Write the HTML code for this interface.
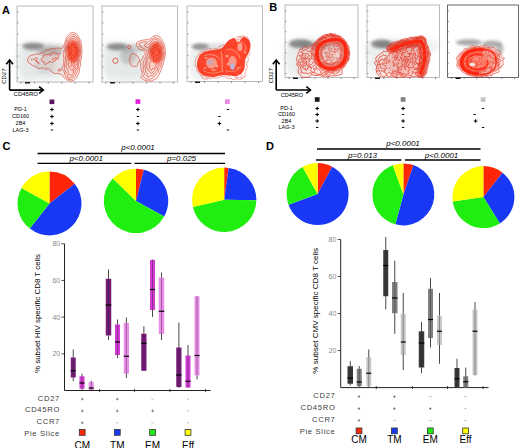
<!DOCTYPE html>
<html><head><meta charset="utf-8"><style>html,body{margin:0;padding:0;background:#fff;width:520px;height:448px;overflow:hidden}</style></head>
<body><svg width="520" height="448" viewBox="0 0 520 448" style="display:block" font-family='"Liberation Sans", sans-serif'>
<rect width="520" height="448" fill="#fff"/>
<defs>
<filter id="bl" x="-50%" y="-50%" width="200%" height="200%"><feGaussianBlur stdDeviation="2"/></filter>
<filter id="bl05" x="-50%" y="-50%" width="200%" height="200%"><feGaussianBlur stdDeviation="0.5"/></filter>
<filter id="bl15" x="-50%" y="-50%" width="200%" height="200%"><feGaussianBlur stdDeviation="1.4"/></filter>
<filter id="bl1" x="-50%" y="-50%" width="200%" height="200%"><feGaussianBlur stdDeviation="1"/></filter>
<filter id="bl3" x="-50%" y="-50%" width="200%" height="200%"><feGaussianBlur stdDeviation="3.5"/></filter>
</defs>
<text x="2" y="14" font-size="11" text-anchor="start" fill="#000" font-weight="bold">A</text>
<text x="269.3" y="11" font-size="11" text-anchor="start" fill="#000" font-weight="bold">B</text>
<text x="2.5" y="150" font-size="11" text-anchor="start" fill="#000" font-weight="bold">C</text>
<text x="266" y="150" font-size="11" text-anchor="start" fill="#000" font-weight="bold">D</text>
<rect x="17" y="6" width="76" height="76" fill="#fff" stroke="#a8a8a8" stroke-width="0.8"/>
<rect x="102" y="6" width="75.5" height="76" fill="#fff" stroke="#a8a8a8" stroke-width="0.8"/>
<rect x="187" y="6" width="75.5" height="75.5" fill="#fff" stroke="#a8a8a8" stroke-width="0.8"/>
<rect x="285" y="5" width="73" height="72.5" fill="#fff" stroke="#a8a8a8" stroke-width="0.8"/>
<rect x="367" y="5" width="72.5" height="72.5" fill="#fff" stroke="#a8a8a8" stroke-width="0.8"/>
<rect x="447.6" y="5" width="70.89999999999998" height="72.5" fill="#fff" stroke="#444" stroke-width="0.8"/>
<path d="M20.0,45.0 C24.2,39.3 37.7,42.8 45.0,44.0 C52.3,45.2 60.8,46.7 64.0,52.0 C67.2,57.3 68.8,71.3 64.0,76.0 C59.2,80.7 42.3,79.7 35.0,80.0 C27.7,80.3 22.5,83.8 20.0,78.0 C17.5,72.2 15.8,50.7 20.0,45.0 Z" fill="#9aa8a8" opacity="0.26" filter="url(#bl3)"/>
<ellipse cx="48" cy="48" rx="24" ry="4" fill="#6e6e6e" opacity="0.25" filter="url(#bl15)"/>
<ellipse cx="33" cy="46" rx="11" ry="3.2" fill="#6e6e6e" opacity="0.7" filter="url(#bl15)"/>
<ellipse cx="50" cy="52" rx="12" ry="4.5" fill="#6e6e6e" opacity="0.3" filter="url(#bl15)"/>
<ellipse cx="45" cy="66" rx="10" ry="8" fill="#6e6e6e" opacity="0.12" filter="url(#bl15)"/>
<ellipse cx="73" cy="52" rx="5.5" ry="11" fill="#ff2a10" opacity="0.75" filter="url(#bl1)"/>
<path d="M71.8,81.0 71.0,81.2 70.5,81.2 69.0,80.8 67.8,80.4 66.5,79.7 65.6,79.0 64.0,77.6 63.8,77.2 63.4,76.2 63.1,75.8 62.5,75.0 62.0,74.6 61.5,74.4 60.8,74.4 60.2,74.3 59.5,73.9 59.0,73.7 57.8,73.6 56.5,73.4 55.2,73.6 54.8,73.6 53.9,73.2 52.5,72.5 52.1,72.2 51.4,71.2 50.5,70.8 50.2,70.5 49.2,69.0 48.9,68.8 48.5,68.7 48.0,68.7 47.2,69.1 46.5,69.1 45.8,69.2 45.2,69.2 44.9,69.0 44.2,68.4 43.2,68.2 42.2,67.8 42.0,67.8 41.0,68.3 40.0,68.3 38.8,68.6 38.2,68.5 37.9,68.2 37.5,67.5 37.2,67.2 37.0,67.1 36.2,67.1 36.0,67.0 35.0,66.4 34.0,65.9 32.8,65.6 32.0,64.7 30.8,64.1 29.5,63.4 28.6,62.8 28.2,62.2 27.5,60.2 27.5,59.8 27.8,58.8 28.6,57.8 28.8,56.8 28.9,56.5 29.2,56.2 31.2,55.2 34.2,54.6 35.8,54.0 36.5,53.9 39.2,54.1 40.0,53.8 41.5,52.7 42.0,52.5 42.2,52.4 43.2,52.8 43.5,52.8 44.0,52.5 44.7,51.2 45.1,50.8 45.5,50.3 46.0,50.0 46.8,49.8 48.0,49.8 49.0,49.9 49.2,49.8 50.5,48.9 51.2,48.6 51.8,48.6 52.8,48.7 54.2,48.2 54.8,48.2 55.8,48.7 56.0,48.6 56.6,48.0 57.0,47.9 58.2,48.2 59.8,48.0 60.2,48.2 60.5,48.9 60.8,48.8 62.8,47.2 64.0,45.5 64.2,45.0 64.3,43.8 64.8,42.8 65.2,41.2 65.8,39.8 66.4,37.8 68.0,35.5 69.9,33.5 70.5,33.1 71.2,32.7 72.5,32.4 73.2,32.4 74.0,32.6 75.0,33.3 76.5,33.9 77.2,34.5 77.8,35.2 78.5,37.0 80.3,39.8 80.7,40.5 82.0,48.0 82.0,49.0 81.9,51.0 81.9,52.5 81.8,54.2 81.5,56.0 81.3,59.0 80.8,60.7 80.6,61.2 80.7,64.2 80.2,66.0 80.1,67.2 79.5,68.2 79.4,68.5 79.7,70.0 79.3,71.2 79.0,73.0 78.0,75.0 77.2,76.2 76.7,77.5 75.4,78.8 74.7,79.8 74.4,80.0 74.0,80.3 71.8,81.0ZM46.4,67.5 46.4,67.2 46.2,67.0 46.0,67.2 46.1,67.5 46.2,67.6 46.4,67.5Z" fill="#ff4a2a" fill-opacity="0.05" stroke="#d8301c" stroke-width="0.65" stroke-opacity="0.9"/>
<path d="M71.5,79.6 70.8,79.7 68.2,79.3 67.5,78.9 66.7,78.2 66.0,77.2 65.5,75.8 64.9,74.8 64.7,74.2 64.7,73.0 64.2,72.0 64.0,71.5 63.2,70.5 62.8,69.6 62.5,69.3 62.0,69.0 61.8,68.8 61.8,68.5 62.0,67.8 62.8,67.0 62.9,66.8 63.1,65.5 63.5,64.8 63.7,64.2 63.8,61.8 63.8,61.3 63.5,60.5 63.4,60.2 63.5,60.0 64.0,59.3 64.0,59.0 63.8,58.2 63.8,57.0 63.4,56.0 63.8,54.2 63.8,53.0 64.0,51.8 64.0,50.8 64.1,50.2 64.8,49.1 64.9,48.5 65.2,46.5 65.8,45.0 66.2,42.2 66.6,40.8 67.2,39.1 68.8,37.3 71.4,35.0 72.2,34.6 72.8,34.5 75.0,35.0 75.7,35.5 76.7,36.5 77.4,37.8 78.7,39.2 79.3,40.2 79.6,41.0 79.6,42.5 80.0,43.5 80.2,44.8 80.6,46.2 80.5,47.8 80.8,49.5 80.7,51.0 80.8,52.2 80.6,54.2 80.1,56.0 79.9,57.8 79.9,59.2 79.4,61.0 79.1,62.8 78.7,64.8 78.5,67.2 78.1,69.2 77.7,70.2 77.4,71.2 75.9,74.8 74.8,76.8 74.0,77.3 72.8,78.8 72.1,79.2 71.5,79.6ZM45.0,64.5 44.5,64.4 44.1,64.0 44.0,63.5 44.4,62.8 44.4,62.5 44.2,62.0 44.0,61.8 43.8,61.7 43.0,61.8 42.8,61.7 42.5,61.5 41.8,60.4 41.1,59.8 41.0,59.5 41.0,59.2 41.2,58.9 42.8,58.0 43.3,57.5 43.4,57.0 43.2,55.8 43.2,55.5 43.5,55.1 44.0,54.9 45.0,55.1 45.5,55.1 46.8,54.5 47.8,54.4 48.8,54.0 49.2,54.0 49.7,54.2 50.2,55.5 50.5,55.6 50.8,55.5 51.0,55.1 51.1,54.8 51.0,54.2 50.5,53.5 50.6,53.2 50.9,53.0 51.2,52.9 52.5,53.0 52.8,52.9 53.0,52.8 53.5,52.2 54.0,51.9 54.4,52.0 54.6,52.2 54.8,53.4 55.1,53.8 55.5,53.8 55.8,53.7 56.8,53.0 57.0,53.0 57.5,53.2 57.7,53.8 57.9,55.0 58.4,55.8 58.5,56.0 58.5,56.2 58.0,57.2 57.8,57.8 57.9,58.2 58.4,59.0 58.3,59.2 58.2,59.3 58.0,59.4 56.8,59.0 56.2,59.0 56.0,59.2 55.7,59.8 55.2,61.0 55.0,61.2 54.2,61.6 53.2,61.6 53.0,61.7 52.4,62.2 52.0,62.4 51.5,62.5 51.0,62.3 50.5,61.5 50.0,61.2 49.8,61.2 49.3,62.0 48.4,63.0 47.8,63.3 46.8,63.6 45.8,64.3 45.0,64.5ZM60.2,54.1 60.0,54.2 59.8,54.2 59.5,54.0 59.4,53.8 59.5,53.5 59.9,53.2 60.2,53.3 60.4,53.5 60.4,53.8 60.2,54.1ZM36.2,60.8 36.0,60.9 35.8,60.8 35.0,60.5 34.7,60.2 34.2,59.2 33.6,58.8 34.8,58.4 35.0,58.2 35.4,57.8 35.8,57.5 36.2,57.5 37.0,57.8 37.4,58.0 37.4,58.2 37.4,58.5 37.2,58.8 36.6,59.2 36.5,59.4 36.2,60.8ZM56.3,58.5 56.5,58.0 56.4,57.8 56.3,57.5 56.0,57.4 55.8,57.4 55.5,57.5 55.3,57.8 55.2,58.0 55.2,58.3 55.5,58.5 55.8,58.7 56.0,58.7 56.3,58.5ZM53.8,59.8 54.1,59.5 54.1,59.2 54.0,58.8 53.7,58.5 53.3,58.2 53.0,58.2 52.8,58.3 52.4,58.5 52.4,58.8 52.4,59.0 53.0,59.8 53.2,59.9 53.5,59.9 53.8,59.8ZM32.0,59.8 31.8,59.8 31.5,59.8 31.3,59.5 31.4,59.2 31.8,59.0 32.0,58.9 32.4,59.0 32.5,59.2 32.3,59.5 32.0,59.8ZM38.8,63.8 38.5,63.9 38.2,63.0 38.0,62.8 36.7,62.0 36.5,61.8 36.4,61.5 36.5,61.2 36.8,61.1 37.2,61.2 37.8,61.5 38.0,61.8 38.4,62.5 38.8,63.0 38.9,63.5 38.8,63.8ZM59.0,71.0 58.5,71.0 58.2,70.8 58.0,70.5 57.9,70.0 58.1,69.8 59.0,69.4 59.8,68.9 60.0,68.8 60.6,69.0 61.2,69.4 61.3,69.5 61.3,69.8 61.2,70.0 60.8,70.4 60.0,70.8 59.0,71.0Z" fill="#ff4a2a" fill-opacity="0.05" stroke="#d8301c" stroke-width="0.65" stroke-opacity="0.9"/>
<path d="M70.0,78.0 69.2,78.2 68.8,78.2 68.2,78.0 68.0,77.8 67.8,77.5 67.7,77.0 67.6,75.8 67.6,75.0 67.5,74.6 67.2,74.2 66.5,73.4 65.8,72.1 65.2,71.2 64.5,69.8 64.3,69.2 64.4,68.8 64.8,68.0 64.6,66.0 64.7,63.8 65.1,62.0 65.5,60.8 65.6,60.2 65.5,57.2 65.3,56.0 65.4,55.5 65.8,54.5 65.9,54.0 65.8,53.5 65.5,52.5 65.3,50.5 65.8,49.2 66.2,46.8 66.6,45.8 66.9,44.5 67.3,43.5 67.7,41.8 67.9,41.0 68.1,40.5 69.6,38.5 70.8,37.7 71.8,36.8 72.5,36.5 73.2,36.4 74.0,36.4 74.5,36.6 74.8,36.7 75.5,37.5 76.7,38.5 77.6,39.8 78.2,41.0 78.4,41.5 78.6,42.8 79.5,45.5 79.6,46.2 79.7,48.0 80.0,49.8 80.0,52.5 79.7,54.0 79.0,56.5 78.7,58.5 78.6,59.5 78.0,61.8 77.9,63.8 77.5,65.5 77.6,66.5 77.5,67.0 77.1,68.0 76.8,69.0 76.5,69.5 75.4,70.5 75.2,70.8 75.2,71.0 75.2,71.8 74.9,72.8 74.5,73.7 73.9,74.5 73.4,75.8 72.5,76.9 72.2,77.1 71.1,77.5 70.0,78.0Z" fill="#ff4a2a" fill-opacity="0.05" stroke="#d8301c" stroke-width="0.65" stroke-opacity="0.9"/>
<path d="M71.5,75.5 71.2,75.6 71.0,75.5 70.2,74.9 69.5,74.8 69.2,74.7 68.8,74.0 68.3,73.2 68.0,72.5 67.9,72.0 67.9,71.0 67.9,70.5 67.8,70.2 67.2,69.5 67.1,69.2 67.1,68.5 67.1,68.2 66.2,67.5 66.0,67.1 65.9,66.8 66.0,65.9 66.2,65.4 66.8,64.8 67.0,64.0 66.9,63.2 66.5,62.2 66.4,61.8 66.9,60.5 66.8,59.5 67.0,57.8 66.8,55.8 67.0,54.5 67.0,53.0 66.6,50.5 66.6,50.0 66.9,48.0 67.5,46.5 67.6,45.0 68.3,43.5 68.6,41.8 68.9,41.0 70.2,39.5 70.8,39.1 71.2,38.9 72.2,38.7 73.2,38.1 73.8,38.0 74.2,38.2 75.0,39.1 76.0,39.7 77.2,41.6 77.8,43.2 78.5,45.0 78.6,45.5 78.7,46.8 79.3,49.5 79.4,50.0 79.0,53.0 78.7,54.8 78.1,57.2 77.6,58.5 76.9,62.0 77.1,63.2 77.1,63.8 76.9,64.2 76.0,65.8 75.4,66.2 75.2,66.5 75.2,67.0 75.6,68.2 75.6,68.8 75.5,69.0 75.2,69.2 74.1,69.8 73.8,70.0 73.7,70.5 73.6,72.0 73.5,72.5 72.6,73.5 72.0,75.0 71.8,75.3 71.5,75.5Z" fill="#ff4a2a" fill-opacity="0.05" stroke="#d8301c" stroke-width="0.65" stroke-opacity="0.9"/>
<path d="M72.2,70.4 71.8,70.2 71.2,69.8 70.8,69.2 69.8,68.5 69.0,67.8 68.8,67.2 68.7,66.2 68.3,64.8 68.2,64.0 68.3,63.5 68.5,63.2 69.0,62.8 69.1,62.5 68.7,61.8 68.2,59.5 68.3,58.2 68.2,56.5 68.5,55.0 68.3,54.0 68.3,53.0 67.7,51.5 67.6,50.8 67.7,50.2 68.0,49.2 68.0,48.8 67.9,48.2 67.9,47.8 68.3,46.5 68.5,45.0 69.0,43.8 69.3,42.5 69.5,41.8 69.8,41.4 70.0,41.1 71.5,40.2 72.0,40.0 73.5,40.0 74.0,40.2 74.8,41.1 76.0,41.6 76.3,42.0 76.8,43.5 77.5,44.5 77.8,45.0 77.8,45.5 77.7,46.5 77.7,47.0 78.1,48.0 78.5,49.2 78.6,50.2 78.4,51.8 77.9,53.5 77.9,54.8 77.5,56.5 77.4,57.0 76.7,58.0 76.6,59.2 76.4,60.8 76.0,61.3 75.0,61.9 74.7,62.2 74.6,63.0 74.8,63.5 75.1,64.0 75.2,64.2 75.1,64.5 75.0,64.8 74.2,65.5 73.8,66.2 73.7,66.8 74.0,67.8 74.0,68.0 73.8,68.2 72.9,69.0 72.5,70.2 72.2,70.4Z" fill="#ff4a2a" fill-opacity="0.05" stroke="#d8301c" stroke-width="0.65" stroke-opacity="0.9"/>
<path d="M71.2,66.6 71.0,66.6 70.8,66.3 70.6,65.8 70.6,65.5 70.8,65.2 71.5,64.7 71.7,64.2 71.7,64.0 71.1,63.2 71.0,63.0 71.0,62.5 71.2,62.0 72.1,61.0 72.3,60.5 72.2,60.2 71.8,60.1 70.0,60.1 69.7,60.0 69.4,59.5 69.3,58.8 69.7,57.5 69.1,56.8 69.0,56.2 69.1,55.0 69.0,52.0 68.5,50.8 68.5,50.2 68.8,49.2 68.5,47.8 68.7,46.8 69.2,45.5 69.5,45.0 70.0,44.5 70.1,43.2 70.2,42.8 70.5,42.6 72.2,41.6 72.8,41.4 73.2,41.4 74.0,41.8 75.2,42.6 75.6,43.0 75.9,44.2 76.6,45.2 76.8,45.8 77.0,47.1 77.4,48.2 77.7,49.5 77.8,50.2 77.8,51.0 77.6,52.0 77.0,53.5 77.0,55.2 76.8,56.5 76.5,56.9 75.8,57.5 75.6,57.8 75.3,59.0 75.1,60.0 75.0,60.2 74.0,60.6 73.7,61.0 73.6,61.5 73.2,63.5 73.3,64.5 73.2,65.0 73.0,65.3 72.8,65.5 72.0,65.8 71.2,66.6Z" fill="#ff4a2a" fill-opacity="0.05" stroke="#d8301c" stroke-width="0.65" stroke-opacity="0.9"/>
<path d="M72.0,58.8 71.5,58.8 71.3,58.8 71.2,58.5 71.3,57.2 71.3,56.8 71.0,56.5 70.1,56.0 69.9,55.8 69.8,54.5 69.9,53.8 70.1,53.2 70.8,52.5 70.8,52.0 70.6,51.5 69.9,50.2 69.9,49.2 69.3,48.2 69.2,47.5 69.4,46.8 69.7,46.2 70.0,46.0 70.8,45.6 71.0,45.4 71.2,45.0 71.7,44.0 72.0,43.6 72.2,43.4 72.8,43.2 73.5,43.1 74.5,43.4 74.9,43.8 75.1,44.2 75.3,45.0 76.1,46.2 76.9,48.8 77.0,50.2 77.0,51.0 76.9,51.8 76.5,53.0 76.2,54.8 76.0,55.2 75.7,55.8 75.0,56.6 73.9,57.5 73.6,58.0 73.4,58.2 73.0,58.5 72.0,58.8Z" fill="#ff4a2a" fill-opacity="0.05" stroke="#d8301c" stroke-width="0.65" stroke-opacity="0.9"/>
<path d="M74.0,56.1 73.5,56.2 73.2,56.1 72.7,55.8 72.2,55.2 72.1,55.0 72.0,54.3 71.5,53.9 71.4,53.8 71.5,53.5 71.8,52.8 71.9,52.2 71.9,52.0 71.4,51.2 71.2,50.8 71.2,50.4 71.6,49.8 71.6,49.5 71.2,48.5 71.0,48.1 70.5,47.5 70.4,47.2 70.5,47.0 70.6,46.8 71.6,46.0 72.1,45.5 72.6,44.5 73.0,44.3 73.2,44.3 73.6,44.5 73.6,44.8 73.3,45.5 73.5,47.0 73.8,47.2 74.7,47.8 75.0,49.6 75.2,50.1 75.8,51.0 76.0,51.5 75.9,52.2 75.8,53.0 75.5,53.5 74.9,54.0 74.6,55.5 74.2,56.0 74.0,56.1ZM75.2,47.8 75.0,47.7 74.8,47.5 74.8,47.0 75.0,46.8 75.2,46.8 75.5,47.2 75.5,47.7 75.2,47.8Z" fill="#ff4a2a" fill-opacity="0.05" stroke="#d8301c" stroke-width="0.65" stroke-opacity="0.9"/>
<path d="M105.0,45.0 C109.2,39.8 123.2,42.3 130.0,44.0 C136.8,45.7 143.5,49.3 146.0,55.0 C148.5,60.7 150.2,73.8 145.0,78.0 C139.8,82.2 121.7,80.5 115.0,80.0 C108.3,79.5 106.7,80.8 105.0,75.0 C103.3,69.2 100.8,50.2 105.0,45.0 Z" fill="#9aa8a8" opacity="0.26" filter="url(#bl3)"/>
<ellipse cx="132" cy="48" rx="24" ry="4" fill="#6e6e6e" opacity="0.25" filter="url(#bl15)"/>
<ellipse cx="117" cy="46.5" rx="10.5" ry="3.2" fill="#6e6e6e" opacity="0.7" filter="url(#bl15)"/>
<ellipse cx="128" cy="56" rx="8" ry="8" fill="#6e6e6e" opacity="0.28" filter="url(#bl15)"/>
<ellipse cx="156" cy="53" rx="5.5" ry="10.5" fill="#ff2a10" opacity="0.72" filter="url(#bl1)"/>
<circle cx="115.4" cy="60.8" r="2.6" fill="none" stroke="#d8301c" stroke-width="0.7"/>
<circle cx="129.2" cy="47" r="1.6" fill="none" stroke="#d8301c" stroke-width="0.7"/>
<path d="M150.2,81.0 147.0,80.9 144.2,80.1 143.5,79.8 141.4,78.2 140.9,77.8 140.6,77.2 140.6,77.0 140.7,76.8 141.5,76.0 141.8,75.6 142.3,74.2 142.3,73.5 142.1,72.5 141.0,69.5 141.0,69.0 141.1,67.8 141.0,67.4 140.6,66.5 140.5,65.5 140.6,65.0 140.8,64.2 140.9,63.8 140.8,63.4 140.0,62.2 139.9,61.8 140.1,61.5 140.8,61.1 141.0,60.8 142.0,59.3 142.6,58.2 143.4,56.0 143.7,55.5 144.5,54.8 144.9,54.2 145.0,53.8 145.2,52.0 145.0,51.5 144.8,51.2 144.2,50.8 141.2,49.8 140.0,49.5 139.4,49.2 138.0,48.0 137.4,46.8 136.4,45.5 136.2,44.8 137.0,42.5 137.5,42.0 139.0,41.2 141.8,40.2 143.0,40.2 145.8,39.7 147.2,39.7 149.5,39.2 150.1,39.0 151.0,38.1 152.0,37.6 152.8,36.7 154.0,35.9 155.0,35.6 156.5,35.6 157.1,35.8 158.2,36.3 159.2,36.5 159.6,36.8 159.8,37.0 160.5,38.2 161.7,39.2 162.0,39.6 162.2,40.0 162.5,41.0 162.6,41.2 163.4,42.0 163.7,42.5 164.1,44.2 164.6,45.5 165.0,47.2 165.0,48.5 165.2,50.0 165.2,51.2 165.4,53.0 165.2,56.0 164.1,60.0 163.8,61.5 162.8,64.7 162.5,66.0 162.4,66.5 161.6,68.0 161.2,69.5 160.5,70.8 160.2,72.0 159.8,73.0 159.0,74.3 158.3,75.8 157.5,76.9 157.0,78.0 155.2,79.2 154.2,79.6 153.5,80.2 153.1,80.5 152.0,80.8 150.2,81.0ZM136.2,66.6 135.8,66.6 132.8,66.0 131.8,66.1 131.2,65.8 130.8,65.2 130.4,64.8 130.2,64.2 130.0,63.0 129.8,61.8 129.5,61.1 129.3,60.5 129.2,59.2 129.4,58.8 129.9,58.0 130.1,57.5 130.0,56.0 130.2,55.5 131.0,54.7 131.7,53.8 132.0,53.5 132.2,53.4 133.0,53.4 134.0,53.8 134.8,54.1 135.6,54.8 136.5,55.0 137.0,55.4 137.5,56.0 138.0,57.3 138.8,58.7 139.7,59.8 139.7,60.2 139.5,61.2 139.3,61.5 138.8,61.9 138.3,62.5 137.7,63.8 137.6,64.8 137.4,65.2 136.8,66.2 136.2,66.6Z" fill="#ff4a2a" fill-opacity="0.05" stroke="#d8301c" stroke-width="0.65" stroke-opacity="0.9"/>
<path d="M148.8,79.3 147.2,79.1 145.2,78.5 144.8,78.1 144.2,77.4 143.6,76.8 143.3,76.2 143.5,75.5 143.8,75.1 144.5,74.5 144.6,74.0 144.5,73.5 144.0,72.7 143.2,71.2 143.1,70.5 143.1,70.0 143.4,67.8 143.0,65.2 143.3,62.8 143.8,60.8 144.2,60.0 144.6,58.8 145.2,57.8 145.6,57.0 145.9,55.2 146.8,53.8 147.0,53.2 147.0,52.5 146.9,51.0 146.8,50.5 146.3,50.0 144.8,49.1 143.2,48.8 142.9,48.5 142.5,47.8 142.0,47.3 141.5,47.1 140.8,47.2 140.5,47.1 140.3,47.0 139.4,44.5 139.3,44.0 139.3,43.5 139.5,43.2 139.8,43.0 141.0,42.7 141.8,42.2 142.2,42.0 142.8,42.0 143.8,42.1 145.0,41.7 147.2,41.9 148.8,41.7 149.0,41.6 149.7,41.0 151.8,39.5 153.2,38.8 154.2,37.6 154.8,37.3 155.2,37.2 155.8,37.5 156.5,38.3 157.2,38.5 158.5,38.6 159.2,39.1 159.9,39.8 161.0,41.5 162.0,42.5 162.2,42.8 162.8,44.9 163.4,46.2 163.6,48.0 164.0,49.5 163.8,51.2 163.9,51.8 164.4,52.8 164.5,53.2 164.4,53.8 164.2,54.5 163.8,55.5 163.6,57.0 163.0,59.2 162.5,61.2 162.3,61.8 161.5,62.8 161.3,64.5 161.1,65.2 160.1,67.5 159.0,69.2 158.4,71.0 158.1,72.0 157.9,72.5 157.0,73.5 155.8,74.4 155.0,75.7 154.0,77.0 153.8,77.2 153.0,77.7 152.0,78.4 151.5,78.6 150.0,79.1 148.8,79.3Z" fill="#ff4a2a" fill-opacity="0.05" stroke="#d8301c" stroke-width="0.65" stroke-opacity="0.9"/>
<path d="M148.5,76.8 148.0,76.8 147.5,76.7 147.2,76.6 147.1,76.2 147.0,75.8 147.2,74.8 147.1,74.2 146.8,73.5 146.1,72.5 145.9,72.0 145.8,71.2 145.3,70.0 145.3,69.5 145.4,68.5 144.8,66.5 144.7,65.8 144.8,65.2 145.4,64.0 145.4,63.5 145.2,62.8 145.2,62.2 145.4,62.0 146.1,61.2 146.4,60.8 146.3,60.2 146.1,59.5 146.1,58.8 146.4,58.0 147.2,57.0 147.4,56.5 147.5,55.5 148.5,52.0 148.4,49.8 148.4,48.2 148.2,47.7 148.0,47.4 146.2,47.1 145.5,46.7 145.0,46.4 144.8,46.0 144.6,45.5 144.5,44.5 144.6,44.2 144.9,44.0 146.0,43.5 146.5,43.4 147.0,43.5 147.2,43.6 148.0,44.4 148.2,44.5 148.5,44.4 150.0,43.1 150.9,42.0 151.7,41.2 152.4,40.5 153.8,39.8 154.5,39.2 155.0,39.1 156.8,39.7 158.5,40.6 159.2,41.2 160.5,42.3 161.1,43.0 161.5,44.2 162.1,45.8 162.7,47.8 162.9,49.8 162.9,51.5 163.4,53.0 163.5,53.8 163.0,55.0 162.8,56.5 162.4,57.5 162.0,59.2 161.1,61.2 160.3,62.2 160.2,62.8 160.2,63.8 160.0,64.2 158.4,66.8 157.6,68.5 157.5,69.0 157.4,70.0 157.2,70.5 156.8,71.0 154.5,73.0 154.2,73.5 153.8,74.5 152.8,75.6 152.2,75.7 151.5,75.6 151.0,75.7 149.2,76.5 148.5,76.8Z" fill="#ff4a2a" fill-opacity="0.05" stroke="#d8301c" stroke-width="0.65" stroke-opacity="0.9"/>
<path d="M152.0,73.3 151.5,73.4 151.1,73.2 150.4,72.5 148.9,71.2 148.5,70.8 147.5,68.9 146.8,68.0 146.7,67.5 146.8,66.8 146.5,65.8 146.5,65.2 146.8,64.5 146.8,64.2 146.5,63.2 146.5,62.8 146.7,62.2 147.3,61.5 147.5,61.0 147.8,59.2 147.7,58.8 147.8,58.4 148.8,56.8 149.2,55.8 149.3,53.8 149.7,52.2 149.7,51.0 149.8,49.2 149.4,48.0 149.4,47.5 149.5,46.5 149.8,45.8 150.7,44.0 151.5,43.0 152.0,42.8 154.2,41.9 155.2,41.4 155.8,41.3 156.0,41.3 156.2,41.4 157.2,42.0 158.2,42.3 159.5,42.9 160.0,43.2 160.1,43.5 160.2,44.8 160.3,45.0 161.0,45.6 161.3,46.0 161.9,48.2 162.1,49.8 161.8,51.5 162.3,53.0 162.4,53.5 162.4,54.0 162.0,56.0 161.4,57.2 161.3,58.8 160.7,60.2 160.2,60.8 159.6,61.2 159.3,61.5 159.0,63.0 158.5,63.8 158.1,64.8 156.9,66.5 156.4,67.5 155.8,68.5 155.2,69.5 154.8,70.0 153.9,70.8 153.3,71.8 152.2,73.2 152.0,73.3Z" fill="#ff4a2a" fill-opacity="0.05" stroke="#d8301c" stroke-width="0.65" stroke-opacity="0.9"/>
<path d="M151.5,70.2 151.2,70.2 151.0,70.1 150.3,69.2 149.9,68.5 149.7,67.8 149.4,66.0 149.3,64.8 148.9,63.8 148.8,63.2 148.8,63.0 149.0,62.8 149.2,62.6 149.5,62.5 150.2,62.5 150.7,62.2 150.9,61.8 150.9,61.0 150.8,60.5 150.2,59.6 150.1,59.0 149.9,57.0 150.0,56.2 150.4,55.2 150.3,54.2 150.5,52.2 150.5,50.5 150.8,49.0 150.9,48.0 151.3,46.8 151.3,45.5 151.5,44.8 152.0,44.3 152.5,44.1 153.8,43.9 154.1,43.8 154.8,43.0 155.2,42.7 155.5,42.7 156.2,42.8 157.5,42.8 158.0,43.0 158.6,43.5 158.8,44.0 159.0,45.0 159.4,45.5 160.5,46.4 160.8,47.0 161.2,49.5 161.0,51.0 161.0,51.5 161.6,53.5 161.6,54.0 161.4,55.2 161.1,56.0 160.7,57.0 160.6,57.5 160.5,58.8 160.1,59.8 159.8,60.1 158.8,60.7 158.5,61.0 157.9,62.2 157.3,63.0 156.9,63.5 155.8,64.5 155.4,65.2 155.2,66.8 154.4,68.2 154.1,68.5 153.8,68.6 152.8,68.6 152.4,68.8 152.1,69.0 151.8,69.8 151.5,70.2Z" fill="#ff4a2a" fill-opacity="0.05" stroke="#d8301c" stroke-width="0.65" stroke-opacity="0.9"/>
<path d="M153.8,62.3 153.5,62.2 153.5,62.0 153.9,61.2 153.9,61.0 153.7,60.8 153.5,60.5 153.2,60.3 152.2,60.1 152.0,59.9 151.3,58.8 151.1,58.2 150.9,56.8 151.0,56.5 151.5,55.5 151.5,54.8 151.5,53.5 151.1,51.2 151.1,50.5 151.2,50.0 152.2,47.5 152.4,46.2 152.7,45.8 153.2,45.4 154.5,45.0 155.5,44.4 156.8,43.8 157.2,43.7 157.5,43.8 157.8,44.0 158.3,45.5 158.5,45.8 159.7,46.8 160.1,47.5 160.3,49.0 160.3,51.5 160.7,53.5 160.7,55.2 159.7,57.5 159.1,59.2 158.8,59.7 158.0,60.3 157.2,61.3 156.8,61.6 156.2,61.6 156.0,61.5 155.2,60.6 155.0,60.6 154.4,61.0 154.0,62.1 153.8,62.3Z" fill="#ff4a2a" fill-opacity="0.05" stroke="#d8301c" stroke-width="0.65" stroke-opacity="0.9"/>
<path d="M156.8,59.3 156.0,58.6 155.5,58.4 155.2,58.5 154.8,58.9 154.2,59.1 153.5,58.9 153.2,58.8 153.1,58.5 152.9,58.0 152.9,57.8 153.0,57.5 153.2,57.3 154.2,57.0 154.2,56.8 152.8,56.3 152.5,56.0 152.4,55.8 152.5,55.4 153.0,54.8 153.2,54.5 153.2,54.2 152.4,52.8 151.9,51.2 151.9,50.8 152.0,50.2 152.5,49.0 152.9,48.2 153.6,47.5 153.7,47.2 153.7,46.5 154.0,46.2 155.0,45.9 156.0,45.3 156.5,45.2 156.8,45.2 157.0,45.4 157.9,46.8 157.9,47.0 157.6,47.8 157.8,48.2 158.0,48.5 158.2,48.6 159.0,48.8 159.2,48.9 159.4,49.2 159.7,51.2 159.6,52.2 159.4,53.2 159.2,54.8 159.0,55.2 159.0,56.2 158.9,56.8 158.2,58.2 158.0,58.6 157.5,59.0 156.8,59.3Z" fill="#ff4a2a" fill-opacity="0.05" stroke="#d8301c" stroke-width="0.65" stroke-opacity="0.9"/>
<path d="M156.5,56.0 155.8,55.8 155.2,55.5 155.1,55.2 154.6,54.2 153.3,53.0 153.1,52.5 153.1,52.2 153.2,51.9 153.5,51.7 154.6,51.2 154.9,51.0 154.9,50.8 154.7,50.5 154.0,50.2 153.6,50.0 153.4,49.8 153.4,49.5 153.5,49.0 153.8,48.5 154.9,47.8 155.5,47.0 155.8,46.8 156.0,46.8 156.2,46.9 156.5,47.3 157.0,48.5 157.1,49.0 157.1,50.0 157.2,50.2 157.5,50.5 158.5,50.4 158.8,50.5 158.9,50.8 159.0,51.2 159.0,51.8 158.9,52.2 158.5,53.5 158.0,54.5 157.7,55.0 157.2,55.6 156.8,55.9 156.5,56.0Z" fill="#ff4a2a" fill-opacity="0.05" stroke="#d8301c" stroke-width="0.65" stroke-opacity="0.9"/>
<path d="M190.0,50.0 C192.2,45.3 201.7,45.8 205.0,50.0 C208.3,54.2 212.2,70.3 210.0,75.0 C207.8,79.7 195.3,82.2 192.0,78.0 C188.7,73.8 187.8,54.7 190.0,50.0 Z" fill="#9aa8a8" opacity="0.18" filter="url(#bl3)"/>
<ellipse cx="215" cy="47" rx="22" ry="4" fill="#6e6e6e" opacity="0.2" filter="url(#bl15)"/>
<ellipse cx="200" cy="46.5" rx="8.5" ry="3.2" fill="#6e6e6e" opacity="0.65" filter="url(#bl15)"/>
<path d="M240.0,79.8 239.5,79.8 239.0,79.7 238.7,79.5 238.2,78.9 238.0,78.7 237.8,78.7 236.5,79.0 235.8,78.9 235.2,78.9 234.5,79.3 234.0,79.4 232.2,79.4 231.9,79.2 231.6,79.0 231.2,78.0 231.0,77.8 230.8,78.0 230.0,78.8 229.5,79.1 229.2,79.1 229.0,79.0 228.2,78.3 228.0,78.2 227.0,78.3 226.7,78.2 226.4,78.0 226.2,77.5 225.8,76.2 225.5,76.0 225.2,76.0 225.0,76.0 224.0,76.5 223.5,76.7 222.2,76.4 221.8,76.4 220.5,76.9 219.2,77.7 218.5,77.9 217.5,77.9 216.5,78.1 215.2,77.9 214.0,78.1 213.7,78.0 213.2,77.3 213.0,77.2 212.8,77.3 211.0,78.7 210.5,78.9 210.2,79.0 210.0,79.0 209.8,78.8 209.6,77.8 209.2,77.5 209.0,77.5 208.5,77.6 208.2,77.8 208.0,78.0 207.9,78.8 207.7,79.0 207.2,79.1 204.8,79.0 202.5,78.4 202.2,78.0 202.2,77.8 202.9,77.0 203.0,76.8 202.9,76.5 202.8,76.2 202.5,76.0 201.8,75.8 201.2,75.7 200.5,75.8 200.2,75.8 200.2,75.5 200.6,75.0 200.6,74.8 200.4,74.5 199.5,73.9 198.6,73.0 198.4,72.5 198.3,71.8 197.5,71.5 197.2,71.4 197.0,71.0 196.9,70.5 197.0,69.0 197.3,68.2 197.3,68.0 197.2,67.8 197.0,67.5 195.7,66.8 195.4,66.5 195.1,66.0 195.0,65.2 195.1,64.5 195.2,64.1 195.8,63.5 195.8,63.2 195.0,62.5 194.8,62.1 194.7,61.8 194.9,61.2 195.5,60.5 195.8,60.0 195.9,59.0 196.2,58.0 196.3,57.2 196.5,56.8 196.7,56.5 197.0,56.3 197.8,56.2 198.0,56.0 198.7,54.5 199.3,53.5 199.7,52.5 200.0,52.3 201.0,52.1 201.5,51.9 202.5,50.9 203.0,50.7 203.2,50.8 203.8,51.2 204.0,51.2 205.4,50.2 206.2,49.4 206.5,49.2 207.0,49.2 207.4,49.2 207.7,49.5 208.0,50.5 208.2,50.9 208.8,51.1 209.5,51.1 209.7,51.0 209.8,50.8 209.9,50.2 209.7,49.5 209.5,49.2 209.0,48.8 209.0,48.5 209.2,48.3 209.5,48.3 210.2,48.5 211.5,48.6 211.8,48.8 212.5,49.5 213.0,49.7 213.2,49.7 213.5,49.5 214.0,48.5 214.2,48.3 215.0,48.4 216.5,49.0 217.0,49.0 217.5,48.8 218.1,48.2 219.5,46.4 219.8,46.2 220.5,46.2 221.0,46.1 221.5,45.8 222.0,45.2 222.5,45.0 223.0,45.0 224.0,45.4 224.5,45.3 224.8,45.1 225.2,44.5 225.5,44.3 226.8,44.0 227.0,43.8 227.2,43.2 227.2,42.4 227.5,42.4 228.0,42.6 228.2,42.5 228.5,42.3 229.0,41.5 229.3,41.2 230.2,40.9 231.2,40.4 232.2,40.4 232.5,40.3 232.8,40.1 233.5,39.4 234.5,38.8 235.5,37.8 236.8,37.0 237.0,36.9 237.8,36.9 238.5,36.5 239.0,36.5 240.5,36.4 241.5,36.6 241.8,36.5 242.2,35.7 242.5,35.6 242.8,35.5 243.2,35.6 243.7,36.0 244.2,36.3 245.2,36.6 246.2,36.7 246.8,36.9 247.4,37.5 248.4,39.0 248.7,40.0 249.3,41.2 249.4,42.8 249.9,43.8 250.4,45.2 250.4,45.8 250.2,47.0 250.3,48.2 249.5,49.9 249.0,51.8 249.1,52.5 249.8,53.5 249.9,54.0 249.7,54.5 249.5,55.0 248.0,56.5 247.8,56.8 247.6,57.2 247.7,57.8 248.4,58.5 248.5,58.8 248.5,59.2 247.8,61.5 247.2,62.5 246.8,64.0 246.0,65.2 246.3,65.5 246.8,65.7 247.3,66.0 247.5,66.2 247.5,66.5 247.4,67.0 246.8,68.3 246.5,68.6 245.7,69.0 245.7,69.2 246.1,70.2 246.0,70.8 245.3,71.5 245.0,72.0 244.9,73.5 245.1,75.8 244.9,76.8 244.7,77.2 244.2,77.6 243.2,77.8 243.0,77.9 242.0,78.9 240.8,79.2 240.0,79.8ZM242.9,69.8 243.2,69.5 243.3,69.2 243.0,69.1 242.8,69.2 242.5,69.5 242.5,69.8 242.8,69.8 242.9,69.8Z" fill="none" stroke="#d8301c" stroke-width="0.55" stroke-opacity="0.8"/>
<path d="M241.5,77.8 241.2,77.8 239.2,77.0 239.0,76.9 238.8,77.0 238.0,77.6 237.2,77.9 236.5,77.9 235.9,77.8 235.6,77.5 235.5,77.2 235.9,76.5 236.0,76.0 235.8,75.6 235.4,75.2 235.0,75.0 234.5,74.9 234.0,74.9 233.2,75.1 233.0,75.1 232.0,74.8 230.8,74.5 230.4,74.2 230.0,73.1 229.8,72.8 229.5,72.8 229.0,73.2 228.7,73.8 228.8,74.5 229.5,75.5 229.4,76.0 229.2,76.3 229.0,76.4 228.5,76.4 227.8,76.1 225.8,74.5 225.5,74.4 224.5,74.4 223.5,74.3 223.2,74.2 222.6,73.5 222.2,73.3 221.5,73.1 221.0,73.2 220.4,73.5 219.2,74.1 217.8,74.3 216.8,74.7 216.2,74.6 215.4,74.0 215.0,73.9 214.8,74.0 214.3,74.2 214.0,74.5 213.6,75.2 213.4,75.5 212.0,76.5 211.5,76.7 211.0,76.6 209.8,76.2 209.4,76.0 209.1,75.0 208.8,74.9 208.5,74.9 208.1,75.2 208.0,75.5 208.2,76.2 208.1,76.5 207.2,77.0 206.5,77.9 206.2,77.9 206.0,77.9 205.8,77.6 205.3,76.0 205.1,75.8 204.8,75.7 204.2,76.2 202.8,75.3 202.3,74.8 202.1,74.2 202.2,73.9 202.5,73.8 203.8,74.1 204.0,74.1 204.2,73.8 204.3,73.5 204.2,73.2 204.0,73.0 203.5,72.8 203.0,72.7 202.2,72.9 202.0,72.8 202.0,72.2 202.5,71.2 202.4,70.8 202.2,70.4 202.0,70.1 201.8,70.1 200.5,70.5 200.2,70.5 199.9,70.2 199.6,70.0 199.4,69.5 199.4,69.2 199.7,68.5 199.5,68.2 198.5,67.5 197.8,66.8 197.0,66.3 196.8,66.0 196.8,65.8 196.9,65.5 197.4,65.0 197.7,64.2 199.2,61.5 199.2,61.0 198.9,60.2 198.9,59.8 199.2,59.2 199.9,58.5 200.2,58.0 200.2,57.2 200.2,56.8 199.8,56.1 199.6,55.8 199.6,55.5 199.8,55.0 200.2,54.5 200.5,54.3 200.8,54.3 201.5,54.6 202.0,54.3 202.8,53.6 203.0,53.5 203.8,53.6 204.2,53.5 204.7,53.0 205.2,52.0 205.5,51.7 206.0,51.7 206.2,51.9 206.8,52.5 207.0,52.4 207.5,51.9 208.0,51.7 208.5,51.6 209.5,51.8 210.0,51.7 210.4,51.5 210.5,51.3 210.8,50.5 211.0,50.2 211.2,50.1 211.5,50.2 211.8,50.5 212.2,51.0 212.5,51.2 212.8,51.2 214.2,51.0 215.2,50.4 215.5,50.4 216.5,50.9 216.8,50.9 217.2,50.9 217.8,50.7 218.5,49.9 218.8,49.8 219.2,49.7 220.2,49.9 220.8,49.8 221.2,49.5 222.0,48.8 223.0,48.5 223.3,48.2 223.8,47.4 224.2,47.0 225.2,46.8 226.2,46.3 226.5,46.3 227.5,46.7 228.0,46.6 228.2,46.4 228.7,46.0 229.0,45.5 229.1,44.5 229.2,44.0 229.5,43.7 229.8,43.6 230.0,43.7 230.4,44.2 230.8,44.5 232.2,44.7 232.8,44.5 233.0,44.2 233.2,43.5 233.5,43.3 234.5,43.3 234.8,43.2 235.0,42.9 235.6,41.5 235.6,40.2 235.8,39.9 236.2,39.6 237.2,39.5 237.7,39.2 238.0,39.0 238.7,38.0 239.3,37.5 239.8,37.3 240.2,37.3 241.2,37.6 241.8,37.7 242.2,37.5 243.0,37.1 243.5,37.0 244.0,37.1 244.5,37.3 245.0,37.8 245.1,38.0 245.4,39.5 245.5,39.6 246.2,39.4 246.5,39.4 246.8,39.8 246.9,40.2 246.6,41.2 246.7,41.8 247.0,42.1 248.0,42.5 248.1,42.8 248.4,44.0 248.4,45.2 248.9,46.8 248.9,48.8 248.8,49.5 248.1,51.2 248.0,52.2 247.9,52.8 246.9,53.8 245.4,55.8 245.3,56.2 245.4,56.5 245.8,57.0 245.8,57.2 244.8,58.6 244.5,58.7 244.0,58.6 243.7,58.8 243.7,59.0 243.8,59.2 244.5,59.8 244.6,60.0 244.4,60.8 244.5,61.5 244.8,61.9 245.2,61.8 245.5,61.9 245.6,62.2 245.5,62.4 245.2,62.5 244.8,62.2 244.5,62.3 244.2,62.5 244.1,63.0 244.1,64.0 244.0,64.8 244.2,66.0 244.1,66.8 243.7,67.5 243.4,68.0 242.2,68.6 241.4,69.5 241.1,70.0 240.9,70.5 241.0,71.8 240.3,73.0 240.3,73.5 240.7,74.0 241.5,74.6 241.9,75.0 242.2,75.5 242.4,76.0 242.0,77.4 241.8,77.7 241.5,77.8ZM234.1,46.8 234.8,46.0 235.5,45.8 236.0,45.5 236.2,45.0 236.2,44.8 236.0,44.6 235.5,44.4 235.1,44.5 234.0,45.5 233.8,45.8 233.7,46.2 233.8,46.5 234.0,46.9 234.1,46.8ZM198.9,66.0 198.8,65.7 198.5,65.6 198.3,65.8 198.5,66.0 198.9,66.0ZM212.2,73.8 212.3,73.5 212.3,73.2 212.1,72.8 211.8,72.6 211.5,72.7 211.3,73.2 211.4,73.5 211.8,73.7 212.2,73.8Z" fill="none" stroke="#d8301c" stroke-width="0.55" stroke-opacity="0.8"/>
<path d="M206.5,74.3 206.0,74.2 205.6,74.0 205.5,73.8 205.6,73.2 205.8,72.9 206.0,72.8 206.8,73.0 207.0,73.0 207.2,72.9 207.5,72.5 207.6,72.2 207.6,71.8 207.5,71.6 206.4,70.8 205.5,69.5 205.2,69.5 204.2,70.0 204.0,70.0 203.6,69.0 203.2,68.5 202.0,67.9 201.3,67.2 201.1,66.8 201.4,65.5 201.2,64.8 201.3,64.5 201.7,63.5 202.0,62.8 201.8,61.8 201.9,61.5 202.2,61.3 203.0,61.1 203.5,60.8 204.2,60.0 205.0,59.6 205.3,59.2 205.2,59.0 205.0,58.5 203.5,57.7 202.9,57.0 202.8,56.5 202.9,56.2 203.2,55.8 203.5,55.5 204.0,55.4 204.5,55.5 205.2,56.0 205.5,56.1 206.2,55.8 207.0,55.7 207.8,55.5 208.1,55.2 208.2,55.0 208.3,54.8 208.3,53.2 208.5,52.8 208.8,52.6 210.0,52.6 211.2,52.5 212.5,52.8 213.8,53.0 214.8,53.7 215.8,53.8 216.2,53.8 216.5,53.6 217.2,52.8 217.5,52.5 218.0,52.3 219.0,52.1 219.5,52.4 220.0,53.0 220.1,53.2 220.1,54.2 220.2,54.7 220.5,55.0 220.8,55.2 221.0,55.2 221.3,55.0 221.5,54.8 221.7,53.5 221.9,53.2 222.0,53.2 223.0,53.0 223.4,52.8 223.6,52.2 223.6,51.5 223.8,51.0 223.9,50.8 224.2,50.5 224.8,50.4 225.2,50.5 225.6,50.8 226.2,51.4 226.8,51.7 227.0,51.7 227.5,51.5 227.7,51.2 227.6,50.8 227.3,50.0 226.7,49.2 226.7,49.0 227.0,48.8 227.7,48.8 228.2,48.7 228.8,48.9 229.0,48.8 229.8,47.5 230.2,47.1 231.5,46.7 232.2,46.7 232.8,47.0 233.5,48.1 233.8,48.4 234.2,48.6 234.8,48.5 234.9,48.2 234.9,47.2 235.1,46.8 236.2,46.0 236.8,45.2 237.1,44.8 237.2,44.5 237.1,44.2 236.0,43.6 235.8,43.2 236.0,42.5 236.8,41.2 237.2,40.7 238.5,40.2 239.5,39.2 240.0,38.9 240.5,38.9 241.0,39.0 241.3,39.2 241.7,40.0 242.0,40.2 242.2,40.1 242.3,39.5 242.5,39.2 242.8,39.0 243.0,38.9 243.3,39.0 243.5,39.5 243.7,40.8 243.9,41.5 243.9,42.8 244.0,43.2 244.2,43.5 244.5,43.6 244.8,43.5 245.2,42.5 245.5,42.4 245.8,42.4 246.0,42.5 246.5,43.0 246.7,43.2 246.8,43.8 247.2,46.2 247.2,46.8 247.0,47.8 247.0,48.8 246.8,49.0 246.2,49.2 246.0,49.5 245.6,50.2 245.0,51.1 244.9,51.5 245.0,52.5 244.8,53.0 244.5,53.2 243.8,53.4 243.5,53.6 243.2,54.0 243.1,54.5 243.0,54.7 242.8,54.8 242.0,54.7 241.0,53.9 240.8,54.2 240.8,54.7 240.9,55.0 241.8,55.5 242.4,56.2 242.5,56.5 242.6,58.2 242.5,58.6 242.0,59.2 241.9,59.5 242.9,60.2 243.0,60.5 243.1,61.0 242.8,61.3 242.0,61.4 241.2,61.3 240.8,61.0 240.5,61.2 240.5,62.0 240.3,62.2 239.8,62.5 239.5,62.7 239.0,63.2 238.1,64.0 237.9,64.2 237.9,64.8 238.0,64.9 238.8,64.8 239.5,64.5 239.8,64.1 240.2,62.9 240.5,62.6 241.0,62.6 242.2,63.1 242.8,63.7 242.9,64.2 242.8,64.8 242.5,65.1 242.0,65.3 241.0,65.3 240.5,65.5 239.8,66.2 239.5,66.3 239.0,66.4 238.4,66.2 237.9,66.0 237.8,65.6 237.6,65.8 237.9,67.2 238.1,67.8 238.8,68.4 239.8,68.9 239.7,69.2 238.8,69.7 237.6,70.5 237.0,70.7 236.2,70.8 235.8,70.7 235.0,70.2 234.8,70.1 234.0,70.5 233.2,70.8 233.0,71.0 232.9,71.2 232.9,71.5 233.1,71.8 233.9,72.5 234.1,73.0 234.1,73.2 233.8,73.5 233.5,73.6 232.0,73.8 231.5,73.7 231.2,73.6 230.9,73.0 230.6,72.2 230.2,70.6 230.1,71.0 229.8,71.1 229.2,71.3 228.5,71.2 228.3,71.0 228.6,70.2 228.5,69.8 228.2,69.4 227.8,69.0 227.5,69.0 227.3,69.2 226.6,70.5 226.5,71.0 226.3,71.2 225.2,71.7 224.5,72.3 224.2,72.4 223.8,72.4 222.0,72.1 221.6,72.0 221.3,71.8 221.2,71.5 221.2,71.0 221.4,70.0 221.2,69.8 221.0,69.9 220.0,70.6 218.8,70.7 217.8,71.3 217.4,71.2 217.2,71.2 217.0,70.8 216.8,70.2 216.8,69.8 217.0,69.2 217.0,68.8 216.8,68.5 216.5,68.3 216.0,68.2 215.8,68.3 215.6,68.5 215.5,68.8 215.5,69.8 215.2,70.8 215.2,71.0 215.6,71.8 215.5,72.1 215.2,72.5 214.2,72.9 213.8,73.0 213.2,72.7 212.5,72.0 212.0,71.8 211.5,71.7 210.2,71.8 210.1,72.0 210.0,72.9 209.8,73.3 209.4,73.5 208.5,73.7 207.0,74.2 206.5,74.3ZM241.0,44.8 241.1,44.2 241.0,44.0 240.8,44.1 240.7,44.2 240.8,44.7 241.0,44.8ZM244.0,46.5 244.3,46.0 244.4,45.5 244.2,45.2 244.0,45.0 243.8,45.0 243.2,45.2 243.0,45.5 242.7,46.0 242.7,46.2 242.8,46.5 243.2,46.7 243.8,46.6 244.0,46.5ZM227.0,55.2 227.2,55.0 227.2,54.5 227.0,54.2 226.8,54.2 226.4,54.5 226.2,54.8 226.2,55.0 226.3,55.2 226.5,55.3 226.8,55.4 227.0,55.2ZM243.8,55.6 243.5,55.4 243.5,55.1 243.8,55.1 243.9,55.2 243.8,55.6ZM204.0,67.0 204.3,66.5 204.4,66.0 204.3,65.8 204.1,65.5 203.8,65.3 203.2,65.2 203.0,65.3 202.8,65.5 202.8,65.8 203.2,66.7 203.5,67.0 203.8,67.1 204.0,67.0ZM235.2,69.0 235.5,68.5 235.5,68.2 235.1,67.8 234.8,67.6 234.5,67.5 234.2,67.7 234.2,68.0 234.4,68.8 234.8,69.2 235.0,69.2 235.2,69.0ZM223.9,70.0 224.5,69.8 224.7,69.5 224.7,69.2 224.5,69.0 224.0,68.7 222.8,68.5 222.2,68.5 222.0,68.8 221.9,69.5 222.0,69.8 222.3,70.0 223.0,70.2 223.9,70.0ZM209.4,71.5 209.7,71.2 209.6,71.0 209.5,70.5 209.2,70.2 209.0,70.1 208.5,70.1 208.2,70.2 208.0,70.5 207.8,71.0 208.0,71.3 208.5,71.5 209.4,71.5ZM236.5,73.3 236.2,73.2 236.1,73.0 236.2,72.8 236.5,72.7 236.7,72.8 236.8,73.0 236.8,73.1 236.5,73.3Z" fill="none" stroke="#d8301c" stroke-width="0.55" stroke-opacity="0.8"/>
<path d="M197.0,63.0 C197.3,59.7 199.2,55.2 202.0,53.0 C204.8,50.8 210.7,50.8 214.0,50.0 C217.3,49.2 219.7,49.5 222.0,48.0 C224.3,46.5 226.0,42.7 228.0,41.0 C230.0,39.3 232.3,37.8 234.0,38.0 C235.7,38.2 236.3,42.2 238.0,42.0 C239.7,41.8 242.0,37.0 244.0,37.0 C246.0,37.0 249.2,39.5 250.0,42.0 C250.8,44.5 249.8,49.0 249.0,52.0 C248.2,55.0 245.8,57.0 245.0,60.0 C244.2,63.0 245.3,67.3 244.0,70.0 C242.7,72.7 240.3,75.2 237.0,76.0 C233.7,76.8 228.2,74.8 224.0,75.0 C219.8,75.2 216.0,77.3 212.0,77.0 C208.0,76.7 202.5,75.3 200.0,73.0 C197.5,70.7 196.7,66.3 197.0,63.0 Z" fill="#ff2a0c" opacity="0.85" filter="url(#bl05)"/>
<path d="M204,56 C210,53 218,55 220,60" fill="none" stroke="#f8c0a0" stroke-width="0.9" opacity="0.7"/>
<path d="M226,50 C232,47 238,52 240,58" fill="none" stroke="#f8c0a0" stroke-width="0.9" opacity="0.7"/>
<path d="M203,70 C208,74 216,74 222,71" fill="none" stroke="#f8c0a0" stroke-width="0.9" opacity="0.6"/>
<path d="M236,42 C242,40 246,44 246,50" fill="none" stroke="#f8c0a0" stroke-width="0.9" opacity="0.6"/>
<path d="M225,70 C230,73 238,72 241,66" fill="none" stroke="#f8c0a0" stroke-width="0.9" opacity="0.6"/>
<ellipse cx="211.5" cy="63" rx="5.5" ry="5.5" fill="#f4a898" opacity="0.85" filter="url(#bl05)"/>
<ellipse cx="232.5" cy="62" rx="4" ry="6" fill="#f4a898" opacity="0.85" filter="url(#bl05)"/>
<ellipse cx="240" cy="47" rx="2.5" ry="4" fill="#f8b8a8" opacity="0.8" filter="url(#bl05)"/>
<path d="M221,52 C223,58 221,66 223,72" fill="none" stroke="#f8b090" stroke-width="1.2" opacity="0.7"/>
<ellipse cx="210" cy="62" rx="3" ry="2.5" fill="#c0a8c0" opacity="0.7" filter="url(#bl05)"/>
<ellipse cx="232.5" cy="66.5" rx="2.2" ry="3.2" fill="#b8b8e0" opacity="0.95" filter="url(#bl05)"/>
<ellipse cx="214" cy="70" rx="3" ry="1" fill="#f8c090" opacity="0.6"/>
<ellipse cx="206" cy="58" rx="1.5" ry="1" fill="#f8c8b0" opacity="0.7"/>
<ellipse cx="217" cy="66" rx="1.2" ry="1.5" fill="#f8c8b0" opacity="0.7"/>
<ellipse cx="227" cy="56" rx="1.5" ry="1.2" fill="#f8c8b0" opacity="0.7"/>
<ellipse cx="238" cy="68" rx="1.2" ry="1" fill="#f8c8b0" opacity="0.7"/>
<ellipse cx="245" cy="52" rx="1" ry="1.5" fill="#f8c8b0" opacity="0.7"/>
<ellipse cx="228" cy="64" rx="1" ry="1.5" fill="#f8c8b0" opacity="0.7"/>
<ellipse cx="205" cy="68" rx="1.2" ry="1" fill="#f8c8b0" opacity="0.7"/>
<path d="M288.0,42.0 C295.0,36.7 323.0,38.7 330.0,40.0 C337.0,41.3 332.5,46.3 330.0,50.0 C327.5,53.7 320.0,57.7 315.0,62.0 C310.0,66.3 304.5,74.3 300.0,76.0 C295.5,77.7 290.0,77.7 288.0,72.0 C286.0,66.3 281.0,47.3 288.0,42.0 Z" fill="#9aa8a8" opacity="0.2" filter="url(#bl3)"/>
<ellipse cx="322" cy="45" rx="22" ry="4" fill="#6e6e6e" opacity="0.3" filter="url(#bl15)"/>
<ellipse cx="300.5" cy="43.8" rx="11.5" ry="4.6" fill="#6e6e6e" opacity="0.78" filter="url(#bl15)"/>
<ellipse cx="320" cy="45" rx="10" ry="3" fill="#6e6e6e" opacity="0.3" filter="url(#bl15)"/>
<path d="M309.0,77.3 304.0,77.3 302.4,77.2 301.2,75.8 299.8,74.6 298.7,73.5 298.4,73.0 298.1,70.5 298.3,70.0 298.9,69.2 299.0,68.9 298.8,68.5 298.3,68.0 298.2,67.8 298.4,67.0 298.4,66.5 298.0,66.1 297.2,65.7 297.0,65.5 296.8,65.2 296.8,64.5 297.0,62.7 297.3,61.5 296.7,60.5 296.6,59.0 296.7,58.5 297.2,57.2 297.4,55.8 298.1,54.5 298.2,54.0 297.9,53.2 298.0,52.8 298.2,52.5 298.5,52.3 299.5,52.0 299.8,51.8 299.8,51.2 299.5,50.2 299.6,50.0 299.8,49.7 300.0,49.4 300.5,49.2 301.0,49.2 301.8,49.7 302.0,49.6 302.2,49.5 302.5,49.1 302.6,48.2 302.7,48.0 303.8,47.5 304.5,46.8 305.2,46.5 306.2,46.5 306.9,46.8 307.0,47.0 307.0,48.0 307.1,48.2 307.3,48.5 308.0,48.5 308.7,48.2 309.0,48.0 309.2,47.1 310.0,46.5 310.6,45.5 311.0,45.0 311.5,44.7 312.5,44.6 313.0,44.5 313.2,44.2 313.8,43.3 314.0,43.0 315.0,42.5 316.0,41.7 317.2,40.0 318.5,38.5 319.2,38.0 320.5,37.3 322.2,35.8 323.2,35.3 326.0,34.6 327.0,34.4 328.2,34.4 328.5,34.2 329.2,33.7 329.8,33.5 330.2,33.4 331.5,33.5 332.0,33.6 333.0,34.1 334.8,34.1 335.2,34.2 335.8,34.4 336.5,35.0 337.0,35.2 338.2,35.4 339.5,36.0 340.5,36.4 341.0,36.7 341.9,37.5 342.8,38.1 343.8,39.2 345.0,40.3 345.8,41.2 346.4,42.2 346.8,43.8 348.3,45.5 348.6,46.0 348.9,47.2 349.1,49.2 349.3,50.2 349.4,51.2 349.7,52.2 349.8,52.8 349.6,54.5 349.2,56.2 349.1,58.0 348.7,59.8 347.5,61.9 345.8,64.4 344.6,66.8 343.7,67.5 343.0,68.5 342.1,69.5 342.0,69.9 342.0,70.2 342.2,71.5 341.8,72.5 342.2,73.2 342.2,73.5 341.9,74.0 341.2,74.4 340.0,74.7 338.8,75.4 338.2,75.4 337.5,75.2 337.0,75.2 336.0,75.9 335.8,75.9 334.5,75.6 334.0,75.5 333.5,75.6 332.5,75.9 332.0,76.0 330.8,75.8 328.2,76.7 327.8,76.8 327.0,76.6 325.8,76.0 325.2,76.1 324.5,76.3 324.0,76.4 322.5,76.1 321.2,76.2 320.9,76.0 320.4,75.2 320.0,75.0 319.8,75.0 319.2,75.0 317.8,75.6 317.2,75.7 316.0,75.4 314.8,75.5 313.8,75.1 312.5,75.1 311.8,74.6 311.2,74.5 310.9,74.8 310.5,75.6 309.8,76.3 309.0,77.3ZM313.9,69.2 314.2,68.8 314.5,68.5 315.8,67.8 316.8,67.5 317.0,67.2 316.9,67.0 316.8,66.8 315.2,65.6 314.8,65.4 313.5,65.2 313.2,65.4 313.1,65.8 313.0,67.2 313.2,67.8 313.6,68.5 313.7,69.2 313.9,69.2Z" fill="#ff4a2a" fill-opacity="0.07" stroke="#e02a18" stroke-width="0.7" stroke-opacity="1.0"/>
<path d="M328.2,75.5 327.8,75.6 327.5,75.5 327.1,74.8 326.8,74.5 325.0,74.3 324.5,74.3 324.3,74.5 324.0,75.0 323.6,75.2 323.2,75.3 322.5,75.3 322.0,75.2 321.7,75.0 320.9,74.2 320.2,74.1 319.2,74.2 317.8,74.7 317.2,74.7 316.8,74.5 316.5,74.2 315.5,72.9 315.2,72.7 315.0,72.7 314.0,72.9 313.5,72.8 313.2,72.6 313.0,72.6 312.2,73.1 311.5,73.3 311.0,73.2 310.2,72.7 310.0,72.6 309.8,72.7 309.5,72.9 309.0,73.7 308.8,73.9 308.2,74.1 307.8,74.2 307.2,74.1 307.0,73.9 306.5,73.0 306.2,72.7 306.0,72.7 305.0,73.3 304.5,73.4 304.0,73.3 303.0,72.9 301.0,72.8 300.7,72.5 300.7,72.2 300.8,72.0 301.5,71.3 301.6,71.0 301.1,70.0 300.8,69.0 300.6,68.2 300.7,67.2 300.7,66.5 300.5,66.1 300.2,65.9 299.0,65.4 298.6,65.0 298.3,64.5 298.2,64.2 298.3,64.0 298.8,63.6 298.9,63.2 299.0,63.0 298.7,62.0 298.7,60.8 298.8,60.2 299.0,59.8 299.4,59.2 299.7,59.0 301.0,58.6 301.3,58.2 301.4,58.0 301.3,57.8 300.5,56.6 300.2,56.4 299.7,56.2 299.4,56.0 299.3,55.8 299.4,55.5 299.5,55.3 299.8,55.2 300.5,55.3 302.0,54.7 302.6,54.2 303.4,53.2 303.4,53.0 303.2,53.0 301.8,52.9 301.3,52.8 301.2,52.5 301.3,52.0 301.5,51.5 301.8,51.3 303.1,50.8 304.8,49.9 305.8,49.7 306.2,49.8 307.0,50.2 307.2,50.5 307.6,51.2 307.8,51.4 308.0,51.5 309.2,51.5 309.8,51.4 310.0,51.1 310.4,50.2 311.0,49.6 311.9,47.8 312.0,47.2 311.8,46.5 311.8,46.2 312.0,46.0 313.6,45.2 313.8,45.0 314.4,44.0 315.5,43.3 316.0,42.9 317.0,41.8 318.1,40.0 318.8,39.2 320.7,38.0 321.8,37.0 322.5,36.6 324.0,36.3 325.0,35.6 326.0,35.2 327.0,35.0 328.2,35.1 328.5,35.0 329.8,34.2 330.2,34.0 330.8,34.0 331.5,34.2 332.8,34.8 333.2,34.8 334.2,34.7 335.0,34.9 336.6,35.8 338.2,36.1 340.0,36.8 340.5,37.1 342.2,38.5 342.9,39.2 344.0,40.2 344.8,41.0 345.4,41.8 345.7,42.2 345.8,42.8 346.0,43.7 346.1,44.0 346.8,44.8 348.0,46.8 348.1,47.2 348.2,49.7 349.0,52.8 349.0,54.2 348.9,55.0 348.2,56.2 348.2,56.8 348.4,57.5 348.4,58.2 348.3,59.2 348.0,60.0 347.5,60.8 346.2,62.0 344.0,66.0 343.0,66.9 341.6,68.5 340.8,69.8 339.8,70.5 339.5,70.9 339.0,72.0 338.8,72.2 338.5,72.3 337.2,72.5 336.2,73.3 335.6,74.0 335.2,74.3 335.0,74.3 334.5,74.2 332.2,73.1 331.2,73.3 330.8,73.4 330.3,73.8 328.7,75.2 328.2,75.5ZM329.6,45.8 329.8,45.5 329.9,45.2 329.8,44.5 329.5,44.0 329.2,43.8 329.0,43.8 328.7,44.0 328.5,44.2 328.4,44.5 328.5,44.8 328.8,45.3 329.1,45.8 329.2,45.8 329.5,45.8 329.6,45.8ZM332.5,44.8 332.6,44.5 332.4,44.0 332.0,43.8 331.8,44.0 331.8,44.2 332.0,44.5 332.2,44.7 332.5,44.8ZM337.8,46.8 337.8,46.5 337.7,46.0 337.3,44.8 337.1,44.5 336.7,44.2 336.2,44.0 335.8,44.0 335.5,44.1 335.3,44.5 335.3,44.8 335.8,45.3 336.0,46.0 336.3,46.2 337.8,46.8 337.8,46.8ZM325.9,46.2 326.5,45.8 326.8,45.2 327.0,44.8 327.0,44.5 326.8,44.2 326.5,44.2 326.3,44.2 326.0,44.5 325.6,45.5 325.2,46.0 325.1,46.2 325.2,46.4 325.5,46.4 325.9,46.2ZM334.4,46.2 334.8,46.0 334.9,45.8 334.9,45.2 334.8,45.1 334.0,44.9 332.9,45.0 332.8,45.2 332.9,45.5 333.3,46.0 333.8,46.3 334.0,46.3 334.4,46.2ZM324.6,49.5 324.8,49.1 324.8,48.8 324.6,48.0 324.5,47.5 324.2,47.3 324.0,47.2 323.8,47.3 323.2,47.5 323.0,47.8 322.8,48.2 322.8,48.8 322.9,49.0 323.2,49.3 324.2,49.7 324.5,49.7 324.6,49.5ZM337.6,51.5 337.8,51.2 338.0,50.5 338.1,50.2 338.5,50.1 339.0,50.1 339.1,50.0 339.2,49.8 338.9,49.0 338.2,48.0 338.0,47.8 337.8,47.9 337.5,48.2 337.1,48.8 337.2,49.8 337.0,50.5 337.0,51.0 337.2,51.4 337.5,51.5 337.6,51.5ZM335.3,49.8 335.5,49.0 335.4,48.8 335.3,48.5 334.9,48.2 334.5,48.1 334.0,48.2 333.9,48.2 334.0,48.5 334.6,49.8 334.8,49.9 335.0,49.9 335.3,49.8ZM329.4,58.2 329.5,57.8 329.4,57.5 329.2,57.2 327.5,56.6 326.5,56.0 326.2,55.9 326.0,55.8 325.8,56.0 325.8,56.2 326.4,58.0 326.5,58.1 327.8,57.9 329.0,58.4 329.2,58.4 329.4,58.2ZM310.3,59.2 310.2,58.8 310.0,58.4 309.8,58.2 309.5,58.2 309.2,58.3 309.2,58.5 309.2,58.8 309.5,59.2 310.0,59.4 310.2,59.5 310.3,59.2ZM330.7,61.0 330.8,60.8 330.8,60.5 330.5,60.3 330.2,60.2 330.0,60.4 329.7,60.8 329.7,61.0 330.0,61.1 330.5,61.1 330.7,61.0ZM313.3,72.2 314.7,71.2 314.8,71.0 314.9,70.2 315.1,69.5 315.5,69.0 315.8,68.8 316.5,68.7 317.8,68.9 318.2,69.2 319.0,69.7 319.5,69.9 319.8,69.9 320.1,69.8 320.3,69.5 320.3,69.2 320.2,68.9 320.1,68.5 318.8,67.0 318.2,65.8 317.0,64.9 315.5,64.1 315.1,63.8 314.2,62.4 313.5,61.6 313.2,61.5 312.9,62.5 312.0,64.2 311.5,64.5 310.5,64.6 310.0,64.7 309.5,65.0 309.4,65.2 309.5,65.5 310.3,66.2 310.6,66.8 310.7,67.2 310.8,68.0 311.0,68.0 311.2,67.5 311.5,67.3 311.6,67.5 311.5,68.3 311.3,69.0 310.9,69.8 310.8,70.2 310.8,70.8 310.9,71.2 311.3,71.5 312.6,72.0 313.0,72.3 313.3,72.2Z" fill="#ff4a2a" fill-opacity="0.07" stroke="#e02a18" stroke-width="0.7" stroke-opacity="1.0"/>
<path d="M322.2,73.5 321.8,73.4 320.8,72.8 320.6,72.5 320.4,72.0 320.5,71.5 320.9,71.0 321.2,70.8 322.2,70.5 322.4,70.2 322.4,70.0 322.3,69.8 321.3,68.5 320.2,67.6 319.4,66.8 319.1,66.2 318.8,65.3 318.5,65.1 317.2,64.1 316.2,63.7 315.8,63.2 314.9,61.8 313.7,59.0 313.5,58.8 313.2,58.7 312.5,58.8 311.8,58.7 311.2,58.4 311.0,58.0 311.0,57.2 311.6,56.0 311.7,55.2 311.4,54.5 310.8,53.5 310.7,53.0 311.3,52.0 311.5,51.0 312.2,50.0 312.4,48.8 313.1,46.8 313.5,46.3 314.2,45.6 315.0,44.5 316.0,43.7 317.3,42.2 318.0,41.3 318.5,40.2 318.9,39.8 321.2,38.2 322.0,37.5 322.2,37.3 322.8,37.1 323.9,37.0 324.5,36.8 325.8,35.9 326.2,35.7 326.8,35.6 328.2,35.7 328.8,35.5 329.5,35.0 330.0,34.7 330.5,34.6 331.0,34.6 331.5,34.8 332.8,35.3 333.2,35.4 334.2,35.3 334.8,35.4 336.5,36.3 338.2,36.7 339.6,37.2 340.0,37.5 341.5,38.8 342.2,39.8 342.5,40.0 343.5,40.4 344.6,41.5 345.0,42.2 345.6,44.0 346.3,45.0 347.1,46.8 347.2,47.8 347.6,49.0 347.7,50.2 348.4,52.2 348.5,53.5 348.5,54.2 348.4,54.8 348.1,55.2 347.4,56.0 347.4,56.5 347.8,57.8 347.9,58.2 347.8,59.0 347.5,59.8 347.0,60.5 345.8,61.6 344.6,63.8 344.0,64.6 343.5,65.5 343.2,65.9 342.0,67.2 340.9,68.0 340.0,69.0 339.2,69.5 338.5,70.3 338.0,70.6 336.8,71.0 335.5,71.0 335.0,71.1 334.6,71.5 334.2,72.2 334.0,72.5 333.8,72.5 333.3,72.0 333.0,71.9 332.5,71.9 331.5,72.4 331.0,72.5 330.5,72.4 330.0,71.9 329.8,71.9 327.8,73.0 327.0,73.3 326.5,73.3 326.0,73.3 325.0,72.8 324.2,72.6 323.8,72.7 322.2,73.5ZM328.1,63.8 328.9,63.5 329.3,63.2 330.0,62.6 330.5,62.4 331.8,62.2 333.2,62.8 333.8,62.7 334.2,62.5 335.7,61.5 336.5,60.7 337.2,60.2 337.3,60.0 337.3,59.5 336.7,58.2 337.0,58.1 337.2,58.2 338.5,58.5 339.0,58.5 339.5,58.2 340.2,57.0 340.4,56.2 340.4,55.0 340.2,54.5 339.8,54.0 339.6,53.8 339.6,53.2 339.8,52.6 340.4,52.0 340.6,51.8 340.7,51.0 340.7,50.2 340.1,49.0 339.8,47.8 339.0,46.9 337.6,44.2 337.1,43.8 336.1,43.2 335.5,43.2 334.8,43.4 334.2,43.4 332.0,42.7 331.6,42.8 330.8,43.0 330.5,43.0 330.2,42.8 329.8,42.2 329.5,42.1 329.2,42.1 328.8,42.2 328.0,42.8 327.8,42.8 326.8,42.4 326.6,42.5 326.4,43.0 326.2,43.2 325.1,44.2 324.2,45.2 323.5,46.2 322.5,47.2 321.5,48.8 321.5,49.2 321.9,50.2 321.8,50.8 321.2,52.0 321.1,52.8 321.3,54.2 321.2,55.0 321.3,55.5 321.5,55.8 321.8,55.9 322.5,56.1 322.8,56.2 323.1,57.0 323.6,57.8 323.6,58.2 323.4,59.2 323.5,59.5 323.8,59.8 324.8,60.5 324.9,60.8 324.5,61.8 324.7,62.0 325.2,62.2 325.5,62.3 325.8,62.2 326.5,61.7 326.8,61.8 327.1,62.2 326.9,63.2 327.1,63.5 327.5,63.7 328.1,63.8ZM330.2,51.5 330.0,51.5 329.8,51.2 328.7,50.0 328.7,49.8 328.8,48.8 328.7,48.0 328.8,47.8 329.0,47.7 329.5,47.6 329.8,47.7 330.1,48.0 330.5,48.6 330.8,48.8 331.8,48.9 332.1,49.2 332.1,49.5 331.4,50.0 330.8,51.2 330.5,51.4 330.2,51.5ZM335.8,52.6 335.2,52.7 334.8,52.6 333.8,52.1 332.8,51.9 332.5,51.8 332.5,51.5 332.8,51.0 333.0,50.9 334.0,51.4 335.2,51.0 335.8,51.1 336.0,51.2 336.2,51.8 336.1,52.2 335.8,52.6ZM332.5,60.6 332.2,60.6 332.0,60.4 331.5,59.4 331.2,59.1 330.7,58.8 330.5,58.3 330.4,57.2 330.0,56.8 329.5,56.5 328.0,56.0 327.4,55.5 326.8,54.5 326.5,54.3 325.8,54.2 324.8,53.5 324.7,53.2 324.6,52.8 324.8,52.2 325.1,52.0 325.5,52.0 325.8,53.0 326.5,53.7 326.8,53.7 326.9,53.5 327.0,53.2 327.0,52.2 327.2,52.0 327.5,51.9 328.0,51.8 328.2,51.8 328.7,52.0 329.2,52.5 330.0,52.5 330.3,52.8 330.3,53.0 330.2,53.2 329.8,53.5 329.2,53.5 329.0,53.7 328.9,54.0 329.0,54.5 329.2,55.0 329.5,55.4 329.8,55.5 330.0,55.5 330.4,55.2 331.0,54.5 331.5,54.0 332.0,53.9 332.2,54.0 332.5,54.2 332.7,54.5 332.7,54.8 332.6,55.2 332.4,55.8 331.8,56.8 332.0,57.1 332.8,57.2 333.0,57.3 334.1,58.2 334.1,58.5 333.5,59.8 333.0,60.3 332.5,60.6ZM306.8,70.1 306.5,70.2 306.0,70.2 305.5,69.9 305.4,69.8 305.4,69.5 305.6,68.8 305.5,68.2 305.2,68.2 304.8,68.8 304.5,69.0 304.2,69.0 304.0,69.0 303.5,68.6 302.0,67.0 301.9,66.5 301.8,65.8 301.6,65.2 301.5,65.1 300.4,64.8 300.2,64.5 300.0,64.0 300.4,62.0 300.6,61.8 301.5,61.1 301.8,60.8 301.9,60.2 302.0,59.3 302.4,58.2 302.3,57.8 301.7,56.8 301.7,56.2 301.7,56.0 302.0,55.7 303.1,55.2 303.3,55.0 303.8,54.2 304.2,53.8 304.8,53.7 305.8,53.6 306.8,53.5 307.2,53.6 308.0,54.2 308.8,54.6 309.2,55.0 309.4,55.2 309.5,55.8 309.3,56.0 309.2,56.1 308.2,56.2 307.8,56.5 307.4,56.8 307.2,57.2 307.3,57.8 308.0,58.5 308.3,59.2 308.5,59.5 309.4,60.2 309.6,60.5 309.7,61.0 309.5,61.3 308.8,61.7 308.5,62.0 308.5,62.5 309.0,63.5 309.1,63.8 309.1,64.0 309.0,64.2 308.4,65.0 308.1,65.5 308.1,65.8 308.2,65.9 309.0,66.1 309.5,66.4 309.6,66.8 309.6,67.0 309.5,67.3 309.2,67.5 308.8,67.7 308.0,67.8 307.3,69.5 307.2,69.8 306.8,70.1ZM335.0,54.5 334.8,54.6 334.7,54.5 334.8,54.2 335.0,54.1 335.1,54.2 335.0,54.5ZM306.4,58.8 306.5,58.2 306.4,58.0 306.0,57.8 305.2,57.5 304.5,57.0 304.0,56.9 303.8,57.0 303.4,57.2 303.3,57.5 303.2,58.0 303.3,58.2 303.7,58.5 305.0,58.6 306.0,59.0 306.2,59.0 306.4,58.8ZM335.8,57.9 335.5,57.9 335.5,57.8 335.8,57.5 335.9,57.8 335.8,57.9ZM328.2,60.1 327.8,60.2 326.9,60.0 327.3,59.5 327.8,59.3 328.0,59.3 328.4,59.5 328.6,59.8 328.5,60.0 328.2,60.1ZM326.2,60.9 326.0,60.9 325.8,60.8 325.5,60.5 325.8,60.2 326.5,60.1 326.7,60.2 326.2,60.9ZM307.5,67.0 307.6,66.8 307.5,66.5 307.2,66.8 307.4,67.0 307.5,67.0Z" fill="#ff4a2a" fill-opacity="0.07" stroke="#e02a18" stroke-width="0.7" stroke-opacity="1.0"/>
<path d="M327.2,72.0 326.5,72.1 326.0,72.0 324.0,70.9 323.6,70.5 323.3,69.2 322.8,68.6 322.0,67.5 321.5,67.3 320.8,67.1 320.2,66.9 319.8,66.3 319.5,66.0 319.2,64.9 319.0,64.5 318.2,64.0 317.5,63.3 316.5,63.0 316.0,62.6 315.6,61.8 314.8,59.0 314.0,57.7 313.1,56.5 312.9,55.2 312.0,53.5 312.0,53.0 312.2,52.4 313.1,51.5 313.4,51.0 313.6,50.0 313.6,49.8 313.2,48.8 313.3,48.2 313.5,47.8 314.0,47.0 314.9,46.0 315.6,45.0 316.2,44.4 318.0,42.2 318.3,41.8 318.7,40.8 319.0,40.2 321.5,38.5 322.2,37.8 322.5,37.7 324.0,37.4 325.2,37.1 325.5,37.0 326.2,36.5 326.5,36.4 327.8,36.3 328.5,36.2 329.0,36.0 330.0,35.3 330.5,35.2 331.0,35.2 333.0,35.8 334.2,35.8 334.8,35.9 336.8,37.0 337.2,37.2 338.0,37.2 338.8,37.5 339.5,37.9 340.9,39.0 341.2,39.4 341.7,40.2 342.0,40.5 343.2,41.0 344.0,41.6 344.4,42.2 344.9,43.8 346.0,45.2 346.4,46.2 346.5,46.8 346.6,47.8 347.1,49.0 347.2,50.5 347.6,51.5 347.9,52.5 348.0,53.5 348.0,54.2 347.8,54.9 347.0,55.5 346.8,55.8 346.8,56.2 347.1,57.2 347.2,58.2 347.1,59.0 347.0,59.5 346.4,60.2 345.5,61.0 345.3,61.2 344.4,63.0 343.7,64.0 343.2,65.2 341.8,66.8 340.5,67.5 339.0,68.5 338.0,69.4 337.5,69.7 336.2,70.1 335.0,70.3 333.5,71.0 331.8,71.3 331.2,71.2 330.2,70.7 329.8,70.7 328.2,71.7 327.2,72.0ZM328.1,64.2 329.8,64.0 331.5,64.2 334.2,63.7 334.8,63.5 335.3,62.8 335.8,62.4 337.5,61.8 338.2,61.3 338.5,61.3 338.8,61.4 339.0,61.8 339.2,61.8 339.5,61.6 339.7,61.2 339.8,60.2 340.2,59.2 340.4,58.2 341.2,56.8 341.1,55.5 341.2,55.0 342.4,52.8 342.4,52.2 342.2,51.7 341.0,49.5 340.8,49.0 340.8,48.5 341.2,47.8 341.3,47.5 341.2,47.4 340.9,47.0 339.5,46.2 338.1,44.0 337.6,43.5 336.0,42.6 335.5,42.4 334.5,42.5 334.0,42.4 332.2,41.9 331.0,41.8 330.2,41.5 329.8,41.4 329.0,41.4 327.5,41.7 327.0,41.5 326.2,41.2 326.0,41.1 325.8,41.2 325.5,41.4 325.3,41.8 325.4,42.8 325.3,43.0 323.8,44.5 322.9,46.0 321.4,47.8 320.9,48.5 320.8,49.0 320.9,50.5 320.5,52.8 320.6,54.2 320.5,55.5 320.6,56.0 320.8,56.2 321.9,57.2 322.2,58.0 322.2,58.5 322.0,59.2 321.9,59.5 321.3,60.0 321.1,60.2 321.1,60.5 321.2,60.8 323.2,62.4 323.6,62.5 324.5,62.6 325.0,62.8 325.4,63.0 326.2,63.8 326.8,64.0 327.5,64.2 328.1,64.2ZM305.5,56.1 305.2,56.1 305.1,56.0 305.0,55.8 305.2,55.5 305.5,55.5 305.6,55.8 305.5,56.1ZM303.8,66.5 303.5,66.5 303.2,66.3 303.0,66.0 302.9,65.5 303.0,65.0 303.5,63.8 303.8,63.4 305.1,63.0 305.4,62.8 305.4,62.5 305.1,62.0 304.8,61.8 304.5,61.6 304.2,61.6 303.8,61.8 303.5,62.0 303.0,62.7 302.7,62.8 302.5,62.7 302.4,62.5 302.4,62.2 303.0,61.2 303.4,59.8 303.8,59.4 304.1,59.2 304.5,59.2 304.8,59.3 305.2,59.6 306.3,60.5 306.6,61.0 306.7,61.5 306.7,62.0 306.2,63.0 306.7,64.2 306.8,64.8 306.7,65.0 306.2,65.3 305.8,65.3 305.0,65.2 304.8,65.3 304.5,65.5 304.0,66.2 303.8,66.5Z" fill="#ff4a2a" fill-opacity="0.07" stroke="#e02a18" stroke-width="0.7" stroke-opacity="1.0"/>
<path d="M328.0,71.1 327.0,71.1 326.5,71.0 326.2,70.9 325.3,69.8 324.8,68.8 324.5,68.5 323.2,67.9 322.3,67.0 321.8,66.7 320.8,66.4 320.5,66.3 320.2,66.0 320.0,65.8 319.9,65.2 320.1,64.5 320.2,64.0 320.0,63.5 319.8,63.2 317.8,61.6 317.2,61.5 316.8,61.6 316.5,61.5 316.2,61.2 315.9,60.2 315.6,59.2 314.4,57.0 314.1,55.8 313.5,54.5 313.4,53.8 313.5,53.4 313.8,53.2 314.5,52.9 314.8,52.8 315.1,52.2 315.4,51.8 315.3,51.2 314.8,50.8 314.7,50.5 314.9,49.5 314.8,49.0 314.4,48.5 314.5,48.4 315.2,48.2 315.5,48.0 315.8,47.6 315.8,46.8 316.1,46.0 316.4,45.5 317.0,44.8 317.9,43.2 318.9,42.0 319.1,41.0 319.4,40.5 322.3,38.2 322.8,38.0 327.2,37.4 328.1,37.0 329.2,36.7 329.5,36.6 330.2,35.9 330.5,35.8 331.0,35.7 333.2,36.3 334.5,36.4 335.2,36.8 336.3,37.8 336.8,38.0 337.5,38.2 338.2,38.8 339.2,38.8 340.0,39.0 340.7,39.5 341.5,40.8 343.0,41.6 343.5,42.0 343.8,42.3 344.4,43.8 345.6,45.5 346.0,46.2 346.1,47.0 346.0,48.0 346.0,48.2 346.5,48.8 346.7,49.2 346.8,50.8 347.4,53.2 347.5,54.0 347.4,54.5 346.5,55.2 346.3,55.8 346.6,57.5 346.5,58.5 346.3,59.2 345.9,60.0 345.0,60.9 344.2,62.2 343.3,63.2 343.2,63.5 342.9,64.8 342.5,65.4 341.1,66.5 339.5,67.3 338.2,67.8 338.0,68.0 337.5,68.7 337.0,69.0 336.2,69.2 333.5,70.3 332.5,70.6 331.5,70.6 330.2,70.1 329.8,70.0 329.3,70.2 328.5,70.8 328.0,71.1ZM332.4,64.8 333.5,64.4 334.8,64.6 335.2,64.2 336.1,63.2 337.2,62.6 337.8,62.6 338.8,62.8 339.2,62.6 339.5,62.5 340.6,61.2 340.9,60.8 341.1,60.2 340.9,59.0 340.9,58.5 341.2,58.0 342.0,57.2 342.2,56.8 342.2,56.2 341.8,55.5 341.8,55.2 342.0,54.9 342.6,54.2 343.4,53.0 343.4,52.8 343.4,52.5 342.8,51.5 342.2,50.3 341.6,49.5 341.4,49.0 341.5,48.8 341.6,48.5 342.1,48.0 342.2,47.8 342.1,47.2 341.8,46.6 341.0,45.8 340.5,45.4 339.8,44.8 339.1,44.2 338.3,43.2 337.0,42.7 336.0,41.9 335.8,41.8 334.2,41.6 333.2,41.3 331.0,40.9 329.0,40.8 328.0,41.1 327.5,41.1 326.2,40.7 325.8,40.7 325.2,41.0 324.7,41.5 324.6,41.8 324.6,42.5 324.5,43.0 324.0,43.5 323.2,44.0 323.0,44.2 322.7,45.2 322.5,45.8 321.8,46.5 320.8,47.1 320.3,47.8 320.1,48.2 320.2,51.0 320.1,51.8 319.9,52.8 320.0,54.0 319.9,54.5 319.3,55.2 319.3,55.5 319.6,56.0 320.9,57.5 321.1,58.0 321.2,58.2 321.1,58.8 321.0,59.0 319.8,60.1 319.6,60.5 319.6,60.8 319.9,61.0 321.1,61.8 322.2,62.2 323.2,62.8 324.8,63.1 325.8,64.0 327.2,64.6 327.8,64.7 329.2,64.6 330.5,64.8 331.8,64.8 332.4,64.8Z" fill="#ff4a2a" fill-opacity="0.07" stroke="#e02a18" stroke-width="0.7" stroke-opacity="1.0"/>
<path d="M318.5,60.6 318.0,60.7 317.2,60.6 316.8,60.4 316.5,60.2 316.3,59.8 315.6,57.5 314.7,55.0 314.6,54.5 315.8,52.2 316.0,51.9 316.4,51.5 316.6,51.2 316.4,50.8 315.7,49.8 315.6,49.2 315.8,48.8 316.3,47.8 316.6,46.2 316.9,45.8 318.1,44.5 318.3,43.8 318.6,43.2 319.0,42.9 319.7,42.5 320.6,41.8 320.8,41.3 320.6,40.8 320.7,40.5 320.9,40.0 321.1,39.8 322.5,38.7 323.0,38.5 324.5,38.5 325.5,38.2 326.2,38.1 326.8,38.3 327.2,39.3 327.5,39.4 327.8,39.4 328.0,39.2 328.5,38.3 328.8,38.1 329.8,38.3 330.0,38.2 330.2,38.0 330.8,36.8 331.0,36.5 331.2,36.4 332.0,36.3 333.2,36.7 334.2,36.9 334.8,37.1 335.5,38.0 336.5,38.5 336.8,38.8 336.9,39.0 337.2,39.8 337.3,40.0 337.5,40.1 337.8,40.1 338.9,39.5 339.2,39.4 339.8,39.5 340.1,39.8 340.8,40.8 341.9,41.5 342.4,42.0 342.9,42.8 343.8,43.7 344.5,44.6 345.1,45.5 345.5,46.2 345.6,46.8 345.5,47.2 345.4,47.5 345.0,47.8 344.0,48.4 343.2,48.5 343.0,48.5 342.8,48.0 342.4,46.8 342.2,46.3 341.8,45.5 341.2,44.9 340.8,44.5 339.8,44.0 339.5,43.8 338.8,42.7 338.5,42.6 337.2,42.2 337.0,42.0 336.6,41.5 336.2,41.3 335.0,41.1 334.0,40.7 332.5,40.4 332.0,40.2 331.5,39.8 331.0,39.6 329.8,40.0 328.8,40.0 327.8,40.5 327.4,40.5 326.8,40.1 326.5,40.1 324.8,40.4 324.5,40.2 324.2,39.8 324.0,39.7 323.6,40.0 323.5,40.2 323.4,40.5 323.8,41.2 324.0,42.0 324.0,42.5 323.8,43.0 323.4,43.2 322.5,43.5 322.3,44.0 322.1,45.0 322.0,45.2 321.8,45.4 321.5,45.5 321.0,45.2 320.5,45.1 320.0,45.4 319.8,45.7 319.7,47.0 319.5,47.3 319.0,47.8 318.8,48.0 318.8,48.2 319.2,49.0 319.3,49.5 319.5,50.5 319.4,50.8 319.3,51.0 319.0,51.1 317.8,51.2 317.4,51.2 317.0,51.5 317.1,51.8 318.2,52.4 319.0,53.0 319.1,53.2 319.2,53.8 318.6,55.0 318.6,55.8 318.9,56.2 319.8,57.2 320.0,57.8 320.2,58.2 320.2,58.5 320.0,58.8 319.5,59.2 318.9,60.2 318.5,60.6ZM328.2,70.1 327.8,70.1 327.2,70.0 326.0,69.1 325.0,68.1 323.7,67.5 322.1,66.2 321.0,65.7 320.8,65.5 320.7,65.2 320.8,64.2 320.6,63.0 320.6,62.8 321.5,62.5 322.2,62.6 323.2,63.3 324.5,63.5 325.5,64.5 326.7,65.0 326.9,65.2 326.9,65.5 326.6,66.0 326.5,66.2 326.6,66.5 327.5,67.5 327.8,67.4 327.9,66.8 327.9,66.2 327.6,65.5 328.2,65.2 328.8,65.1 329.2,65.2 329.9,65.5 330.0,65.7 330.3,65.5 331.0,65.3 332.2,65.3 333.5,65.0 334.0,65.2 334.5,65.9 334.8,66.0 335.0,65.8 335.6,64.8 336.2,64.2 337.8,63.5 339.0,63.3 339.5,63.1 340.2,62.2 341.1,61.2 341.6,60.5 341.7,60.0 341.5,59.0 341.5,58.5 341.8,58.2 342.6,57.5 342.7,57.2 342.8,56.8 342.8,55.5 344.1,53.5 344.2,53.0 344.1,52.2 343.3,51.5 343.1,51.2 342.8,49.9 342.4,49.2 342.4,49.0 342.8,48.7 343.0,48.7 343.5,49.0 345.5,49.1 346.0,49.3 346.3,49.8 346.7,53.8 346.6,54.2 346.0,54.8 345.8,55.2 345.8,55.8 346.0,57.0 345.8,58.8 345.6,59.5 344.6,60.8 344.0,61.8 342.8,63.0 342.5,64.2 342.3,64.8 342.0,65.0 341.0,65.3 340.4,66.0 340.0,66.2 339.0,66.4 338.0,66.8 337.1,67.0 336.8,67.2 335.6,68.2 334.9,69.0 334.5,69.3 333.8,69.6 332.5,69.9 331.8,70.0 331.2,69.9 330.2,69.5 329.8,69.5 329.2,69.6 328.2,70.1ZM330.6,67.2 330.8,67.0 330.9,66.8 330.7,66.5 330.0,65.8 329.8,65.9 329.4,66.5 329.4,66.8 329.6,67.0 330.0,67.3 330.2,67.4 330.6,67.2Z" fill="#ff4a2a" fill-opacity="0.07" stroke="#e02a18" stroke-width="0.7" stroke-opacity="1.0"/>
<path d="M336.2,40.5 336.0,40.6 335.5,40.6 333.2,40.0 332.8,39.8 332.0,39.1 331.3,38.8 331.0,38.5 331.0,38.0 331.2,37.3 331.5,37.0 331.8,36.9 332.2,36.9 332.8,37.2 333.2,37.8 333.5,38.0 334.0,38.1 334.9,38.5 336.0,38.8 336.2,39.0 336.5,39.5 336.5,40.2 336.2,40.5ZM322.2,40.3 322.0,40.5 321.8,40.2 321.8,40.0 322.0,39.8 322.5,39.6 322.6,39.8 322.5,40.0 322.2,40.3ZM344.0,47.8 343.5,47.8 343.1,47.5 343.0,47.0 343.0,46.2 343.0,46.0 342.1,45.0 341.5,44.0 341.2,43.9 340.5,43.8 340.0,43.6 339.6,43.0 339.2,41.9 338.5,41.7 338.0,41.6 337.9,41.2 338.0,41.0 338.3,40.8 338.8,40.7 339.0,40.8 339.3,41.5 339.5,41.7 340.8,41.5 341.2,41.7 341.6,42.0 341.8,42.5 341.9,43.5 342.0,43.6 343.0,43.8 343.5,44.2 344.9,46.5 345.0,47.0 344.8,47.2 344.5,47.6 344.0,47.8ZM323.0,42.3 322.8,42.4 322.0,42.2 321.8,42.0 321.7,41.8 322.0,41.2 322.2,41.1 322.9,41.5 323.0,41.8 323.1,42.0 323.0,42.3ZM320.0,44.5 319.5,44.6 319.2,44.5 319.0,44.0 319.0,43.8 319.2,43.5 320.5,42.7 321.0,42.6 321.2,42.6 321.4,42.8 321.5,43.0 321.4,43.8 321.2,44.0 320.0,44.5ZM317.5,50.3 317.2,50.4 317.0,50.3 316.7,50.0 316.3,49.5 316.2,49.0 316.8,47.8 317.0,46.5 317.2,46.1 318.0,45.4 318.5,45.3 318.8,45.3 319.0,45.6 319.2,46.0 319.2,46.5 319.2,46.8 319.0,47.0 318.4,47.5 318.1,48.0 318.0,48.5 318.2,49.2 318.2,49.8 318.0,50.0 317.8,50.2 317.5,50.3ZM345.2,53.5 345.0,53.4 344.8,53.0 344.5,51.7 344.2,51.4 343.8,51.2 343.5,50.8 343.4,50.2 343.5,50.0 343.8,49.8 344.5,49.6 345.2,49.7 345.5,49.8 345.8,50.0 345.9,50.5 346.0,52.7 345.8,53.3 345.5,53.5 345.2,53.5ZM318.2,60.1 318.0,60.2 317.5,60.2 317.1,60.0 316.8,59.8 316.7,59.2 316.8,58.8 317.2,57.8 317.1,57.5 316.5,57.1 316.1,56.8 315.7,56.0 315.5,54.2 315.6,53.5 316.0,52.7 316.2,52.4 316.5,52.3 317.0,52.4 317.8,52.6 318.2,53.0 318.5,53.5 318.4,54.0 318.2,55.0 318.2,55.8 318.4,56.2 319.0,57.2 319.1,57.8 318.9,58.5 318.7,59.5 318.5,59.9 318.2,60.1ZM333.5,69.1 333.0,69.2 331.8,69.2 330.5,69.0 329.0,68.9 328.8,68.8 328.6,68.5 328.6,67.8 328.8,67.4 329.0,67.4 330.2,67.9 330.8,67.8 331.1,67.5 331.4,67.0 331.5,66.8 331.4,66.0 333.0,65.7 333.2,65.7 333.5,65.8 334.0,66.3 334.5,66.7 335.2,66.8 335.5,66.6 335.8,65.5 336.2,64.9 336.8,64.7 338.0,64.2 339.5,63.9 339.8,63.8 340.5,62.5 341.2,61.7 342.2,60.2 342.2,59.8 342.2,59.0 342.2,58.8 342.5,58.6 343.5,58.4 343.9,58.2 344.0,58.0 343.9,57.8 343.6,57.2 343.5,56.8 343.4,56.2 343.5,55.8 343.8,55.5 344.0,55.3 344.2,55.3 344.8,55.5 345.2,56.0 345.4,56.5 345.4,57.0 345.2,57.8 345.1,59.2 344.9,59.8 344.1,60.8 343.5,61.8 342.6,62.5 342.3,62.8 342.0,64.1 341.8,64.3 341.5,64.4 340.2,64.5 340.0,64.6 339.3,65.2 338.5,65.7 337.8,66.3 335.5,67.0 334.5,68.4 334.0,68.8 333.5,69.1ZM322.8,65.6 322.5,65.6 322.0,65.4 321.8,65.2 321.5,64.8 321.2,63.8 321.2,63.5 321.5,63.1 321.8,63.0 322.2,63.1 323.5,64.2 323.5,64.4 323.8,64.5 324.0,64.5 324.1,64.8 324.0,64.8 323.8,64.5 323.5,64.6 323.2,64.9 322.9,65.5 322.8,65.6ZM326.5,68.6 326.2,68.5 326.0,68.4 325.0,67.5 324.1,67.0 323.6,66.5 323.5,66.0 323.6,65.8 324.0,65.0 324.2,64.8 324.4,65.0 325.5,65.7 325.9,66.5 326.8,67.5 326.8,67.8 326.8,68.2 326.8,68.4 326.5,68.6Z" fill="#ff4a2a" fill-opacity="0.07" stroke="#e02a18" stroke-width="0.7" stroke-opacity="1.0"/>
<path d="M335.2,39.6 334.9,39.5 335.3,39.5 335.2,39.6ZM340.8,43.0 340.5,42.9 340.5,42.8 340.8,42.5 340.9,42.8 340.8,43.0ZM318.0,47.1 317.8,47.1 317.6,47.0 317.6,46.8 317.8,46.2 318.2,46.0 318.5,46.2 318.5,46.5 318.4,46.8 318.0,47.1ZM317.8,56.5 317.5,56.7 316.8,56.6 316.5,56.4 316.2,56.0 316.2,54.8 316.0,53.8 316.1,53.2 316.5,52.9 316.8,52.8 317.2,52.9 317.5,53.0 317.7,53.2 317.8,53.5 317.7,54.8 317.8,55.8 317.8,56.5ZM318.0,59.5 317.8,59.6 317.4,59.5 317.3,59.2 317.5,58.9 317.8,58.8 318.0,59.0 318.1,59.2 318.0,59.5ZM343.8,60.0 343.5,60.0 343.3,59.8 343.3,59.5 343.8,59.2 344.2,59.2 344.3,59.5 344.2,59.8 343.8,60.0ZM342.2,62.0 342.0,62.0 341.9,61.8 342.0,61.2 342.5,60.7 343.0,60.5 343.2,60.7 343.2,61.3 343.1,61.5 342.9,61.8 342.2,62.0ZM341.5,63.6 341.2,63.7 341.0,63.7 340.8,63.5 340.8,63.2 340.9,63.0 341.2,62.7 341.5,62.7 341.6,63.0 341.6,63.2 341.5,63.6ZM333.0,68.6 332.5,68.6 331.9,68.5 331.5,68.2 331.5,68.0 332.2,67.0 332.5,66.7 333.0,66.5 333.2,66.6 333.8,66.9 334.0,67.2 334.0,67.5 333.9,67.8 333.6,68.2 333.0,68.6Z" fill="#ff4a2a" fill-opacity="0.07" stroke="#e02a18" stroke-width="0.7" stroke-opacity="1.0"/>
<path d="M317,53 C317,44 326,39.5 336,39.5 C344,39.5 346.5,46 345.5,56 C344.5,64 338,68.5 330,68.5 C322,68.5 317,62 317,53 Z" fill="#d8a8a0" fill-opacity="0.4" stroke="#ff2408" stroke-width="3.4" opacity="0.92" filter="url(#bl05)"/>
<path d="M322,52 C322,46 328,43 335,43 C341,43 342,48 341,55 C340,61 336,64 330,64 C325,64 321,59 322,52 Z" fill="none" stroke="#f04030" stroke-width="1.2" opacity="0.6"/>
<path d="M370.0,42.0 C380.5,36.7 424.2,40.7 435.0,42.0 C445.8,43.3 442.2,45.3 435.0,50.0 C427.8,54.7 402.5,66.0 392.0,70.0 C381.5,74.0 375.7,78.7 372.0,74.0 C368.3,69.3 359.5,47.3 370.0,42.0 Z" fill="#9aa8a8" opacity="0.18" filter="url(#bl3)"/>
<ellipse cx="402" cy="45" rx="24" ry="4" fill="#6e6e6e" opacity="0.3" filter="url(#bl15)"/>
<ellipse cx="381.5" cy="43.8" rx="10.5" ry="4.4" fill="#6e6e6e" opacity="0.78" filter="url(#bl15)"/>
<ellipse cx="410" cy="45" rx="14" ry="3" fill="#6e6e6e" opacity="0.25" filter="url(#bl15)"/>
<path d="M392,50 C400,45 412,41 422,41 C426,50 426,62 420,74 C410,75 398,74 388,72 C384,62 386,55 392,50 Z" fill="#e8a098" fill-opacity="0.45" filter="url(#bl1)"/>
<path d="M423.0,77.3 418.9,77.2 417.5,76.9 416.8,76.5 416.2,76.3 415.2,76.4 414.2,76.3 412.8,76.4 411.6,76.8 410.6,77.2 410.2,77.3 407.2,77.2 406.8,76.8 406.2,76.7 405.7,76.8 404.5,77.2 399.2,77.3 394.6,77.2 393.8,77.0 392.7,76.5 391.2,76.2 390.8,76.2 389.2,76.7 388.4,77.2 387.6,77.2 387.4,77.0 387.1,76.5 387.1,76.2 387.2,75.2 387.1,75.0 386.8,74.8 386.2,74.7 385.9,74.8 385.8,75.0 385.7,75.8 385.5,75.9 384.8,76.1 384.5,76.2 384.0,77.2 383.2,77.2 382.6,76.0 382.2,75.7 382.0,75.6 381.8,75.6 381.5,75.7 381.0,76.2 380.5,76.5 380.0,76.5 379.8,76.5 379.2,76.2 378.6,75.5 378.1,74.8 377.7,73.8 376.8,72.8 376.5,72.0 376.5,71.2 376.2,70.9 376.2,70.5 376.1,70.0 376.5,67.2 376.3,65.5 376.2,65.1 376.0,64.8 375.2,64.2 374.9,63.8 374.6,63.0 374.6,62.5 374.8,61.9 375.2,61.5 375.5,61.5 376.5,61.7 376.8,61.7 376.9,61.5 376.9,61.2 376.8,61.0 376.0,60.4 375.8,60.0 375.7,58.2 375.8,57.9 376.0,57.5 377.0,56.8 377.5,55.9 379.1,54.8 380.0,53.8 381.5,52.8 382.7,52.5 383.0,52.4 383.1,52.0 383.2,51.2 383.3,51.0 383.8,50.9 384.8,51.5 385.5,51.7 386.0,51.7 386.5,51.6 386.8,51.2 386.9,50.2 386.5,48.5 386.5,47.5 386.7,47.0 387.0,46.7 388.0,46.2 388.2,46.0 389.0,44.8 389.5,44.3 391.0,43.8 392.0,43.1 393.5,42.4 394.2,42.1 395.8,42.0 397.0,41.3 398.8,41.3 399.3,41.0 400.2,40.1 400.8,39.9 402.0,39.8 403.2,39.2 405.5,38.6 407.5,38.5 409.1,38.0 410.2,37.5 411.0,37.4 413.5,37.3 415.2,36.8 415.8,36.8 417.8,37.0 418.2,36.8 418.8,36.4 419.2,36.1 421.0,35.8 421.8,35.9 422.2,36.0 424.2,37.1 424.8,37.4 425.4,38.0 425.8,38.8 426.2,40.0 426.2,41.5 426.5,42.5 426.7,43.5 427.4,45.2 428.2,46.5 428.4,47.0 428.5,48.2 428.9,49.8 429.7,51.5 430.5,54.2 430.6,55.0 430.4,55.8 429.8,56.5 429.7,56.8 429.7,57.2 429.9,58.2 429.9,58.8 429.7,59.2 429.2,60.2 429.1,62.2 428.3,64.0 428.2,65.0 428.0,65.8 427.9,66.8 427.2,68.5 426.9,71.5 426.6,72.8 426.3,73.5 425.3,75.2 424.2,76.1 423.5,77.0 423.2,77.2 423.0,77.3ZM377.8,71.5 377.9,71.0 377.9,70.8 377.8,70.6 377.5,70.5 377.0,70.8 376.6,71.2 377.2,71.6 377.5,71.6 377.8,71.5Z" fill="#ff4a2a" fill-opacity="0.06" stroke="#e02a18" stroke-width="0.7" stroke-opacity="1.0"/>
<path d="M423.0,76.6 422.5,76.7 421.2,76.6 420.0,76.7 419.5,76.6 417.8,76.0 416.8,75.3 415.6,74.8 415.2,74.2 415.2,73.8 415.3,73.5 415.5,73.2 416.5,72.6 416.7,72.2 416.5,72.1 415.8,72.4 414.5,72.7 414.2,72.6 413.8,72.3 412.8,71.4 412.5,71.4 412.4,71.8 412.7,72.8 412.7,73.2 412.6,73.5 411.8,74.5 411.5,75.5 411.2,75.7 410.8,75.8 409.5,75.4 408.8,75.3 408.5,75.2 408.4,75.0 408.1,74.8 407.8,74.7 407.2,75.0 406.7,75.5 406.2,75.7 403.5,76.2 403.0,76.1 402.0,75.8 401.0,75.9 400.5,75.8 400.2,75.5 399.8,74.6 399.5,74.5 399.2,74.4 399.0,74.5 398.5,74.8 398.1,75.2 397.8,75.9 397.5,76.1 395.2,76.1 394.5,76.1 392.8,75.2 390.5,74.7 390.4,74.5 390.4,73.8 390.2,73.2 389.8,72.7 389.5,72.5 389.0,72.3 388.8,72.3 388.5,72.5 387.8,73.5 387.5,73.7 387.2,73.8 386.8,73.8 385.0,72.8 384.4,72.0 384.5,71.8 385.4,71.0 385.4,70.8 384.2,69.9 384.1,70.0 384.0,70.2 384.0,70.5 384.2,71.7 384.4,71.8 384.2,71.8 384.1,72.0 383.8,72.1 383.5,72.1 383.3,71.8 383.2,71.2 382.8,70.8 382.2,70.3 381.8,70.2 381.5,70.3 381.3,71.2 381.0,71.7 380.8,71.9 380.2,72.1 379.8,71.9 379.5,71.7 379.4,71.5 378.9,69.8 378.4,69.0 378.1,68.5 378.0,66.8 377.7,65.5 377.6,64.0 377.7,63.2 378.2,62.2 378.1,60.5 378.8,59.2 378.9,58.2 379.0,57.8 379.5,57.1 380.2,56.6 380.8,56.4 381.8,56.1 383.0,54.7 383.2,54.7 384.2,55.3 385.8,55.4 386.0,55.5 386.5,56.2 386.9,56.5 387.2,56.5 387.5,56.4 388.5,55.2 389.4,54.5 389.5,54.0 389.3,53.2 389.0,52.7 388.0,51.5 387.8,51.0 387.8,50.0 387.4,49.0 387.4,48.5 387.7,47.8 388.7,46.5 389.3,45.2 389.8,44.8 390.2,44.7 391.2,44.6 392.5,44.0 393.0,43.9 393.8,44.1 394.0,44.1 394.2,43.8 394.3,43.5 394.5,43.2 396.2,42.8 399.1,41.8 399.6,41.5 400.5,40.8 400.8,40.7 402.2,40.6 403.5,40.1 405.0,40.0 406.2,39.5 407.0,39.3 409.0,39.1 409.5,38.9 410.2,38.4 410.8,38.2 413.0,38.0 414.2,38.0 415.5,37.5 416.0,37.4 416.8,37.4 418.0,37.5 418.5,37.3 419.0,37.0 419.5,36.8 421.0,36.5 421.5,36.6 422.6,37.2 423.8,37.5 424.2,37.8 424.7,38.2 425.1,38.8 425.3,39.2 425.5,40.2 425.5,41.5 425.9,42.8 425.9,43.8 426.6,45.5 427.6,46.8 427.7,47.2 427.8,48.5 427.9,49.2 428.6,51.0 428.9,52.8 429.5,54.0 429.6,54.8 429.5,55.2 429.0,55.8 428.8,56.2 429.1,57.5 429.1,58.0 429.1,58.5 429.0,58.8 428.4,59.8 428.3,61.8 427.2,65.0 427.2,66.5 427.0,67.0 426.4,68.0 426.3,69.2 426.2,69.8 425.8,70.5 425.8,70.8 426.0,71.2 426.1,71.8 425.9,72.5 425.6,73.2 424.8,74.5 423.4,76.2 423.0,76.6ZM417.5,58.0 417.8,57.8 417.8,57.5 417.4,56.5 416.9,55.8 416.9,55.5 417.2,55.4 417.5,55.5 418.8,56.3 419.2,56.5 419.5,56.3 420.0,55.5 420.2,55.0 420.3,54.5 420.2,54.2 420.0,54.0 419.8,53.8 419.2,53.9 418.2,54.1 418.0,54.0 417.8,53.9 417.6,53.5 417.9,52.5 418.0,52.0 417.7,51.5 417.0,51.0 416.6,50.5 416.6,50.2 416.9,50.0 417.8,49.5 418.7,48.5 418.8,48.2 418.9,48.0 418.8,47.7 418.2,47.0 417.8,46.2 416.8,46.5 415.0,47.6 414.5,47.8 413.8,48.2 412.2,48.2 411.7,48.5 411.5,48.8 411.8,49.0 412.8,49.2 413.4,49.5 413.7,50.5 414.2,51.3 414.8,52.2 415.4,53.0 415.6,53.5 415.5,55.0 415.0,56.2 415.2,57.0 415.5,57.7 415.8,58.0 416.2,58.2 416.8,58.2 417.5,58.0ZM392.9,54.5 393.3,54.2 393.4,54.0 393.2,53.9 392.8,54.0 392.5,54.2 392.6,54.5 392.9,54.5ZM392.8,58.0 393.0,57.8 393.0,57.5 392.8,57.4 392.6,57.5 392.5,57.8 392.5,57.9 392.8,58.0ZM389.1,62.5 389.3,62.0 389.9,61.2 390.0,61.0 390.0,60.8 389.9,60.5 389.5,60.2 389.2,60.1 389.0,60.2 388.8,60.4 388.4,61.0 388.2,61.5 388.2,62.0 388.4,62.5 388.8,62.7 389.0,62.6 389.1,62.5ZM387.1,63.5 387.0,63.2 386.8,63.1 386.5,63.2 386.4,63.5 386.5,63.7 386.8,63.7 387.1,63.5ZM417.6,64.2 418.0,63.8 418.1,63.5 418.1,63.2 418.0,63.0 417.8,63.1 417.5,63.2 417.2,63.8 417.2,64.0 417.2,64.3 417.5,64.3 417.6,64.2ZM379.4,65.0 379.6,64.8 379.5,64.5 379.2,64.1 379.0,64.0 378.8,64.1 378.4,64.2 378.3,64.5 378.3,64.8 378.4,65.0 378.8,65.2 379.2,65.1 379.4,65.0ZM415.3,69.5 415.5,69.2 415.7,68.8 415.8,68.2 415.5,67.9 415.2,67.9 414.8,67.9 414.2,68.3 414.0,68.8 413.8,69.2 414.0,69.5 414.5,69.7 415.0,69.6 415.3,69.5ZM389.8,68.5 390.0,68.2 389.8,68.2 389.6,68.2 389.7,68.5 389.8,68.5ZM392.6,71.2 392.8,71.0 392.8,70.8 392.5,70.5 392.2,70.5 392.0,70.8 392.1,71.0 392.2,71.2 392.6,71.2ZM398.6,73.0 398.7,72.8 398.7,72.5 398.5,72.3 398.0,72.2 397.8,72.5 397.8,72.8 398.0,73.0 398.2,73.1 398.6,73.0ZM380.5,74.4 380.2,74.4 380.0,74.3 379.9,74.0 379.8,73.8 380.1,73.2 380.2,73.1 380.5,73.1 380.8,73.3 380.9,73.8 380.9,74.0 380.8,74.2 380.5,74.4Z" fill="#ff4a2a" fill-opacity="0.06" stroke="#e02a18" stroke-width="0.7" stroke-opacity="1.0"/>
<path d="M422.8,76.1 422.2,76.2 421.8,76.2 419.5,75.9 418.5,75.6 418.0,75.4 417.2,74.8 416.8,74.2 416.8,74.0 416.9,73.5 417.6,72.5 417.8,72.0 417.6,71.5 417.3,70.8 417.0,69.8 416.9,69.2 417.0,68.8 417.1,68.5 417.4,68.0 418.5,67.3 418.8,67.0 418.8,66.8 418.8,66.2 418.4,65.2 418.4,64.8 418.6,64.0 419.5,62.8 419.7,62.2 419.6,62.0 419.0,61.5 418.9,61.2 419.1,60.2 419.1,59.2 420.0,57.9 420.2,57.2 420.4,56.0 420.8,55.0 421.0,54.2 420.8,53.8 419.9,52.8 419.4,52.0 419.3,51.2 419.3,50.0 419.6,48.8 419.6,48.0 419.1,46.5 418.4,45.5 418.2,45.3 417.5,45.3 417.0,45.4 416.5,45.6 415.5,46.4 415.0,46.6 413.8,46.6 412.8,46.9 412.0,47.1 411.0,47.5 410.8,47.5 409.5,47.1 407.8,47.5 407.5,47.6 406.8,48.2 406.4,48.8 406.4,49.2 406.7,50.8 407.0,51.2 408.1,52.2 408.1,52.5 407.9,53.5 408.0,53.8 408.2,53.8 408.8,53.8 410.0,53.1 410.5,53.0 411.0,53.1 411.2,53.2 412.2,54.0 412.5,54.0 412.8,54.0 413.5,53.2 413.8,53.2 414.0,53.3 414.3,53.5 414.5,54.0 414.4,54.5 414.2,54.8 414.0,54.9 413.2,55.2 413.0,55.5 412.9,56.0 413.0,57.1 412.9,57.2 412.2,57.8 412.2,58.2 412.5,58.7 413.0,58.8 413.3,58.8 414.0,58.3 414.2,58.3 415.2,58.9 416.1,59.2 416.4,59.5 416.4,59.8 415.7,60.8 415.5,61.5 415.5,61.8 415.8,62.0 416.3,62.2 416.6,62.5 416.7,63.0 416.4,63.8 416.0,64.3 415.5,64.4 414.8,64.2 414.5,64.0 414.4,63.8 415.0,62.5 415.0,62.0 414.7,61.8 413.2,60.7 412.8,60.6 412.1,60.8 411.9,61.0 412.0,61.2 412.2,61.7 412.8,62.2 412.9,62.5 412.6,63.5 412.6,64.0 412.7,64.5 413.5,64.9 413.7,65.2 413.7,66.0 413.2,67.2 413.0,67.4 412.8,67.5 409.8,68.0 409.5,67.9 409.3,67.8 409.0,67.1 408.8,67.0 408.5,67.2 408.4,67.8 408.5,68.0 409.1,68.5 409.2,69.2 409.2,70.0 409.1,70.2 408.5,71.0 408.3,71.5 408.4,71.8 409.0,72.5 409.1,73.0 409.0,73.4 408.8,73.5 407.8,73.6 407.2,73.9 406.5,74.4 406.0,74.6 405.8,74.6 405.2,74.3 404.5,73.5 404.0,73.2 403.5,73.2 403.3,73.2 403.2,73.5 403.2,73.8 403.6,74.5 403.6,74.8 403.2,75.0 403.0,75.0 401.5,74.9 401.0,74.7 400.3,74.0 399.6,73.5 399.5,73.3 399.3,72.0 399.2,71.8 399.0,71.5 398.5,71.3 397.5,71.3 397.3,71.2 397.1,71.0 397.2,70.4 397.5,70.2 398.0,70.4 398.2,70.5 398.5,70.4 399.2,69.7 399.8,69.7 400.8,70.0 401.2,70.0 401.7,69.8 401.7,69.5 401.0,68.6 400.9,68.0 400.9,67.8 401.1,67.5 401.5,67.3 402.2,67.2 402.6,67.0 402.3,65.8 402.0,65.3 401.8,65.2 401.5,65.2 400.9,65.8 400.2,66.8 399.8,67.2 399.2,67.4 398.8,67.5 398.0,67.2 396.6,67.0 396.7,66.8 397.8,64.8 398.5,64.0 398.7,63.8 398.7,63.5 398.5,63.0 398.2,62.7 398.0,62.6 397.8,62.6 397.5,62.7 397.0,63.2 396.2,64.4 395.8,64.6 395.2,64.5 395.0,64.3 394.2,63.5 393.2,63.1 392.9,62.8 392.8,62.2 393.0,61.5 394.2,60.0 394.9,59.5 395.1,59.0 395.2,58.5 395.1,58.0 395.0,57.8 394.5,57.5 394.3,57.2 394.3,56.8 394.5,56.6 394.8,56.6 395.0,56.8 395.3,57.2 395.5,57.4 397.5,57.8 397.7,57.8 397.7,56.5 397.8,56.0 398.8,55.2 398.6,55.0 397.6,54.0 397.2,53.0 396.9,52.8 395.5,52.1 395.0,52.1 393.8,52.7 392.6,52.8 392.0,53.1 391.5,53.3 390.8,53.3 390.2,53.0 388.5,50.8 388.1,48.8 388.2,48.2 388.4,48.0 389.5,46.8 389.7,45.8 389.9,45.5 390.2,45.3 390.5,45.3 391.5,45.4 392.8,44.9 393.8,44.9 394.2,44.8 395.5,43.8 397.0,43.5 398.2,42.7 399.8,42.0 401.0,41.3 402.2,41.2 403.8,40.6 405.5,40.7 406.5,40.2 407.2,40.0 409.2,40.0 409.8,39.8 410.8,39.2 411.8,39.1 412.5,38.7 413.0,38.6 414.5,38.5 416.2,37.9 416.8,37.8 418.0,37.9 418.5,37.8 419.5,37.4 420.5,37.3 421.5,37.5 423.2,37.9 423.8,38.1 424.2,38.5 424.6,39.0 424.9,39.8 425.0,41.8 425.2,42.8 425.2,44.1 425.8,45.5 426.8,46.6 427.0,47.0 427.1,47.8 426.8,48.8 426.8,49.2 427.4,50.5 428.2,52.5 428.7,54.0 428.7,54.5 428.2,55.8 428.0,56.8 428.1,58.0 428.0,58.3 427.8,58.5 426.9,58.8 427.0,59.0 427.2,59.2 427.6,59.8 427.7,60.2 427.7,60.8 427.3,61.8 427.3,62.8 427.1,63.5 426.5,64.5 426.4,64.8 426.4,66.2 426.2,66.5 425.5,67.0 425.4,67.2 425.4,67.5 425.7,68.2 425.8,68.8 425.7,69.5 424.9,70.5 424.9,70.8 425.0,71.2 425.3,71.8 425.3,72.2 425.2,72.5 424.9,73.0 424.0,73.9 423.2,75.5 422.8,76.1ZM404.8,53.0 405.4,52.0 405.5,51.2 405.2,50.8 404.5,50.0 404.2,49.9 404.0,49.9 403.8,50.0 403.0,50.7 402.0,51.1 401.8,51.2 401.8,51.8 402.0,52.1 403.2,52.4 404.5,53.1 404.8,53.0ZM412.0,51.3 411.5,51.3 411.2,51.2 410.9,51.0 410.9,50.8 411.1,50.5 411.5,50.4 412.0,50.5 412.1,50.8 412.2,51.0 412.0,51.3ZM399.4,53.0 399.9,52.8 400.1,52.5 400.3,51.8 400.4,51.5 401.1,51.0 401.1,50.8 401.0,50.7 400.8,50.5 400.5,50.6 398.8,51.0 398.2,51.2 397.8,51.6 397.6,52.0 397.5,52.5 397.6,52.8 397.8,52.9 398.0,53.1 398.5,53.1 399.4,53.0ZM395.8,56.3 395.4,56.2 395.1,56.0 395.0,55.5 395.0,55.0 395.2,54.8 395.5,54.7 395.8,54.6 396.2,54.7 396.5,54.8 396.6,55.0 396.7,55.5 396.6,55.8 396.3,56.0 395.8,56.3ZM406.8,56.8 406.9,56.5 406.8,56.2 406.8,56.2 406.5,56.3 406.4,56.5 406.5,56.8 406.8,56.8ZM400.7,58.0 401.1,57.8 401.4,57.5 401.5,57.2 401.4,57.0 401.2,56.9 400.8,56.8 400.5,56.9 400.2,57.2 400.1,57.8 400.2,58.0 400.5,58.1 400.7,58.0ZM386.2,69.0 385.8,69.2 385.2,69.1 384.0,68.4 383.5,68.2 383.2,68.3 382.8,68.7 382.0,68.2 381.5,68.2 380.5,68.1 380.2,68.0 380.1,67.8 380.1,67.2 380.3,66.8 380.8,66.0 380.8,65.5 380.3,64.2 379.6,63.2 379.4,62.8 379.4,61.5 379.5,61.0 380.0,60.7 380.8,60.5 381.0,60.3 381.1,59.5 381.2,59.2 381.8,58.9 382.2,58.8 382.8,59.1 383.0,59.3 383.2,59.8 383.5,60.8 383.8,61.0 384.2,61.0 384.8,60.7 385.1,60.2 385.1,59.8 384.7,58.8 384.7,58.2 384.7,58.0 385.0,57.8 385.5,57.6 386.0,57.6 386.5,57.8 387.0,58.0 387.2,58.2 387.1,58.8 386.7,59.8 386.0,60.8 386.0,61.2 386.2,61.8 386.2,62.0 386.1,62.2 385.2,63.2 385.0,63.4 384.8,63.4 382.2,63.0 382.0,63.2 382.2,64.4 382.5,64.9 383.5,64.9 384.2,65.1 385.2,65.1 385.4,65.2 385.3,66.2 385.4,66.8 385.8,67.0 386.5,67.3 386.8,67.8 386.8,68.0 386.7,68.5 386.2,69.0ZM408.5,60.2 408.5,60.0 408.2,59.9 408.1,60.0 408.1,60.2 408.2,60.4 408.5,60.2ZM394.0,66.3 393.8,66.3 393.5,66.1 393.4,65.8 393.3,65.5 393.4,65.2 393.6,65.0 394.0,64.8 394.2,64.9 394.4,65.0 394.5,65.2 394.4,66.0 394.2,66.2 394.0,66.3ZM404.9,67.5 405.3,67.2 405.5,66.8 405.5,65.8 405.2,65.5 405.0,65.5 404.8,65.7 404.3,66.5 403.8,67.0 403.7,67.2 404.2,67.5 404.9,67.5ZM398.2,69.3 397.8,69.5 397.5,69.2 397.6,68.8 397.8,68.4 398.0,68.1 398.2,67.9 398.5,68.0 398.7,68.8 398.6,69.0 398.2,69.3ZM397.0,74.8 396.5,74.8 396.2,74.6 395.8,73.6 395.5,73.4 395.2,73.4 395.0,73.4 394.2,74.2 394.0,74.2 393.5,73.7 393.2,73.6 392.8,73.9 392.2,73.9 392.0,73.8 391.7,73.5 391.6,73.0 391.6,72.8 391.9,72.5 392.2,72.4 392.8,72.5 393.2,72.7 393.5,72.6 393.7,72.2 394.0,71.0 394.2,70.8 395.8,71.0 396.2,71.2 396.4,71.5 396.7,72.8 397.5,73.8 397.6,74.0 397.6,74.2 397.4,74.5 397.0,74.8Z" fill="#ff4a2a" fill-opacity="0.06" stroke="#e02a18" stroke-width="0.7" stroke-opacity="1.0"/>
<path d="M422.5,75.5 422.2,75.7 421.8,75.7 421.2,75.6 420.2,75.1 419.5,75.1 419.0,75.0 418.6,74.8 418.0,74.3 417.8,74.0 417.8,73.8 418.0,73.2 418.5,72.5 418.7,72.0 418.6,71.5 418.1,70.8 418.1,70.2 418.2,69.8 418.1,68.8 418.3,68.2 419.4,67.2 419.5,67.0 419.6,66.5 419.1,64.5 419.3,64.0 419.9,63.0 420.3,62.2 420.4,61.8 420.3,61.5 419.9,61.0 419.8,60.5 419.8,60.2 420.0,59.6 420.5,58.5 420.9,56.0 421.1,55.5 421.6,54.8 421.7,54.2 421.6,54.0 420.9,53.0 420.7,52.5 420.6,51.2 420.1,50.2 420.0,46.8 419.8,46.2 418.8,45.0 418.5,44.8 417.8,44.7 417.2,44.7 417.0,44.8 415.2,45.7 414.8,45.9 413.5,45.7 413.2,45.8 411.5,46.2 410.5,46.6 409.2,46.5 407.5,46.9 406.9,47.2 405.2,48.7 404.8,48.7 404.0,48.6 403.5,48.7 403.2,48.8 402.2,49.6 401.8,49.7 400.8,49.8 399.0,50.1 398.5,50.3 397.8,50.7 396.8,51.5 396.2,51.6 395.5,51.4 395.0,51.4 394.0,51.9 393.5,52.1 392.2,51.8 392.0,51.9 391.2,52.2 391.0,52.2 390.8,52.2 390.2,51.8 389.3,50.8 389.0,50.0 388.8,49.2 388.8,48.8 388.9,48.5 389.2,48.0 389.8,47.5 391.0,46.6 392.0,46.2 393.0,45.5 394.2,45.2 395.8,44.3 396.2,44.3 397.0,44.5 397.2,44.4 397.9,43.5 398.8,42.9 401.0,42.1 402.2,42.0 403.2,41.3 403.8,41.1 404.2,41.0 405.5,41.3 406.0,41.2 406.8,40.8 407.2,40.6 408.0,40.5 409.2,40.7 409.8,40.6 410.2,40.2 410.8,40.0 411.2,40.0 412.0,40.2 412.2,40.1 412.8,39.3 413.2,39.0 414.5,39.1 416.2,38.4 416.8,38.3 418.0,38.4 419.8,37.8 422.2,38.0 423.0,38.2 423.5,38.5 424.0,39.0 424.2,39.5 424.3,40.0 424.2,40.5 424.5,42.2 424.5,43.2 425.0,45.5 425.3,46.0 426.2,46.8 426.5,47.2 426.5,47.8 426.0,49.0 426.1,49.8 426.7,51.0 427.4,52.0 427.6,52.5 428.1,54.0 428.1,54.5 427.7,56.2 427.4,57.0 427.1,57.5 426.5,58.1 426.3,58.5 426.3,59.0 426.7,60.0 426.7,60.2 426.5,60.8 426.4,61.2 426.6,62.8 426.4,63.2 425.8,63.8 425.5,64.2 425.5,64.6 425.7,65.5 425.6,66.0 425.0,66.8 424.7,67.2 424.8,67.8 425.2,68.4 425.3,69.0 425.1,69.5 424.7,70.0 424.4,70.5 424.4,71.0 424.6,71.8 424.6,72.2 423.8,73.3 423.0,74.9 422.5,75.5ZM402.5,55.3 401.8,55.4 401.2,55.2 401.1,55.0 401.0,54.5 401.1,54.0 401.2,53.7 401.8,53.5 402.2,53.4 402.8,53.4 403.0,53.5 403.2,53.8 403.2,54.0 403.1,54.5 402.9,55.0 402.8,55.2 402.5,55.3ZM409.8,55.3 409.5,55.3 409.3,55.0 409.3,54.8 409.7,54.2 410.0,54.0 410.5,53.8 410.8,53.8 411.1,54.0 411.2,54.2 411.2,54.5 411.0,54.9 410.5,55.1 409.8,55.3ZM407.2,66.9 407.0,66.8 406.8,66.4 406.5,65.0 406.5,64.5 406.9,62.8 406.8,62.5 406.6,62.2 406.2,62.1 405.8,62.1 405.0,62.5 404.8,62.8 404.8,63.0 404.9,64.0 404.9,64.2 404.5,64.6 403.8,64.9 403.2,64.9 402.8,64.7 402.0,64.0 401.7,63.5 401.8,63.2 402.3,62.5 402.5,62.0 402.3,61.2 402.2,60.2 402.0,59.8 401.2,59.2 401.1,59.0 401.2,58.8 401.5,58.4 402.0,58.2 402.5,58.2 403.2,58.5 403.5,58.5 403.8,58.5 404.2,58.2 404.6,57.5 404.7,57.0 404.7,56.8 404.2,56.2 404.1,56.0 404.5,55.8 404.8,55.8 405.1,56.0 405.1,56.2 405.1,56.8 405.1,57.0 405.9,57.8 406.5,58.0 407.0,57.9 408.0,57.2 408.3,57.0 409.0,56.0 409.2,55.9 409.5,56.3 410.0,57.2 410.2,57.6 411.0,58.2 411.4,58.8 411.4,59.2 411.3,59.5 411.0,59.8 410.2,60.1 410.0,60.1 409.8,60.0 409.3,59.5 409.0,59.2 408.5,59.1 407.8,59.1 407.5,59.2 407.4,59.5 407.2,60.2 407.2,60.8 407.3,62.0 407.4,62.2 407.8,62.4 408.2,62.4 408.5,62.2 409.2,61.7 409.5,61.6 410.8,61.8 411.0,62.0 411.0,62.2 410.9,62.5 410.5,63.0 409.2,64.0 408.6,65.2 407.5,66.7 407.2,66.9ZM397.0,60.0 396.8,60.0 396.5,59.9 396.2,59.5 396.2,59.0 396.5,58.8 396.8,58.9 397.0,59.2 397.2,59.8 397.0,60.0ZM399.8,60.5 399.5,60.6 399.0,60.6 398.8,60.5 398.6,60.2 398.7,60.0 399.0,59.7 399.2,59.7 399.5,59.7 399.8,60.0 399.9,60.2 399.8,60.5ZM422.0,67.5 422.0,67.4 421.8,67.3 421.3,67.5 421.5,67.7 421.8,67.7 422.0,67.5ZM406.0,69.6 405.5,69.5 405.0,69.3 404.7,69.0 404.8,68.8 405.2,68.6 405.7,68.8 406.0,69.0 406.1,69.2 406.2,69.5 406.0,69.6ZM401.8,73.9 401.5,73.9 401.2,73.8 400.3,73.0 400.2,72.8 400.2,72.5 400.5,72.1 400.8,72.1 401.0,72.3 401.7,73.0 402.0,73.5 401.9,73.8 401.8,73.9Z" fill="#ff4a2a" fill-opacity="0.06" stroke="#e02a18" stroke-width="0.7" stroke-opacity="1.0"/>
<path d="M422.0,75.1 421.8,75.1 421.3,75.0 420.5,74.5 419.8,74.2 419.5,74.0 419.5,73.5 419.7,73.0 420.4,72.2 420.5,72.0 420.4,71.8 420.0,71.5 419.1,70.5 418.9,69.8 418.8,68.8 419.0,68.2 419.2,68.0 419.8,67.7 420.0,67.6 420.2,67.6 421.0,68.1 421.5,68.2 422.5,68.0 422.8,67.8 422.8,67.2 422.5,66.8 422.0,66.7 421.2,66.9 420.8,66.9 420.5,66.8 420.2,66.6 420.1,66.2 419.7,64.5 419.9,64.0 421.2,61.2 421.9,60.8 422.0,60.5 421.9,60.0 421.7,59.0 421.3,58.2 421.1,57.8 421.1,57.0 421.3,56.2 421.5,55.8 422.0,55.4 422.5,55.4 423.0,55.8 423.2,55.8 423.3,55.8 422.7,54.8 422.4,54.0 421.5,53.0 421.4,52.8 421.3,51.2 421.0,50.6 420.7,50.0 420.5,49.5 420.5,48.0 420.7,46.8 420.3,46.0 419.1,44.8 419.0,44.4 418.2,44.2 417.2,44.2 416.8,44.3 415.2,45.1 414.8,45.2 413.2,45.1 412.8,45.2 410.5,45.9 409.2,45.8 408.2,46.3 407.0,46.5 406.5,46.7 405.5,47.6 405.0,47.8 404.8,47.8 404.5,47.7 404.3,47.5 403.9,46.8 403.5,46.7 403.2,46.8 403.1,47.0 402.2,48.6 401.7,49.0 400.8,49.2 399.2,49.3 397.5,50.2 396.5,50.9 395.5,50.8 395.0,50.8 393.5,51.5 393.0,51.4 392.2,51.2 391.0,51.2 390.5,51.0 390.0,50.6 389.6,50.0 389.4,49.2 389.4,48.8 389.7,48.2 390.0,47.9 391.0,47.4 392.2,46.7 393.2,45.9 394.5,45.5 395.8,44.8 396.5,44.8 397.5,45.1 398.0,45.1 398.1,45.0 398.1,44.2 398.2,44.0 398.5,43.5 398.8,43.4 399.2,43.2 400.8,42.8 401.8,42.8 402.5,42.6 403.0,42.3 403.5,41.7 404.0,41.4 404.5,41.5 405.2,41.8 405.8,41.9 407.2,41.1 408.0,41.1 409.2,41.5 410.5,40.8 411.0,40.7 411.5,40.8 412.0,41.1 412.5,41.2 412.8,41.0 413.0,40.8 413.2,40.0 413.5,39.7 414.8,39.6 416.2,38.9 417.0,38.8 418.0,38.8 419.8,38.4 420.8,38.5 422.2,38.4 423.1,38.8 423.3,39.0 423.5,39.2 423.5,39.5 423.4,39.8 422.8,40.4 422.6,40.8 422.6,41.5 422.8,42.1 423.0,42.6 423.8,43.3 424.1,43.8 424.3,44.5 424.5,45.8 424.8,46.2 425.8,47.1 425.9,47.5 425.8,48.0 425.5,48.5 425.0,49.5 424.5,50.0 424.4,50.2 425.2,50.3 426.8,52.0 427.2,52.8 427.6,54.5 427.6,55.2 427.2,56.2 426.8,57.0 426.2,57.8 425.9,58.5 425.9,59.0 426.1,60.0 426.0,61.2 426.0,62.5 425.8,63.0 425.3,63.5 425.0,64.0 425.0,64.8 425.0,65.8 424.9,66.0 424.5,66.8 424.1,67.5 424.2,68.2 424.6,68.8 424.6,69.0 424.4,69.2 423.9,69.8 423.8,70.2 424.1,71.5 424.1,72.0 422.8,74.4 422.2,75.0 422.0,75.1ZM420.0,43.0 420.1,42.8 420.0,42.6 419.7,42.8 419.7,43.0 419.8,43.1 420.0,43.0ZM405.0,61.6 404.5,61.6 403.5,61.0 403.2,60.6 403.2,60.0 403.4,59.8 403.8,59.7 404.8,59.9 405.0,59.6 405.2,59.2 405.5,59.0 405.8,59.0 406.0,59.1 406.2,59.2 406.3,59.5 406.2,59.9 405.8,60.5 405.5,61.2 405.0,61.6ZM421.6,71.2 421.6,71.0 421.5,71.0 421.3,71.2 421.5,71.4 421.6,71.2Z" fill="#ff4a2a" fill-opacity="0.06" stroke="#e02a18" stroke-width="0.7" stroke-opacity="1.0"/>
<path d="M423.8,66.6 423.5,66.7 423.0,66.4 422.5,66.3 421.5,66.5 421.0,66.5 420.6,66.2 420.4,65.5 420.3,64.8 420.4,64.2 420.9,62.8 421.5,61.8 422.5,61.0 422.7,60.8 422.7,60.5 422.4,59.5 422.2,58.8 421.6,57.8 421.6,57.2 421.8,56.5 422.0,56.3 422.2,56.3 423.2,57.0 423.5,57.0 423.8,56.9 424.0,56.8 424.1,56.5 424.1,56.2 424.0,55.8 423.7,55.0 423.3,54.5 422.9,53.8 422.1,52.8 421.8,51.0 421.1,49.2 421.0,48.5 421.1,47.8 421.5,47.4 421.9,47.2 422.1,47.0 421.8,46.5 421.2,46.2 420.8,45.8 419.8,44.5 419.8,44.2 420.0,44.0 420.5,43.8 420.8,43.2 420.8,43.0 420.7,42.5 420.5,42.2 420.2,42.0 420.0,41.9 419.5,42.1 418.5,43.3 418.0,43.5 416.8,43.6 415.8,44.2 415.2,44.4 414.5,44.5 413.2,44.4 412.8,44.5 411.8,45.0 410.8,45.2 410.2,45.2 409.8,44.7 409.5,44.6 409.2,44.7 408.2,45.7 407.8,45.9 407.2,45.9 406.8,45.8 406.2,45.4 405.8,45.4 405.4,45.5 405.0,46.1 403.8,46.0 403.0,46.2 402.5,46.5 401.9,48.0 401.7,48.2 401.3,48.5 401.0,48.6 400.7,48.5 400.5,48.4 400.0,47.7 399.8,47.6 399.5,47.6 399.2,47.7 399.0,48.0 398.8,48.5 398.5,49.0 397.9,49.5 397.0,49.8 395.0,50.3 393.5,50.7 392.8,50.6 391.5,50.7 391.0,50.5 390.5,50.2 390.1,49.8 389.9,49.2 390.0,48.7 390.2,48.3 390.5,48.2 391.8,47.7 392.5,47.2 393.5,46.3 394.5,45.9 395.5,45.4 396.0,45.2 396.8,45.3 398.2,45.8 399.9,46.0 400.8,46.4 401.0,46.4 401.5,46.2 401.5,46.0 400.7,45.0 400.4,44.2 400.4,44.0 400.8,43.7 402.0,43.3 403.2,42.8 404.0,42.0 404.2,41.9 404.5,41.9 404.8,42.1 405.2,42.7 405.5,42.8 405.8,42.7 407.0,41.8 407.5,41.6 407.8,41.7 408.2,41.8 409.2,42.6 409.5,42.6 409.7,42.0 410.2,41.5 410.8,41.3 411.0,41.3 412.2,41.7 412.8,41.7 413.0,41.5 413.8,40.6 414.2,40.4 414.8,40.3 415.8,39.6 416.2,39.4 417.0,39.3 418.2,39.3 419.8,39.0 421.0,39.2 422.0,39.1 422.2,39.2 422.4,39.2 422.4,39.5 422.2,40.0 422.1,40.5 422.1,41.0 422.3,42.0 422.4,42.5 422.6,42.8 423.7,44.0 423.8,44.5 423.8,45.2 423.9,45.8 424.5,46.8 424.8,47.5 424.0,48.2 423.9,49.2 423.5,50.2 423.5,50.5 423.5,50.7 423.8,51.0 424.8,51.3 425.8,51.8 426.4,52.2 426.5,52.5 426.6,53.0 426.4,53.5 426.4,53.8 426.5,54.0 427.0,54.5 427.1,55.0 427.0,55.5 426.8,56.1 425.8,57.0 425.5,58.5 425.7,60.0 425.5,62.2 425.3,62.8 424.7,63.8 424.2,64.6 423.8,65.0 423.6,65.2 423.9,66.2 423.8,66.6ZM422.5,70.3 422.2,70.2 421.2,69.7 420.9,69.8 420.5,70.0 420.2,70.1 420.0,69.9 419.8,69.7 419.5,69.2 419.4,69.0 419.5,68.5 419.8,68.3 420.0,68.2 420.2,68.2 421.2,68.7 422.2,68.6 422.8,68.7 423.0,69.0 423.0,69.2 422.8,70.0 422.8,70.1 422.5,70.3ZM421.8,74.5 421.2,74.3 421.0,74.0 420.8,73.5 420.9,73.2 421.4,72.5 422.5,71.5 422.8,71.1 423.0,71.0 423.2,71.1 423.5,71.5 423.5,72.0 422.6,74.0 422.2,74.3 421.8,74.5Z" fill="#ff4a2a" fill-opacity="0.06" stroke="#e02a18" stroke-width="0.7" stroke-opacity="1.0"/>
<path d="M422.8,44.8 422.2,44.9 422.0,45.0 421.6,44.8 421.3,44.0 421.3,43.2 421.4,42.8 421.3,42.5 420.8,41.7 420.2,41.4 420.0,41.3 419.8,41.4 418.8,42.1 418.2,42.3 417.8,42.3 417.2,42.1 416.8,42.1 416.5,42.2 415.8,43.2 415.5,43.3 415.2,43.3 415.0,43.1 414.7,42.5 414.5,42.2 413.9,42.0 413.7,41.8 413.8,41.5 414.0,41.3 415.0,41.0 415.5,40.6 415.8,40.2 416.5,39.8 417.2,39.8 418.2,39.9 419.0,40.0 419.5,39.8 420.0,39.8 421.1,40.2 421.5,40.6 421.8,42.5 422.7,43.5 423.1,44.2 423.0,44.5 422.8,44.8ZM411.5,44.5 411.0,44.6 410.8,44.6 410.5,44.2 410.4,44.0 410.5,43.2 410.4,42.2 410.5,42.1 410.7,42.0 411.0,41.9 411.8,42.2 412.0,42.3 412.4,42.8 412.5,43.2 412.4,43.8 412.3,44.0 412.0,44.2 411.5,44.5ZM408.0,45.1 407.5,45.2 407.2,45.1 406.3,44.2 406.2,44.0 406.3,43.5 406.8,42.8 407.0,42.5 407.5,42.3 408.0,42.4 408.5,42.8 408.9,43.2 409.0,43.5 409.0,43.8 408.8,44.2 408.0,45.1ZM403.5,45.5 403.0,45.6 402.4,45.2 402.1,44.8 402.0,44.2 402.3,43.8 402.5,43.6 404.0,43.2 404.3,43.5 404.4,44.0 404.3,44.5 404.0,45.2 403.5,45.5ZM392.0,50.1 391.5,50.2 391.2,50.1 390.8,49.8 390.5,49.2 390.5,49.0 390.7,48.8 391.0,48.6 392.0,48.3 392.8,47.9 393.2,47.5 393.9,46.8 394.8,46.4 395.8,45.8 396.2,45.6 396.7,45.8 398.2,46.4 398.8,46.8 398.8,47.0 398.3,48.5 398.0,48.9 397.5,49.2 397.0,49.3 395.8,49.4 395.1,49.8 394.5,49.8 394.0,49.5 393.8,48.5 393.5,48.4 393.0,48.6 392.5,49.8 392.0,50.1ZM423.0,49.5 422.7,49.5 422.5,49.0 422.5,48.8 422.8,48.6 423.0,48.7 423.1,48.8 423.1,49.2 423.0,49.5ZM424.5,54.8 424.2,54.8 423.9,54.5 423.5,54.0 423.2,53.2 422.8,52.5 422.9,52.0 423.0,51.8 423.3,51.8 423.8,52.0 424.0,52.2 424.5,53.2 424.7,53.5 424.9,54.2 424.9,54.5 424.8,54.7 424.5,54.8ZM421.8,66.1 421.2,66.1 421.1,66.0 420.9,65.8 420.8,65.5 420.9,65.0 421.4,64.0 421.4,63.0 421.8,62.2 422.3,61.8 423.2,61.1 423.4,60.8 422.8,59.5 422.8,58.5 422.5,57.8 422.8,57.6 423.0,57.7 423.2,57.7 424.5,57.4 424.8,57.4 425.0,57.8 425.1,59.0 425.3,60.0 425.2,60.8 425.0,61.8 424.6,62.8 424.2,63.1 424.0,63.2 423.2,63.2 422.9,63.5 422.7,64.2 422.8,64.8 422.7,65.5 422.5,65.8 422.2,65.9 421.8,66.1ZM422.0,73.8 421.7,73.8 421.6,73.5 421.6,73.2 421.9,72.8 422.2,72.6 422.5,72.6 422.6,72.8 422.5,73.2 422.2,73.7 422.0,73.8Z" fill="#ff4a2a" fill-opacity="0.06" stroke="#e02a18" stroke-width="0.7" stroke-opacity="1.0"/>
<path d="M418.2,41.6 417.7,41.5 417.1,41.2 416.7,41.0 416.7,40.8 416.9,40.5 417.2,40.4 418.0,40.5 418.7,40.8 418.9,41.0 418.8,41.2 418.2,41.6ZM397.2,48.8 396.5,48.8 396.0,48.7 395.6,48.5 395.5,48.0 395.7,46.8 395.9,46.5 396.2,46.2 396.5,46.2 397.2,46.6 397.7,47.0 397.9,47.2 398.0,47.8 397.8,48.2 397.5,48.7 397.2,48.8ZM424.5,60.3 424.2,60.3 423.8,60.0 423.5,59.8 423.4,59.5 423.4,59.0 423.5,58.9 423.8,58.6 424.0,58.4 424.3,58.5 424.7,59.2 424.7,60.0 424.5,60.3Z" fill="#ff4a2a" fill-opacity="0.06" stroke="#e02a18" stroke-width="0.7" stroke-opacity="1.0"/>
<path d="M391,50 C400,45 412,41 421.5,41.5 C426,50 426,62 420,74" fill="none" stroke="#ff2408" stroke-width="3.4" opacity="0.92" filter="url(#bl05)"/>
<path d="M395,52 C404,48 412,46 418,46 C421,55 420,64 416,70" fill="none" stroke="#f04030" stroke-width="1.2" opacity="0.6"/>
<ellipse cx="469" cy="42.5" rx="13" ry="3.2" fill="#6e6e6e" opacity="0.6" filter="url(#bl15)"/>
<ellipse cx="492" cy="44" rx="10" ry="3.5" fill="#6e6e6e" opacity="0.55" filter="url(#bl15)"/>
<ellipse cx="500" cy="49" rx="3.5" ry="5.5" fill="#6e6e6e" opacity="0.45" filter="url(#bl15)"/>
<path d="M483.2,76.8 475.4,76.8 474.8,76.5 473.8,76.5 472.8,76.2 472.0,76.0 471.5,75.9 470.5,76.0 469.8,75.5 469.2,75.3 468.0,75.1 467.5,75.0 466.5,74.2 464.2,73.2 462.8,72.3 462.2,71.9 461.7,71.2 460.2,69.1 460.0,68.9 459.0,68.8 458.8,68.7 458.1,67.8 457.2,67.0 457.0,66.5 456.7,65.0 456.7,64.8 457.2,64.0 457.3,63.8 457.0,62.8 457.0,61.8 457.1,61.2 457.3,61.0 458.0,60.3 458.1,60.0 457.9,59.8 457.5,59.5 456.5,59.4 456.4,59.2 456.4,58.5 456.7,57.0 457.0,56.7 457.8,56.5 458.1,56.2 459.2,53.8 459.8,53.2 460.2,52.8 461.2,52.4 461.8,52.0 462.8,51.0 463.9,50.5 464.1,50.2 464.1,49.2 464.2,48.9 464.4,48.8 464.8,48.7 465.8,48.7 467.0,48.2 468.0,48.2 468.5,48.1 469.2,47.6 470.1,47.2 471.2,46.2 472.5,45.6 473.0,45.6 474.0,46.1 474.5,46.2 475.8,46.1 476.8,45.8 477.2,45.7 478.2,46.2 479.8,46.4 480.2,46.2 480.8,45.8 481.0,45.7 481.5,45.8 482.2,46.1 483.5,46.2 483.8,46.0 484.3,45.2 484.8,45.0 485.0,45.1 485.4,45.2 486.1,46.0 486.7,46.5 487.2,46.9 487.8,47.1 488.2,47.1 489.5,46.9 490.5,47.2 492.0,47.2 493.0,47.6 494.0,47.6 494.4,47.8 494.7,48.0 495.0,48.8 495.3,49.2 495.8,49.5 497.5,50.0 498.2,50.4 499.2,50.8 499.7,51.2 500.1,52.2 500.8,53.1 501.1,53.8 501.1,54.0 501.0,54.8 501.3,55.8 501.1,57.0 501.1,57.2 501.5,58.0 502.0,58.5 502.2,58.6 502.5,58.6 503.1,57.5 503.2,57.4 503.5,57.3 503.8,57.4 504.0,57.7 504.3,58.2 504.3,58.8 504.2,59.1 504.0,59.3 503.2,59.6 503.0,60.1 502.9,60.5 503.0,61.8 502.9,62.8 503.0,63.1 503.4,63.8 503.6,64.2 503.6,64.5 503.5,64.9 503.0,65.3 501.7,65.5 501.5,65.8 501.5,67.0 501.4,67.5 501.2,67.8 500.2,68.0 500.0,68.1 499.0,69.1 498.8,69.5 498.8,70.0 499.0,70.4 499.4,70.8 499.6,71.0 498.7,72.2 498.2,72.8 498.0,72.9 497.5,72.9 496.5,72.6 496.0,72.7 495.2,73.3 493.2,74.1 492.9,74.5 492.2,75.6 491.8,76.0 491.2,76.0 490.0,75.6 489.5,75.6 489.0,75.8 488.2,76.4 487.8,76.6 486.8,76.3 485.8,76.3 484.8,76.0 484.5,76.0 484.2,76.0 484.0,76.2 483.5,76.8 483.2,76.8ZM499.8,55.0 500.1,54.8 500.2,54.5 500.0,54.2 499.2,53.8 499.0,53.7 498.8,53.8 498.5,54.1 498.5,54.5 498.5,54.8 498.7,55.0 499.2,55.2 499.8,55.0Z" fill="#ff4a2a" fill-opacity="0.04" stroke="#e02a18" stroke-width="0.6" stroke-opacity="0.95"/>
<path d="M483.0,76.1 482.5,76.2 481.5,76.0 479.8,75.8 478.5,76.0 477.5,76.0 476.2,76.1 475.5,76.0 473.8,75.4 472.2,75.3 470.8,74.9 468.8,74.5 468.0,74.2 466.0,73.0 465.7,72.8 465.2,72.0 465.0,71.8 464.2,71.4 463.5,70.9 462.5,70.6 462.0,70.2 461.4,69.0 460.9,68.2 460.5,67.8 459.3,67.2 458.6,66.2 458.1,65.0 458.2,63.5 458.0,62.2 458.2,61.5 458.9,60.5 459.1,60.0 459.0,59.5 458.4,58.5 458.4,58.2 458.5,58.0 458.8,57.5 459.2,56.2 459.9,55.0 461.4,53.2 462.0,52.9 463.0,52.7 463.3,52.5 463.8,51.7 464.8,51.0 466.0,49.8 466.5,49.5 467.0,49.4 468.2,49.4 468.5,49.3 469.8,48.4 471.8,47.4 474.0,47.4 475.8,46.9 477.8,47.1 479.0,47.0 480.0,47.1 481.0,47.1 482.5,47.4 483.8,47.3 484.8,47.3 485.4,47.5 486.5,48.0 487.0,48.1 487.5,48.1 488.5,47.9 489.0,47.9 489.5,48.1 490.5,48.7 491.8,48.9 492.5,49.2 493.6,50.0 494.8,50.5 495.8,51.3 496.5,51.5 496.8,51.7 496.9,52.0 497.0,52.8 497.6,53.8 498.0,55.0 498.2,55.3 499.3,56.0 499.5,56.2 499.5,56.5 499.3,57.5 499.7,58.5 499.8,58.8 499.5,59.8 499.6,60.0 500.0,60.1 501.0,59.9 501.3,60.0 501.3,60.2 501.0,60.8 500.0,62.0 499.9,62.2 499.9,62.8 500.1,63.8 500.1,64.0 499.5,65.0 499.4,65.5 499.5,65.8 499.9,66.2 500.0,66.5 499.9,67.0 499.2,67.8 498.4,68.5 497.7,69.8 497.2,70.2 496.5,70.5 495.5,71.2 494.5,71.1 494.0,71.2 493.5,71.4 493.0,71.8 492.9,72.0 492.8,72.2 492.9,73.0 492.8,73.2 491.5,74.7 491.2,74.8 490.8,74.7 490.2,74.4 489.7,73.8 489.5,73.6 489.2,73.6 489.0,73.9 488.9,74.5 488.7,74.8 488.5,75.1 488.0,75.4 487.5,75.5 486.0,75.5 484.5,75.4 484.0,75.5 483.0,76.1ZM471.3,61.0 471.3,60.8 471.0,60.6 470.7,60.8 470.8,61.1 471.0,61.2 471.3,61.0Z" fill="#ff4a2a" fill-opacity="0.04" stroke="#e02a18" stroke-width="0.6" stroke-opacity="0.95"/>
<path d="M483.2,75.3 482.8,75.4 481.8,75.2 480.8,75.2 479.2,75.0 478.2,75.3 476.2,75.5 475.8,75.5 475.0,75.3 473.8,74.7 472.5,74.7 472.0,74.6 471.0,74.1 470.8,74.0 469.5,74.1 469.0,74.0 468.2,73.7 467.6,73.2 467.1,72.8 466.8,72.0 466.5,71.6 464.2,70.6 462.9,69.8 462.7,69.5 462.5,68.8 462.3,68.5 460.5,66.8 459.5,66.1 459.2,65.8 459.0,65.2 458.9,64.8 459.1,62.8 459.1,61.8 459.7,60.2 459.7,59.8 459.6,59.0 459.7,58.5 461.0,56.4 461.2,55.0 461.7,54.2 462.0,54.0 463.2,53.5 463.6,53.2 463.9,53.0 464.5,52.0 466.8,50.4 467.2,50.3 468.2,50.3 468.8,50.2 469.2,49.8 470.0,49.0 470.8,48.6 472.8,48.1 474.2,48.0 475.2,47.6 475.8,47.5 476.5,47.6 478.0,47.9 479.0,47.6 479.5,47.6 481.0,47.8 482.2,48.1 483.5,47.9 484.2,48.0 484.9,48.2 486.0,49.1 486.5,49.2 487.5,49.2 488.5,48.9 489.0,48.9 489.8,49.3 490.6,50.2 490.9,50.5 492.2,50.9 493.2,51.4 494.0,51.4 494.2,51.5 494.5,51.7 497.0,54.2 497.5,55.2 498.2,56.0 498.4,56.5 498.3,57.0 497.9,57.5 497.9,57.8 498.6,58.2 498.8,58.5 498.9,58.8 498.8,59.0 498.5,59.8 498.4,60.2 498.5,60.5 498.9,61.0 499.1,61.5 498.9,63.2 498.5,65.2 498.5,66.0 498.7,66.8 498.5,67.2 496.9,69.0 496.5,69.3 494.8,70.3 493.0,70.8 491.8,71.4 491.5,71.8 491.4,72.5 491.2,72.8 491.0,72.9 490.5,73.0 489.2,72.9 488.9,73.0 488.5,73.3 488.0,74.2 487.8,74.5 487.3,74.8 485.8,74.9 484.5,74.9 484.0,75.0 483.2,75.3ZM483.5,57.8 483.6,57.5 483.4,57.2 483.2,57.2 482.9,57.5 483.0,57.8 483.2,57.9 483.5,57.8ZM471.5,61.5 471.8,61.2 471.8,61.0 471.7,60.5 471.5,60.2 471.2,60.1 471.0,60.1 470.6,60.2 470.3,60.5 470.2,60.8 470.2,61.0 470.5,61.4 471.0,61.6 471.5,61.5ZM476.5,64.0 476.5,63.7 476.2,63.5 476.1,63.8 476.2,64.0 476.2,64.1 476.5,64.0ZM483.4,64.5 483.4,64.2 483.2,63.9 482.8,63.8 482.5,64.0 482.5,64.2 482.8,64.6 483.0,64.7 483.4,64.5ZM480.5,69.5 481.0,69.0 481.2,68.5 481.4,68.0 481.4,67.8 481.2,67.5 481.0,67.5 480.5,67.8 480.2,68.0 479.9,68.5 479.9,69.0 480.0,69.4 480.2,69.6 480.5,69.5Z" fill="#ff4a2a" fill-opacity="0.04" stroke="#e02a18" stroke-width="0.6" stroke-opacity="0.95"/>
<path d="M476.2,75.0 475.8,75.0 475.2,75.0 473.8,74.1 472.5,74.1 472.0,73.8 471.2,73.3 470.8,73.1 470.2,73.0 469.2,73.5 469.0,73.4 468.5,73.3 468.1,73.0 467.7,72.5 467.2,71.4 467.0,70.9 466.8,70.7 466.5,70.7 465.8,70.6 465.0,70.4 464.1,70.0 463.6,69.5 463.4,68.5 463.2,68.2 461.0,66.6 460.3,65.8 459.9,65.0 459.9,64.2 459.9,63.8 460.3,63.0 460.3,62.8 460.0,62.0 460.0,61.5 460.2,60.2 460.4,59.0 460.5,58.8 461.8,56.8 462.0,56.2 462.1,55.2 462.4,54.8 463.5,54.0 464.8,53.5 465.1,53.2 465.2,52.5 465.5,52.0 466.0,51.6 467.0,51.0 467.5,50.8 468.5,50.9 469.0,50.8 470.3,49.8 470.8,49.5 471.5,49.3 472.8,48.8 474.2,48.5 475.2,48.1 475.8,48.1 476.7,48.2 477.8,48.9 478.0,48.9 478.5,48.8 479.0,48.3 479.2,48.2 480.0,48.2 482.2,48.7 483.2,48.8 484.8,49.1 486.0,49.9 486.5,50.1 488.5,50.1 489.0,50.1 490.2,51.1 492.2,51.8 492.5,52.0 493.0,52.7 493.2,52.9 493.5,53.0 494.5,52.9 495.1,53.2 495.4,53.5 495.6,54.0 495.7,54.2 495.6,55.0 495.7,55.2 496.8,55.6 497.2,56.0 497.3,56.2 497.4,56.5 497.1,57.2 497.1,57.8 497.2,58.3 497.9,59.0 497.8,60.2 498.4,61.8 498.4,62.2 498.3,62.8 497.8,64.0 497.9,65.8 497.8,66.5 497.5,67.0 496.8,67.5 496.0,68.5 494.5,69.6 493.8,69.8 492.8,69.6 492.5,69.6 492.0,69.9 491.2,70.8 490.8,72.0 490.5,72.4 490.0,72.5 489.2,72.5 488.8,72.6 488.0,73.0 487.2,73.8 486.8,74.1 485.5,74.3 484.2,74.4 483.0,74.8 481.8,74.7 480.5,74.7 479.0,74.4 478.5,74.4 477.8,74.7 476.2,75.0ZM483.1,60.0 483.5,59.4 485.8,58.5 486.2,58.2 486.3,58.0 486.2,57.5 486.0,57.1 485.0,56.5 484.5,55.8 484.2,55.6 483.8,55.6 482.8,56.2 482.0,56.4 481.8,56.2 481.3,55.0 481.0,54.8 480.8,54.8 479.8,55.3 478.8,55.5 478.2,55.4 477.2,55.0 476.8,55.0 476.2,55.2 475.5,55.8 475.1,56.2 475.1,56.5 475.2,56.7 476.8,57.3 477.3,57.2 478.0,56.8 478.2,56.7 478.5,56.9 478.8,57.2 479.1,57.5 479.8,57.7 480.2,57.6 481.0,56.8 481.5,56.6 481.8,56.6 481.9,57.2 481.6,58.5 481.6,58.8 481.7,59.0 482.3,59.5 482.8,60.0 483.0,60.1 483.1,60.0ZM487.6,59.8 487.7,59.5 487.5,59.3 487.2,59.2 487.0,59.2 487.0,59.5 487.1,59.8 487.2,59.8 487.6,59.8ZM472.9,62.5 473.2,62.2 473.3,62.0 473.3,61.8 472.5,60.7 472.1,59.8 471.8,59.5 471.5,59.5 471.0,59.6 470.2,60.1 469.8,60.5 469.7,60.8 469.7,61.0 470.1,61.5 470.5,61.8 471.0,62.0 471.8,62.1 472.2,62.5 472.5,62.6 472.9,62.5ZM480.6,70.2 481.1,70.0 481.6,69.5 482.8,67.0 483.0,66.9 483.1,67.0 483.0,67.8 483.1,68.0 483.4,68.2 483.7,68.5 484.2,68.7 484.5,68.7 484.8,68.5 485.1,68.2 485.2,67.8 485.2,67.2 485.1,67.0 485.0,66.8 484.8,66.7 484.0,66.7 483.5,66.6 483.4,66.5 483.7,65.8 484.5,65.0 484.8,64.2 485.0,63.9 485.2,63.9 486.0,64.2 486.2,64.3 487.0,64.1 487.8,63.6 488.0,63.5 488.8,63.8 489.2,63.7 489.6,63.2 489.8,62.8 489.5,62.0 489.2,61.7 489.0,61.6 488.8,61.6 488.0,62.2 487.8,62.3 487.0,62.1 485.8,62.9 485.0,63.2 484.5,63.3 484.2,63.2 484.0,63.0 483.9,62.8 484.0,62.2 483.8,61.6 483.5,61.5 483.2,61.4 483.0,61.6 482.9,62.5 482.8,62.6 481.8,63.2 481.5,63.5 481.3,64.5 481.4,65.5 481.4,66.0 481.2,66.2 480.2,67.0 479.5,68.0 479.3,68.5 479.3,69.0 479.5,70.0 479.7,70.2 480.0,70.3 480.6,70.2ZM476.8,64.8 477.0,64.5 477.1,64.0 476.8,63.1 476.5,62.8 476.2,62.6 475.8,62.7 475.5,62.8 475.3,63.0 475.3,63.2 475.5,64.0 475.8,64.4 476.2,64.8 476.5,64.8 476.8,64.8ZM470.9,65.2 471.0,65.0 471.0,64.4 470.8,64.2 470.5,64.2 470.2,64.5 470.1,64.8 470.1,65.0 470.5,65.3 470.8,65.3 470.9,65.2Z" fill="#ff4a2a" fill-opacity="0.04" stroke="#e02a18" stroke-width="0.6" stroke-opacity="0.95"/>
<path d="M476.2,74.5 475.8,74.6 475.2,74.5 474.8,74.2 474.2,73.7 474.0,73.5 473.8,73.5 473.0,73.6 472.5,73.5 470.5,72.3 470.0,72.2 469.8,72.2 469.0,72.6 468.7,72.5 468.2,72.1 467.6,70.8 467.0,70.0 466.5,69.8 465.5,70.0 465.0,69.9 464.6,69.8 464.4,69.5 464.2,69.2 464.1,68.5 463.8,68.0 462.8,66.8 462.5,66.6 461.5,66.3 460.9,65.8 460.8,65.5 460.7,65.0 461.1,63.8 461.2,63.2 461.1,62.2 460.8,61.0 460.9,60.2 461.0,59.8 461.5,58.8 461.8,57.8 462.3,56.8 462.7,55.5 463.0,55.0 463.8,54.5 464.2,54.3 465.2,54.2 465.8,54.0 465.9,53.8 466.0,53.5 465.9,52.8 466.0,52.5 466.4,52.0 467.0,51.6 467.5,51.4 467.8,51.4 469.0,51.7 469.8,51.7 470.0,51.5 470.8,50.8 471.9,50.0 472.8,49.5 473.5,49.2 475.5,48.8 476.0,48.8 477.2,49.4 477.8,49.6 478.5,49.4 479.5,48.9 480.0,48.8 481.2,49.0 484.5,49.7 485.0,49.9 486.5,50.8 487.8,50.9 488.3,51.0 490.8,51.9 491.8,52.4 492.8,53.2 493.2,53.4 494.2,53.6 494.6,53.8 494.8,54.0 494.8,54.2 494.7,55.0 494.8,55.5 495.2,55.8 496.2,56.3 496.5,56.6 496.7,58.0 497.1,59.2 497.2,60.0 497.8,61.8 497.8,62.5 497.2,63.5 497.1,64.0 497.1,64.5 497.3,65.5 497.1,66.0 496.2,66.5 495.2,67.9 494.5,68.5 494.0,68.7 493.0,68.8 492.5,69.0 492.0,69.2 490.6,70.2 490.5,70.5 490.4,71.5 490.2,71.8 490.0,71.9 489.0,72.0 488.0,72.4 487.0,72.7 486.8,72.8 486.4,73.2 486.0,73.5 485.5,73.7 484.2,73.8 483.0,74.4 482.5,74.4 480.5,74.1 479.2,73.8 478.2,73.7 477.7,73.8 476.2,74.5ZM481.0,71.0 482.1,70.0 482.7,69.2 483.0,69.0 483.5,69.0 484.5,69.2 484.8,69.2 485.1,69.0 485.6,68.2 486.3,66.0 486.8,65.3 487.1,65.0 487.6,64.8 488.5,64.8 489.0,64.7 489.8,64.0 490.2,63.2 490.3,62.8 490.1,61.8 489.4,60.5 489.0,59.3 488.8,59.0 487.8,58.4 487.4,58.0 486.7,56.5 486.4,55.5 485.9,54.5 485.8,54.3 485.4,54.2 484.6,54.8 483.0,55.4 482.5,55.4 482.2,55.3 482.0,55.0 481.7,54.2 481.5,54.0 481.0,53.8 480.2,53.6 479.6,52.5 479.2,52.2 479.0,52.2 478.8,52.5 478.7,53.0 478.8,54.0 478.6,54.2 478.2,54.4 477.5,54.4 476.2,54.3 475.2,54.4 475.0,54.4 474.2,53.4 474.0,53.2 473.7,53.2 473.5,53.5 473.6,54.0 474.0,54.5 474.3,54.8 474.4,55.0 474.2,55.3 473.8,55.6 472.5,55.7 471.5,55.5 470.8,55.5 470.5,55.3 470.0,54.3 469.8,54.2 469.5,54.2 469.2,54.2 469.1,54.5 469.0,55.0 469.0,55.2 469.2,55.5 470.0,55.8 470.6,56.2 472.8,57.1 473.8,57.3 474.0,57.5 474.2,57.8 474.2,58.0 473.8,58.2 473.0,58.5 471.8,58.7 471.2,58.9 469.8,59.8 469.3,60.2 469.0,60.8 469.0,61.0 469.1,61.2 470.6,62.5 470.7,62.8 470.7,63.0 469.2,64.5 469.0,64.7 468.1,64.8 467.9,65.0 468.2,65.2 469.0,65.2 470.8,66.1 471.2,66.3 471.6,66.2 471.8,66.0 471.8,64.5 472.1,63.8 472.5,63.4 473.2,63.0 473.8,63.0 474.0,63.0 474.5,63.5 475.1,64.8 475.5,65.2 476.0,65.4 477.2,65.7 477.5,65.8 477.6,66.0 477.6,66.5 477.5,66.8 476.8,67.5 476.6,68.0 476.5,68.5 476.7,68.8 477.2,69.0 478.2,69.0 478.5,69.1 478.8,69.5 478.8,70.5 479.1,70.8 480.8,71.1 481.0,71.0ZM490.9,57.8 491.0,57.5 491.0,57.2 490.8,57.0 490.2,57.2 490.0,57.5 489.9,57.8 490.2,58.0 490.5,58.0 490.9,57.8ZM469.0,58.0 469.2,57.8 469.1,57.5 469.0,57.4 468.8,57.4 468.7,57.8 468.8,57.9 469.0,58.0ZM478.2,65.3 478.0,65.3 477.8,65.2 477.6,64.0 477.3,63.0 477.2,62.2 477.3,62.0 477.4,61.8 478.2,61.0 479.2,60.2 479.4,60.0 479.5,59.8 479.2,59.0 479.2,58.8 479.5,58.5 479.8,58.6 480.2,58.8 480.5,59.6 481.5,60.5 481.8,61.0 481.8,61.5 481.8,61.8 481.6,62.0 481.0,62.3 480.8,62.5 480.5,63.0 480.1,64.8 480.0,65.0 479.8,65.1 478.8,65.1 478.2,65.3ZM475.8,61.9 475.5,61.9 475.2,61.9 474.8,61.6 474.2,61.0 474.2,60.8 474.3,60.5 474.6,60.2 475.2,60.1 475.8,60.1 475.9,60.2 476.0,60.5 476.1,61.2 476.0,61.6 475.8,61.9ZM485.2,61.5 485.0,61.5 484.8,61.3 484.5,60.8 484.8,60.3 485.0,60.2 485.2,60.1 485.5,60.3 485.6,60.8 485.5,61.2 485.2,61.5ZM475.1,69.2 475.2,69.0 475.2,68.8 474.9,68.2 474.9,68.0 474.9,67.8 475.6,66.8 475.6,66.2 475.5,66.0 475.2,65.7 475.0,65.6 474.0,65.6 472.3,66.5 472.2,66.8 472.0,68.2 472.1,68.8 472.2,69.0 472.5,69.3 473.0,69.5 474.5,69.4 475.1,69.2ZM488.6,67.8 488.8,67.6 488.8,67.4 488.5,66.9 488.2,66.7 488.0,66.7 487.8,66.9 487.7,67.2 487.8,67.5 488.0,67.8 488.2,67.8 488.6,67.8ZM485.9,71.8 485.8,71.5 485.5,71.4 485.4,71.5 485.3,71.8 485.5,71.9 485.8,71.9 485.9,71.8ZM480.8,72.5 481.1,72.2 481.2,72.0 481.0,71.6 480.8,71.8 480.3,72.5 480.5,72.6 480.8,72.5Z" fill="#ff4a2a" fill-opacity="0.04" stroke="#e02a18" stroke-width="0.6" stroke-opacity="0.95"/>
<path d="M483.2,73.8 482.8,73.9 482.2,73.9 481.5,73.5 481.4,73.2 482.1,72.2 482.1,72.0 482.0,71.2 482.1,71.0 483.1,69.8 483.5,69.5 483.8,69.5 485.0,69.8 485.2,69.7 486.2,68.2 486.5,67.9 486.8,67.8 488.2,68.4 488.8,68.4 489.1,68.2 489.3,68.0 489.3,67.8 489.1,66.2 489.2,65.9 489.5,65.6 489.8,65.4 490.0,65.3 490.2,65.3 491.0,65.7 491.2,65.7 491.4,65.5 491.4,65.2 490.9,64.5 490.8,64.0 490.9,63.5 491.2,62.9 491.5,62.8 492.5,62.6 492.7,62.8 493.0,63.5 493.2,63.8 493.8,64.0 494.0,64.0 494.2,63.9 494.3,63.5 494.1,63.2 493.8,63.0 493.2,62.8 492.8,62.7 492.3,62.0 492.0,61.8 491.8,61.8 491.2,62.1 491.0,62.0 490.8,61.7 490.5,60.8 490.0,59.8 489.9,59.2 490.0,59.0 491.0,58.6 491.3,58.2 491.5,57.8 491.6,57.0 491.5,56.8 491.4,56.5 491.0,56.3 490.8,56.4 488.5,57.4 488.2,57.4 488.0,57.3 487.8,57.0 487.4,56.5 486.7,53.8 486.5,53.5 485.2,53.4 484.7,53.2 484.2,53.0 484.0,53.1 484.0,53.8 483.7,54.2 483.2,54.5 482.8,54.6 482.1,53.8 480.7,53.0 480.3,52.5 480.0,51.5 479.8,51.1 479.5,51.0 478.5,50.9 478.2,50.8 478.1,50.5 478.1,50.2 478.4,50.0 478.8,49.9 479.2,49.8 480.0,49.9 480.5,49.6 481.0,49.5 481.8,49.6 483.0,50.0 484.2,50.2 484.8,50.3 485.5,50.7 486.8,51.6 487.0,51.7 488.2,51.8 490.0,52.3 493.8,54.1 494.0,54.5 494.0,55.5 494.0,55.8 494.3,56.0 495.8,56.7 496.0,56.9 496.2,57.2 496.5,59.0 496.5,60.2 497.0,61.0 497.2,61.8 497.1,62.5 496.3,64.2 495.6,65.2 495.3,66.2 494.8,66.9 494.2,67.1 493.5,67.1 493.2,67.2 493.0,67.4 492.3,68.5 491.7,69.0 491.0,69.4 489.9,69.8 489.4,70.0 489.2,70.2 489.2,71.0 489.1,71.2 488.2,71.8 487.8,71.9 487.5,71.9 487.2,71.7 486.5,71.0 485.8,70.5 485.5,70.4 485.2,70.4 485.0,70.7 484.8,71.2 484.1,73.0 483.7,73.5 483.2,73.8ZM472.8,54.9 472.5,55.0 472.0,54.9 471.5,54.5 471.3,54.2 471.3,53.8 471.6,53.0 471.5,52.8 471.1,52.2 471.0,52.0 471.1,51.8 471.2,51.5 471.8,51.2 472.5,51.0 472.8,51.1 473.5,51.6 473.8,51.7 473.9,51.5 473.5,50.8 473.5,50.2 473.8,49.9 474.2,49.6 475.5,49.6 476.2,49.8 476.7,50.0 476.9,50.2 477.0,50.5 476.8,50.8 476.5,50.9 475.8,50.9 475.2,51.0 474.3,51.5 474.1,51.8 474.1,52.0 473.0,52.3 472.5,52.8 472.5,53.0 472.8,53.4 473.0,54.2 473.0,54.7 472.8,54.9ZM477.5,53.8 476.9,53.8 476.0,53.3 475.2,53.3 474.9,53.0 474.8,52.8 474.7,52.5 475.5,52.5 475.8,52.4 476.5,51.6 476.8,51.5 477.2,51.7 477.8,52.0 477.9,52.2 478.0,52.8 478.0,53.2 477.9,53.5 477.8,53.7 477.5,53.8ZM475.8,74.0 475.5,74.0 475.1,73.8 475.0,73.5 474.9,73.0 474.8,72.8 474.5,72.7 474.0,72.7 473.0,73.0 472.5,72.9 471.7,72.5 470.0,71.2 469.5,71.0 468.8,70.9 468.2,70.6 467.5,69.5 467.0,69.2 466.5,69.1 465.5,69.2 465.2,69.2 465.0,69.0 464.5,68.0 463.8,67.0 463.4,66.0 463.2,65.8 463.0,65.7 462.0,65.9 461.7,65.8 461.4,65.5 461.4,65.0 461.9,64.0 461.9,63.8 461.7,63.0 461.7,62.5 461.8,61.5 461.8,60.5 462.0,59.5 462.1,58.5 462.3,57.8 462.8,56.8 463.2,55.8 463.5,55.3 463.9,55.0 465.2,54.8 466.0,54.5 466.2,54.2 466.5,53.8 466.8,52.6 467.0,52.3 467.2,52.2 467.8,52.2 468.1,52.5 468.4,53.0 468.6,53.8 468.5,55.0 468.2,55.4 468.0,55.6 467.1,56.0 466.8,56.2 466.8,56.5 467.4,57.0 467.6,57.2 467.7,57.5 467.6,58.0 467.5,58.3 467.2,58.8 467.2,59.0 468.0,58.9 468.3,59.0 468.7,59.2 468.8,59.5 468.7,59.8 468.2,60.3 468.0,60.8 467.9,61.2 467.9,61.8 468.0,62.0 468.2,62.1 469.2,62.2 469.5,62.4 469.7,62.8 469.7,63.0 469.4,63.5 469.0,63.9 467.8,64.1 467.0,64.4 465.8,64.5 465.4,64.8 465.3,65.0 465.3,65.2 465.5,65.6 466.0,65.9 466.2,65.9 467.2,65.7 469.0,65.8 469.5,66.0 470.8,66.8 471.2,67.1 471.4,67.5 471.5,68.5 471.7,69.0 472.5,69.9 473.0,70.2 473.5,70.3 474.5,70.2 475.1,70.0 476.0,69.6 476.2,69.5 476.8,69.5 477.2,69.8 477.4,70.0 477.3,71.0 477.5,71.4 479.0,71.6 479.5,71.8 479.5,72.0 479.2,72.5 479.0,72.8 478.8,72.9 478.2,72.8 477.5,72.3 477.2,72.2 476.5,72.5 476.1,72.8 476.0,73.0 476.0,73.8 475.8,74.0ZM489.5,54.8 489.6,54.5 489.5,54.2 489.2,54.1 488.9,54.2 488.8,54.5 488.9,54.8 489.2,54.9 489.5,54.8ZM471.0,58.1 470.8,58.1 470.6,58.0 470.7,57.8 471.0,57.6 471.2,57.7 471.1,58.0 471.0,58.1ZM493.9,59.0 494.1,58.5 494.0,58.1 493.8,57.9 493.5,57.9 493.1,58.2 492.9,58.5 492.9,58.8 493.2,59.0 493.5,59.1 493.8,59.1 493.9,59.0ZM479.2,62.4 479.0,62.3 479.0,61.9 479.2,61.4 479.5,61.4 479.6,61.5 479.7,61.8 479.5,62.2 479.2,62.4ZM473.0,64.8 472.7,64.8 472.6,64.5 472.7,64.2 473.0,64.0 473.2,63.9 473.3,64.0 473.4,64.2 473.3,64.5 473.0,64.8Z" fill="#ff4a2a" fill-opacity="0.04" stroke="#e02a18" stroke-width="0.6" stroke-opacity="0.95"/>
<path d="M482.2,52.9 482.0,52.9 481.5,52.8 481.2,52.7 481.0,52.3 481.0,50.8 481.2,50.5 481.5,50.5 481.7,50.8 481.8,51.5 482.4,52.2 482.5,52.5 482.4,52.8 482.2,52.9ZM485.5,52.8 485.0,52.5 484.7,52.0 484.5,51.5 484.6,51.2 484.8,51.1 485.0,51.1 485.4,51.2 485.8,51.6 486.0,52.0 486.0,52.2 486.0,52.5 485.8,52.7 485.5,52.8ZM487.8,54.3 487.5,53.8 487.5,53.5 487.6,53.0 487.7,52.8 488.0,52.6 488.2,52.6 488.8,52.8 489.1,53.0 489.1,53.2 488.0,54.2 487.8,54.3ZM467.5,55.3 466.8,55.4 466.4,55.2 466.4,55.0 466.7,54.5 467.0,54.1 467.2,54.0 467.5,53.9 467.8,54.0 468.0,54.5 467.9,55.0 467.5,55.3ZM489.8,56.1 489.2,56.2 488.4,56.0 488.0,55.6 487.9,55.2 488.0,55.1 488.8,55.6 489.2,55.6 489.8,55.5 490.0,55.4 490.7,54.2 490.9,54.0 491.5,53.8 492.0,53.9 492.4,54.0 492.9,54.2 493.2,54.5 493.3,54.8 493.3,55.0 493.0,55.4 492.8,55.6 492.2,55.7 491.5,55.6 491.0,55.6 490.2,55.8 489.8,56.1ZM464.0,59.6 463.5,59.7 463.0,59.5 462.7,59.0 462.6,58.5 462.8,58.0 463.4,57.0 463.8,56.1 464.0,55.9 464.2,55.9 464.6,56.5 465.0,56.9 465.4,57.0 466.5,57.1 466.7,57.2 466.9,57.5 466.8,57.8 466.5,58.1 466.0,58.4 464.8,58.9 464.0,59.6ZM492.2,58.0 492.1,57.8 492.1,57.2 492.2,56.9 492.5,56.7 492.8,56.7 493.1,57.0 493.1,57.2 492.8,57.8 492.2,58.0ZM495.8,63.7 495.5,63.7 495.2,63.5 495.0,63.0 494.7,62.8 493.8,62.4 493.2,62.1 492.9,61.8 492.5,61.0 491.7,60.2 491.6,60.0 491.6,59.8 491.8,59.5 492.0,59.4 492.2,59.3 493.2,59.7 494.2,60.3 494.5,60.4 494.7,60.2 494.5,59.2 494.5,57.5 494.6,57.2 494.8,57.1 495.0,57.0 495.5,57.2 495.8,57.5 495.9,58.0 496.1,58.8 496.0,59.5 495.8,60.0 495.2,60.4 494.9,60.5 495.2,61.0 496.2,61.4 496.4,61.8 496.3,62.5 496.0,63.2 495.8,63.7ZM464.5,65.0 464.2,65.2 464.0,65.1 463.5,64.7 463.3,64.5 463.3,64.2 463.2,63.5 463.0,63.3 462.6,63.0 462.5,62.8 462.5,62.5 462.8,62.4 462.8,62.5 463.1,62.8 463.2,63.2 463.8,63.2 464.0,63.0 464.2,62.8 464.2,62.5 464.1,61.5 464.2,61.0 464.4,60.8 464.8,60.4 465.5,60.1 466.0,59.9 466.5,60.0 466.8,60.1 467.0,60.4 467.2,61.0 466.8,62.5 466.7,63.2 466.7,63.5 466.3,63.8 465.2,64.1 464.5,65.0ZM493.2,65.1 493.0,65.2 492.8,65.2 492.2,64.8 491.9,64.2 491.8,64.0 492.0,63.8 492.2,63.8 493.0,64.5 493.2,64.8 493.2,65.1ZM471.2,70.8 470.8,70.8 469.0,70.2 468.7,70.0 468.5,69.8 468.2,68.8 468.0,68.6 466.8,68.3 465.8,68.2 465.5,68.1 465.1,67.8 464.8,67.2 464.6,66.8 464.8,66.3 465.0,66.3 466.0,66.6 466.2,66.5 467.0,66.2 467.8,66.0 468.8,66.2 469.2,66.4 469.8,66.9 470.6,67.5 470.8,67.8 471.1,68.8 471.7,69.8 471.8,70.2 471.6,70.5 471.2,70.8ZM491.0,69.0 490.2,69.1 489.9,69.0 489.8,68.8 489.8,67.8 489.8,66.8 490.0,66.5 490.2,66.4 491.0,66.5 492.0,66.4 492.2,66.4 492.5,66.8 492.4,67.0 492.1,68.0 491.7,68.5 491.0,69.0ZM486.8,70.0 486.5,70.0 486.2,69.9 486.1,69.5 486.2,69.2 486.5,68.8 486.8,68.7 487.2,68.7 487.6,69.0 487.6,69.2 487.3,69.8 486.8,70.0ZM476.0,72.1 475.5,72.1 474.6,71.8 474.4,71.5 474.2,71.2 474.3,71.0 474.6,70.8 475.8,70.3 476.0,70.2 476.4,70.2 476.6,70.5 476.6,71.5 476.5,71.8 476.0,72.1ZM483.8,71.6 483.5,71.6 483.4,71.5 483.2,71.2 483.1,71.0 483.2,70.4 483.5,70.2 483.8,70.1 484.0,70.1 484.2,70.2 484.4,70.5 484.2,71.1 484.0,71.4 483.8,71.6Z" fill="#ff4a2a" fill-opacity="0.04" stroke="#e02a18" stroke-width="0.6" stroke-opacity="0.95"/>
<path d="M495.2,59.3 495.1,59.0 495.0,58.8 495.2,58.3 495.5,58.5 495.5,58.8 495.5,59.1 495.2,59.3ZM465.5,62.8 465.2,62.8 465.0,62.5 464.8,62.0 464.8,61.5 464.9,61.2 465.2,61.0 465.8,60.9 466.0,61.0 466.3,61.2 466.3,61.8 466.0,62.4 465.8,62.6 465.5,62.8ZM494.0,61.8 493.8,61.8 493.5,61.5 493.4,61.2 493.5,61.0 493.8,61.0 494.1,61.2 494.1,61.5 494.0,61.8ZM468.2,67.9 467.8,67.9 467.2,67.7 466.9,67.2 466.9,67.0 467.0,66.8 467.3,66.5 467.8,66.4 468.4,66.5 468.8,66.7 468.9,67.0 468.8,67.2 468.7,67.5 468.5,67.7 468.2,67.9ZM491.2,68.3 491.0,68.5 490.8,68.5 490.5,68.2 490.4,68.0 490.5,67.5 490.8,67.2 491.2,67.2 491.5,67.4 491.6,67.8 491.5,68.0 491.2,68.3ZM470.5,69.9 470.2,69.9 469.8,69.9 469.5,69.8 469.2,69.5 469.2,69.0 469.5,68.8 469.8,68.7 470.0,68.7 470.5,69.0 470.7,69.5 470.7,69.8 470.5,69.9Z" fill="#ff4a2a" fill-opacity="0.04" stroke="#e02a18" stroke-width="0.6" stroke-opacity="0.95"/>
<ellipse cx="474" cy="62" rx="14" ry="12" fill="#ff3418" opacity="0.45" filter="url(#bl1)"/>
<ellipse cx="491" cy="62" rx="9" ry="11" fill="#ff8a70" opacity="0.2" filter="url(#bl1)"/>
<path d="M486,49.5 C474,48 462,51 461,61 C460,71 469,74.5 480,74.5 C490,74.5 496,70 496,62 C496,54 492,50 486,49.5 Z" fill="none" stroke="#ff2408" stroke-width="1.4" opacity="0.85" filter="url(#bl05)"/>
<path d="M484,50 C474,48.5 463,52 462,61 C461,70 469,73.5 479,73.5" fill="none" stroke="#ff2408" stroke-width="3.4" opacity="0.9" filter="url(#bl05)"/>
<path d="M482,55 C474,53 467,56 467,62 C467,68 474,70 481,69 C487,68 489,64 487,60" fill="none" stroke="#ff2408" stroke-width="2" opacity="0.75" filter="url(#bl05)"/>
<ellipse cx="472.4" cy="64.5" rx="3" ry="1.8" fill="#f8f0f0" opacity="0.9"/>
<path d="M21.0,82 v1.5" stroke="#444" stroke-width="0.6"/>
<path d="M34.6,82 v1.5" stroke="#444" stroke-width="0.6"/>
<path d="M48.2,82 v1.5" stroke="#444" stroke-width="0.6"/>
<path d="M61.8,82 v1.5" stroke="#444" stroke-width="0.6"/>
<path d="M75.4,82 v1.5" stroke="#444" stroke-width="0.6"/>
<path d="M89.0,82 v1.5" stroke="#444" stroke-width="0.6"/>
<path d="M25,82.8 h5" stroke="#111" stroke-width="1.4"/>
<path d="M17,12.0 h1.5" stroke="#666" stroke-width="0.6"/>
<path d="M17,23.0 h1.5" stroke="#666" stroke-width="0.6"/>
<path d="M17,34.0 h1.5" stroke="#666" stroke-width="0.6"/>
<path d="M17,45.0 h1.5" stroke="#666" stroke-width="0.6"/>
<path d="M17,56.0 h1.5" stroke="#666" stroke-width="0.6"/>
<path d="M17,67.0 h1.5" stroke="#666" stroke-width="0.6"/>
<path d="M17,78.0 h1.5" stroke="#666" stroke-width="0.6"/>
<path d="M106.0,82 v1.5" stroke="#444" stroke-width="0.6"/>
<path d="M119.5,82 v1.5" stroke="#444" stroke-width="0.6"/>
<path d="M133.0,82 v1.5" stroke="#444" stroke-width="0.6"/>
<path d="M146.5,82 v1.5" stroke="#444" stroke-width="0.6"/>
<path d="M160.0,82 v1.5" stroke="#444" stroke-width="0.6"/>
<path d="M173.5,82 v1.5" stroke="#444" stroke-width="0.6"/>
<path d="M110,82.8 h5" stroke="#111" stroke-width="1.4"/>
<path d="M102,12.0 h1.5" stroke="#666" stroke-width="0.6"/>
<path d="M102,23.0 h1.5" stroke="#666" stroke-width="0.6"/>
<path d="M102,34.0 h1.5" stroke="#666" stroke-width="0.6"/>
<path d="M102,45.0 h1.5" stroke="#666" stroke-width="0.6"/>
<path d="M102,56.0 h1.5" stroke="#666" stroke-width="0.6"/>
<path d="M102,67.0 h1.5" stroke="#666" stroke-width="0.6"/>
<path d="M102,78.0 h1.5" stroke="#666" stroke-width="0.6"/>
<path d="M191.0,81.5 v1.5" stroke="#444" stroke-width="0.6"/>
<path d="M204.5,81.5 v1.5" stroke="#444" stroke-width="0.6"/>
<path d="M218.0,81.5 v1.5" stroke="#444" stroke-width="0.6"/>
<path d="M231.5,81.5 v1.5" stroke="#444" stroke-width="0.6"/>
<path d="M245.0,81.5 v1.5" stroke="#444" stroke-width="0.6"/>
<path d="M258.5,81.5 v1.5" stroke="#444" stroke-width="0.6"/>
<path d="M195,82.3 h5" stroke="#111" stroke-width="1.4"/>
<path d="M187,12.0 h1.5" stroke="#666" stroke-width="0.6"/>
<path d="M187,22.9 h1.5" stroke="#666" stroke-width="0.6"/>
<path d="M187,33.8 h1.5" stroke="#666" stroke-width="0.6"/>
<path d="M187,44.8 h1.5" stroke="#666" stroke-width="0.6"/>
<path d="M187,55.7 h1.5" stroke="#666" stroke-width="0.6"/>
<path d="M187,66.6 h1.5" stroke="#666" stroke-width="0.6"/>
<path d="M187,77.5 h1.5" stroke="#666" stroke-width="0.6"/>
<path d="M289.0,77.5 v1.5" stroke="#444" stroke-width="0.6"/>
<path d="M302.0,77.5 v1.5" stroke="#444" stroke-width="0.6"/>
<path d="M315.0,77.5 v1.5" stroke="#444" stroke-width="0.6"/>
<path d="M328.0,77.5 v1.5" stroke="#444" stroke-width="0.6"/>
<path d="M341.0,77.5 v1.5" stroke="#444" stroke-width="0.6"/>
<path d="M354.0,77.5 v1.5" stroke="#444" stroke-width="0.6"/>
<path d="M293,78.3 h5" stroke="#111" stroke-width="1.4"/>
<path d="M285,11.0 h1.5" stroke="#666" stroke-width="0.6"/>
<path d="M285,21.4 h1.5" stroke="#666" stroke-width="0.6"/>
<path d="M285,31.8 h1.5" stroke="#666" stroke-width="0.6"/>
<path d="M285,42.2 h1.5" stroke="#666" stroke-width="0.6"/>
<path d="M285,52.7 h1.5" stroke="#666" stroke-width="0.6"/>
<path d="M285,63.1 h1.5" stroke="#666" stroke-width="0.6"/>
<path d="M285,73.5 h1.5" stroke="#666" stroke-width="0.6"/>
<path d="M371.0,77.5 v1.5" stroke="#444" stroke-width="0.6"/>
<path d="M383.9,77.5 v1.5" stroke="#444" stroke-width="0.6"/>
<path d="M396.8,77.5 v1.5" stroke="#444" stroke-width="0.6"/>
<path d="M409.7,77.5 v1.5" stroke="#444" stroke-width="0.6"/>
<path d="M422.6,77.5 v1.5" stroke="#444" stroke-width="0.6"/>
<path d="M435.5,77.5 v1.5" stroke="#444" stroke-width="0.6"/>
<path d="M375,78.3 h5" stroke="#111" stroke-width="1.4"/>
<path d="M367,11.0 h1.5" stroke="#666" stroke-width="0.6"/>
<path d="M367,21.4 h1.5" stroke="#666" stroke-width="0.6"/>
<path d="M367,31.8 h1.5" stroke="#666" stroke-width="0.6"/>
<path d="M367,42.2 h1.5" stroke="#666" stroke-width="0.6"/>
<path d="M367,52.7 h1.5" stroke="#666" stroke-width="0.6"/>
<path d="M367,63.1 h1.5" stroke="#666" stroke-width="0.6"/>
<path d="M367,73.5 h1.5" stroke="#666" stroke-width="0.6"/>
<path d="M451.6,77.5 v1.5" stroke="#444" stroke-width="0.6"/>
<path d="M464.2,77.5 v1.5" stroke="#444" stroke-width="0.6"/>
<path d="M476.8,77.5 v1.5" stroke="#444" stroke-width="0.6"/>
<path d="M489.3,77.5 v1.5" stroke="#444" stroke-width="0.6"/>
<path d="M501.9,77.5 v1.5" stroke="#444" stroke-width="0.6"/>
<path d="M514.5,77.5 v1.5" stroke="#444" stroke-width="0.6"/>
<path d="M455.6,78.3 h5" stroke="#111" stroke-width="1.4"/>
<path d="M447.6,11.0 h1.5" stroke="#666" stroke-width="0.6"/>
<path d="M447.6,21.4 h1.5" stroke="#666" stroke-width="0.6"/>
<path d="M447.6,31.8 h1.5" stroke="#666" stroke-width="0.6"/>
<path d="M447.6,42.2 h1.5" stroke="#666" stroke-width="0.6"/>
<path d="M447.6,52.7 h1.5" stroke="#666" stroke-width="0.6"/>
<path d="M447.6,63.1 h1.5" stroke="#666" stroke-width="0.6"/>
<path d="M447.6,73.5 h1.5" stroke="#666" stroke-width="0.6"/>
<path d="M9.6,90.1 L9.6,60 M9.6,90.1 L43.3,90.1" stroke="#000" stroke-width="1.6" fill="none"/>
<path d="M6.199999999999999,64.2 L9.6,60 L13.0,64.2" stroke="#000" stroke-width="1.6" fill="none"/>
<path d="M39.099999999999994,86.69999999999999 L43.3,90.1 L39.099999999999994,93.5" stroke="#000" stroke-width="1.6" fill="none"/>
<path d="M276.2,90 L276.2,60 M276.2,90 L310.5,90" stroke="#000" stroke-width="1.6" fill="none"/>
<path d="M272.8,64.2 L276.2,60 L279.59999999999997,64.2" stroke="#000" stroke-width="1.6" fill="none"/>
<path d="M306.3,86.6 L310.5,90 L306.3,93.4" stroke="#000" stroke-width="1.6" fill="none"/>
<text x="0" y="0" font-size="6" transform="translate(5.8,83.8) rotate(-90)">CD27</text>
<text x="13.6" y="96.4" font-size="6" text-anchor="start" fill="#000" >CD45RO</text>
<text x="0" y="0" font-size="6" transform="translate(273,83.3) rotate(-90)">CD27</text>
<text x="280.8" y="96.8" font-size="5.5" text-anchor="start" fill="#000" >CD45RO</text>
<text x="20.5" y="111" font-size="5.5" text-anchor="middle" fill="#000" >PD-1</text>
<text x="20.5" y="118" font-size="5.5" text-anchor="middle" fill="#000" >CD160</text>
<text x="20.5" y="125" font-size="5.5" text-anchor="middle" fill="#000" >2B4</text>
<text x="20.5" y="131.5" font-size="5.5" text-anchor="middle" fill="#000" >LAG-3</text>
<rect x="49.5" y="99.5" width="4.8" height="4.6" fill="#5d1462"/>
<path d="M50.1,109.5 h3.6 M51.9,107.7 v3.6" stroke="#000" stroke-width="1.05"/>
<path d="M50.1,116.5 h3.6 M51.9,114.7 v3.6" stroke="#000" stroke-width="1.05"/>
<path d="M50.1,123.5 h3.6 M51.9,121.7 v3.6" stroke="#000" stroke-width="1.05"/>
<path d="M50.699999999999996,130.0 h2.4" stroke="#000" stroke-width="0.95"/>
<rect x="135.5" y="99.3" width="4.8" height="4.6" fill="#e020e0"/>
<path d="M136.1,109.5 h3.6 M137.9,107.7 v3.6" stroke="#000" stroke-width="1.05"/>
<path d="M136.70000000000002,116.5 h2.4" stroke="#000" stroke-width="0.95"/>
<path d="M136.1,123.5 h3.6 M137.9,121.7 v3.6" stroke="#000" stroke-width="1.05"/>
<path d="M136.70000000000002,130.0 h2.4" stroke="#000" stroke-width="0.95"/>
<rect x="225" y="99.3" width="4.8" height="4.6" fill="#ee88e6"/>
<path d="M226.70000000000002,109.5 h2.4" stroke="#000" stroke-width="0.95"/>
<path d="M218.20000000000002,116.5 h2.4" stroke="#000" stroke-width="0.95"/>
<path d="M217.6,123.5 h3.6 M219.4,121.7 v3.6" stroke="#000" stroke-width="1.05"/>
<path d="M226.70000000000002,130.0 h2.4" stroke="#000" stroke-width="0.95"/>
<text x="286.5" y="110" font-size="5.5" text-anchor="middle" fill="#000" >PD-1</text>
<text x="286.5" y="116" font-size="5.5" text-anchor="middle" fill="#000" >CD160</text>
<text x="286.5" y="122.5" font-size="5.5" text-anchor="middle" fill="#000" >2B4</text>
<text x="286.5" y="129" font-size="5.5" text-anchor="middle" fill="#000" >LAG-3</text>
<rect x="314.8" y="97.2" width="4.8" height="4.6" fill="#1a1a1a"/>
<path d="M315.4,108.5 h3.6 M317.2,106.7 v3.6" stroke="#000" stroke-width="1.05"/>
<path d="M315.4,114.5 h3.6 M317.2,112.7 v3.6" stroke="#000" stroke-width="1.05"/>
<path d="M315.4,121.0 h3.6 M317.2,119.2 v3.6" stroke="#000" stroke-width="1.05"/>
<path d="M316.0,127.5 h2.4" stroke="#000" stroke-width="0.95"/>
<rect x="400.7" y="97.2" width="4.8" height="4.6" fill="#808080"/>
<path d="M401.29999999999995,108.5 h3.6 M403.09999999999997,106.7 v3.6" stroke="#000" stroke-width="1.05"/>
<path d="M401.9,114.5 h2.4" stroke="#000" stroke-width="0.95"/>
<path d="M401.29999999999995,121.0 h3.6 M403.09999999999997,119.2 v3.6" stroke="#000" stroke-width="1.05"/>
<path d="M401.9,127.5 h2.4" stroke="#000" stroke-width="0.95"/>
<rect x="480.7" y="97.2" width="4.8" height="4.6" fill="#c4c4c4"/>
<path d="M481.9,108.5 h2.4" stroke="#000" stroke-width="0.95"/>
<path d="M473.4,114.5 h2.4" stroke="#000" stroke-width="0.95"/>
<path d="M473.79999999999995,121.0 h3.6 M475.59999999999997,119.2 v3.6" stroke="#000" stroke-width="1.05"/>
<path d="M481.9,127.5 h2.4" stroke="#000" stroke-width="0.95"/>
<path d="M37.5,153.5 L225,153.5" stroke="#000" stroke-width="1.3"/>
<text x="138" y="149.5" font-size="8" text-anchor="middle" fill="#000" font-style="italic">p&lt;0.0001</text>
<path d="M37.5,163.3 L131.3,163.3" stroke="#000" stroke-width="1.3"/>
<path d="M134.5,163.3 L225,163.3" stroke="#000" stroke-width="1.3"/>
<text x="86.2" y="161.2" font-size="8" text-anchor="middle" fill="#000" font-style="italic">p&lt;0.0001</text>
<text x="181.5" y="161" font-size="8" text-anchor="middle" fill="#000" font-style="italic">p=0.025</text>
<path d="M317,149 L480.5,149" stroke="#000" stroke-width="1.3"/>
<text x="403" y="146" font-size="8" text-anchor="middle" fill="#000" font-style="italic">p&lt;0.0001</text>
<path d="M316,160 L401.3,160" stroke="#000" stroke-width="1.3"/>
<path d="M405,160 L480.5,160" stroke="#000" stroke-width="1.3"/>
<text x="362.5" y="158" font-size="8" text-anchor="middle" fill="#000" font-style="italic">p=0.013</text>
<text x="441.5" y="158" font-size="8" text-anchor="middle" fill="#000" font-style="italic">p&lt;0.0001</text>
<path d="M49.50,203.40 L49.50,171.40 A32,32 0 0 1 74.72,183.70 Z" fill="#ff2608"/>
<path d="M49.50,203.40 L74.72,183.70 A32,32 0 0 1 29.80,228.62 Z" fill="#1838f6"/>
<path d="M49.50,203.40 L29.80,228.62 A32,32 0 0 1 21.51,187.89 Z" fill="#20ee10"/>
<path d="M49.50,203.40 L21.51,187.89 A32,32 0 0 1 49.50,171.40 Z" fill="#ffff00"/>
<path d="M136.00,200.90 L136.00,168.70 A32.2,32.2 0 0 1 143.79,169.66 Z" fill="#ff2608"/>
<path d="M136.00,200.90 L143.79,169.66 A32.2,32.2 0 0 1 164.16,216.51 Z" fill="#1838f6"/>
<path d="M136.00,200.90 L164.16,216.51 A32.2,32.2 0 1 1 112.84,178.53 Z" fill="#20ee10"/>
<path d="M136.00,200.90 L112.84,178.53 A32.2,32.2 0 0 1 136.00,168.70 Z" fill="#ffff00"/>
<path d="M224.20,199.80 L224.20,167.60 A32.2,32.2 0 0 1 228.68,167.91 Z" fill="#ff2608"/>
<path d="M224.20,199.80 L228.68,167.91 A32.2,32.2 0 0 1 256.40,200.36 Z" fill="#1838f6"/>
<path d="M224.20,199.80 L256.40,200.36 A32.2,32.2 0 0 1 192.83,207.04 Z" fill="#20ee10"/>
<path d="M224.20,199.80 L192.83,207.04 A32.2,32.2 0 0 1 224.20,167.60 Z" fill="#ffff00"/>
<path d="M317.60,194.10 L317.60,163.10 A31,31 0 0 1 332.15,166.73 Z" fill="#ff2608"/>
<path d="M317.60,194.10 L332.15,166.73 A31,31 0 1 1 288.47,204.70 Z" fill="#1838f6"/>
<path d="M317.60,194.10 L288.47,204.70 A31,31 0 0 1 302.57,166.99 Z" fill="#20ee10"/>
<path d="M317.60,194.10 L302.57,166.99 A31,31 0 0 1 317.60,163.10 Z" fill="#ffff00"/>
<path d="M403.40,194.40 L403.40,163.40 A31,31 0 0 1 413.49,165.09 Z" fill="#ff2608"/>
<path d="M403.40,194.40 L413.49,165.09 A31,31 0 0 1 395.38,224.34 Z" fill="#1838f6"/>
<path d="M403.40,194.40 L395.38,224.34 A31,31 0 0 1 392.80,165.27 Z" fill="#20ee10"/>
<path d="M403.40,194.40 L392.80,165.27 A31,31 0 0 1 403.40,163.40 Z" fill="#ffff00"/>
<path d="M483.40,197.10 L483.40,166.10 A31,31 0 0 1 502.49,172.67 Z" fill="#ff2608"/>
<path d="M483.40,197.10 L502.49,172.67 A31,31 0 0 1 499.83,223.39 Z" fill="#1838f6"/>
<path d="M483.40,197.10 L499.83,223.39 A31,31 0 0 1 452.70,201.41 Z" fill="#20ee10"/>
<path d="M483.40,197.10 L452.70,201.41 A31,31 0 0 1 483.40,166.10 Z" fill="#ffff00"/>
<path d="M64.5,243.75 L64.5,390.5 L210.5,390.5" stroke="#222" stroke-width="1" fill="none"/>
<path d="M61.5,243.75 L64.5,243.75" stroke="#222" stroke-width="0.8"/>
<text x="60.2" y="246.25" font-size="7" text-anchor="end" fill="#8a8a8a" >80</text>
<path d="M61.5,280.4375 L64.5,280.4375" stroke="#222" stroke-width="0.8"/>
<text x="60.2" y="282.9375" font-size="7" text-anchor="end" fill="#8a8a8a" >60</text>
<path d="M61.5,317.125 L64.5,317.125" stroke="#222" stroke-width="0.8"/>
<text x="60.2" y="319.625" font-size="7" text-anchor="end" fill="#8a8a8a" >40</text>
<path d="M61.5,353.8125 L64.5,353.8125" stroke="#222" stroke-width="0.8"/>
<text x="60.2" y="356.3125" font-size="7" text-anchor="end" fill="#8a8a8a" >20</text>
<path d="M99.5,388.9 L99.5,392.1" stroke="#222" stroke-width="0.8"/>
<path d="M134.5,388.9 L134.5,392.1" stroke="#222" stroke-width="0.8"/>
<path d="M170,388.9 L170,392.1" stroke="#222" stroke-width="0.8"/>
<path d="M205.5,388.9 L205.5,392.1" stroke="#222" stroke-width="0.8"/>
<text x="0" y="0" font-size="7.9" text-anchor="middle" transform="translate(39.6,313.5) rotate(-90)">% subset HIV specific CD8 T cells</text>
<path d="M73.25,349.5 L73.25,357.5 M73.25,377.5 L73.25,381.25" stroke="#333" stroke-width="0.9"/>
<rect x="70.75" y="357.5" width="5.0" height="20.0" fill="#761c78"/>
<path d="M73.25,357.5 L73.25,377.5" stroke="#222" stroke-width="0.8" opacity="0.5"/>
<path d="M70.75,370.75 L75.75,370.75" stroke="#000" stroke-width="1.2"/>
<path d="M82.0,373.75 L82.0,376.25 M82.0,388.75 L82.0,390" stroke="#333" stroke-width="0.9"/>
<rect x="79.5" y="376.25" width="5.0" height="12.5" fill="#d43ad4"/>
<path d="M82.0,376.25 L82.0,388.75" stroke="#222" stroke-width="0.8" opacity="0.5"/>
<path d="M79.5,383 L84.5,383" stroke="#000" stroke-width="1.2"/>
<path d="M91.25,380.75 L91.25,382 M91.25,390 L91.25,390" stroke="#333" stroke-width="0.9"/>
<rect x="88.75" y="382" width="5.0" height="8" fill="#eb8deb"/>
<path d="M91.25,382 L91.25,390" stroke="#222" stroke-width="0.8" opacity="0.5"/>
<path d="M88.75,388 L93.75,388" stroke="#000" stroke-width="1.2"/>
<path d="M108.5,269.5 L108.5,278.75 M108.5,335.5 L108.5,340" stroke="#333" stroke-width="0.9"/>
<rect x="105.75" y="278.75" width="5.5" height="56.75" fill="#761c78"/>
<path d="M108.5,278.75 L108.5,335.5" stroke="#222" stroke-width="0.8" opacity="0.5"/>
<path d="M105.75,305 L111.25,305" stroke="#000" stroke-width="1.2"/>
<path d="M117.5,319.5 L117.5,324.5 M117.5,355 L117.5,358" stroke="#333" stroke-width="0.9"/>
<rect x="115" y="324.5" width="5" height="30.5" fill="#d43ad4"/>
<path d="M117.5,324.5 L117.5,355" stroke="#222" stroke-width="0.8" opacity="0.5"/>
<path d="M115,342 L120,342" stroke="#000" stroke-width="1.2"/>
<path d="M126.375,317.5 L126.375,323 M126.375,373.75 L126.375,378" stroke="#333" stroke-width="0.9"/>
<rect x="123.75" y="323" width="5.25" height="50.75" fill="#eb8deb"/>
<path d="M126.375,323 L126.375,373.75" stroke="#222" stroke-width="0.8" opacity="0.5"/>
<path d="M123.75,356.25 L129,356.25" stroke="#000" stroke-width="1.2"/>
<path d="M143.875,326.25 L143.875,333.75 M143.875,370.75 L143.875,370.75" stroke="#333" stroke-width="0.9"/>
<rect x="141.25" y="333.75" width="5.25" height="37.0" fill="#761c78"/>
<path d="M143.875,333.75 L143.875,370.75" stroke="#222" stroke-width="0.8" opacity="0.5"/>
<path d="M141.25,343.25 L146.5,343.25" stroke="#000" stroke-width="1.2"/>
<path d="M152.5,259.5 L152.5,260 M152.5,310 L152.5,317" stroke="#333" stroke-width="0.9"/>
<rect x="150" y="260" width="5" height="50" fill="#d43ad4"/>
<path d="M152.5,260 L152.5,310" stroke="#222" stroke-width="0.8" opacity="0.5"/>
<path d="M150,289.5 L155,289.5" stroke="#000" stroke-width="1.2"/>
<path d="M161.5,272.5 L161.5,277.5 M161.5,334 L161.5,340" stroke="#333" stroke-width="0.9"/>
<rect x="158.75" y="277.5" width="5.5" height="56.5" fill="#eb8deb"/>
<path d="M161.5,277.5 L161.5,334" stroke="#222" stroke-width="0.8" opacity="0.5"/>
<path d="M158.75,311.25 L164.25,311.25" stroke="#000" stroke-width="1.2"/>
<path d="M178.875,322.5 L178.875,347.5 M178.875,387 L178.875,388" stroke="#333" stroke-width="0.9"/>
<rect x="176.25" y="347.5" width="5.25" height="39.5" fill="#761c78"/>
<path d="M178.875,347.5 L178.875,387" stroke="#222" stroke-width="0.8" opacity="0.5"/>
<path d="M176.25,375 L181.5,375" stroke="#000" stroke-width="1.2"/>
<path d="M188.0,345 L188.0,355.5 M188.0,387.5 L188.0,388" stroke="#333" stroke-width="0.9"/>
<rect x="185.5" y="355.5" width="5.0" height="32.0" fill="#d43ad4"/>
<path d="M188.0,355.5 L188.0,387.5" stroke="#222" stroke-width="0.8" opacity="0.5"/>
<path d="M185.5,381.25 L190.5,381.25" stroke="#000" stroke-width="1.2"/>
<path d="M197.0,296 L197.0,296.25 M197.0,375.5 L197.0,379.5" stroke="#333" stroke-width="0.9"/>
<rect x="194.5" y="296.25" width="5.0" height="79.25" fill="#eb8deb"/>
<path d="M197.0,296.25 L197.0,375.5" stroke="#222" stroke-width="0.8" opacity="0.5"/>
<path d="M194.5,355.5 L199.5,355.5" stroke="#000" stroke-width="1.2"/>
<path d="M340.7,239.5 L340.7,387.6 L488.5,387.6" stroke="#222" stroke-width="1" fill="none"/>
<path d="M337.7,239.5 L340.7,239.5" stroke="#222" stroke-width="0.8"/>
<text x="336.4" y="242.0" font-size="7" text-anchor="end" fill="#8a8a8a" >80</text>
<path d="M337.7,276.525 L340.7,276.525" stroke="#222" stroke-width="0.8"/>
<text x="336.4" y="279.025" font-size="7" text-anchor="end" fill="#8a8a8a" >60</text>
<path d="M337.7,313.55 L340.7,313.55" stroke="#222" stroke-width="0.8"/>
<text x="336.4" y="316.05" font-size="7" text-anchor="end" fill="#8a8a8a" >40</text>
<path d="M337.7,350.57500000000005 L340.7,350.57500000000005" stroke="#222" stroke-width="0.8"/>
<text x="336.4" y="353.07500000000005" font-size="7" text-anchor="end" fill="#8a8a8a" >20</text>
<path d="M376.25,386.0 L376.25,389.20000000000005" stroke="#222" stroke-width="0.8"/>
<path d="M412.5,386.0 L412.5,389.20000000000005" stroke="#222" stroke-width="0.8"/>
<path d="M447.5,386.0 L447.5,389.20000000000005" stroke="#222" stroke-width="0.8"/>
<path d="M483,386.0 L483,389.20000000000005" stroke="#222" stroke-width="0.8"/>
<text x="0" y="0" font-size="8.05" text-anchor="middle" transform="translate(318,310.8) rotate(-90)">% subset CMV specific CD8 T cells</text>
<path d="M350.25,361.25 L350.25,366.25 M350.25,383.75 L350.25,385.5" stroke="#333" stroke-width="0.9"/>
<rect x="347.5" y="366.25" width="5.5" height="17.5" fill="#383838"/>
<path d="M350.25,366.25 L350.25,383.75" stroke="#222" stroke-width="0.8" opacity="0.5"/>
<path d="M347.5,378 L353,378" stroke="#000" stroke-width="1.2"/>
<path d="M359.25,366 L359.25,368.75 M359.25,386.25 L359.25,387" stroke="#333" stroke-width="0.9"/>
<rect x="356.75" y="368.75" width="5.0" height="17.5" fill="#808080"/>
<path d="M359.25,368.75 L359.25,386.25" stroke="#222" stroke-width="0.8" opacity="0.5"/>
<path d="M356.75,382 L361.75,382" stroke="#000" stroke-width="1.2"/>
<path d="M368.75,349.5 L368.75,357 M368.75,386.25 L368.75,387" stroke="#333" stroke-width="0.9"/>
<rect x="366.25" y="357" width="5.0" height="29.25" fill="#c8c8c8"/>
<path d="M368.75,357 L368.75,386.25" stroke="#222" stroke-width="0.8" opacity="0.5"/>
<path d="M366.25,373.25 L371.25,373.25" stroke="#000" stroke-width="1.2"/>
<path d="M385.75,237 L385.75,250 M385.75,296.25 L385.75,309.5" stroke="#333" stroke-width="0.9"/>
<rect x="383.25" y="250" width="5.0" height="46.25" fill="#383838"/>
<path d="M385.75,250 L385.75,296.25" stroke="#222" stroke-width="0.8" opacity="0.5"/>
<path d="M383.25,265.5 L388.25,265.5" stroke="#000" stroke-width="1.2"/>
<path d="M394.75,260.75 L394.75,282 M394.75,313.25 L394.75,333.75" stroke="#333" stroke-width="0.9"/>
<rect x="392" y="282" width="5.5" height="31.25" fill="#808080"/>
<path d="M394.75,282 L394.75,313.25" stroke="#222" stroke-width="0.8" opacity="0.5"/>
<path d="M392,298 L397.5,298" stroke="#000" stroke-width="1.2"/>
<path d="M403.25,293 L403.25,313.75 M403.25,355 L403.25,370" stroke="#333" stroke-width="0.9"/>
<rect x="400.75" y="313.75" width="5.0" height="41.25" fill="#c8c8c8"/>
<path d="M403.25,313.75 L403.25,355" stroke="#222" stroke-width="0.8" opacity="0.5"/>
<path d="M400.75,342 L405.75,342" stroke="#000" stroke-width="1.2"/>
<path d="M421.5,322 L421.5,331.25 M421.5,367.5 L421.5,373.25" stroke="#333" stroke-width="0.9"/>
<rect x="418.75" y="331.25" width="5.5" height="36.25" fill="#383838"/>
<path d="M421.5,331.25 L421.5,367.5" stroke="#222" stroke-width="0.8" opacity="0.5"/>
<path d="M418.75,343 L424.25,343" stroke="#000" stroke-width="1.2"/>
<path d="M430.5,278 L430.5,288.75 M430.5,338 L430.5,347.5" stroke="#333" stroke-width="0.9"/>
<rect x="428" y="288.75" width="5" height="49.25" fill="#808080"/>
<path d="M430.5,288.75 L430.5,338" stroke="#222" stroke-width="0.8" opacity="0.5"/>
<path d="M428,319.5 L433,319.5" stroke="#000" stroke-width="1.2"/>
<path d="M439.5,293 L439.5,315.75 M439.5,345 L439.5,363.75" stroke="#333" stroke-width="0.9"/>
<rect x="437" y="315.75" width="5" height="29.25" fill="#c8c8c8"/>
<path d="M439.5,315.75 L439.5,345" stroke="#222" stroke-width="0.8" opacity="0.5"/>
<path d="M437,331.25 L442,331.25" stroke="#000" stroke-width="1.2"/>
<path d="M457.0,358.75 L457.0,368 M457.0,387.5 L457.0,387.5" stroke="#333" stroke-width="0.9"/>
<rect x="454.5" y="368" width="5.0" height="19.5" fill="#383838"/>
<path d="M457.0,368 L457.0,387.5" stroke="#222" stroke-width="0.8" opacity="0.5"/>
<path d="M454.5,378.75 L459.5,378.75" stroke="#000" stroke-width="1.2"/>
<path d="M465.75,367.5 L465.75,376.25 M465.75,387.5 L465.75,387.5" stroke="#333" stroke-width="0.9"/>
<rect x="463.25" y="376.25" width="5.0" height="11.25" fill="#808080"/>
<path d="M465.75,376.25 L465.75,387.5" stroke="#222" stroke-width="0.8" opacity="0.5"/>
<path d="M463.25,381.75 L468.25,381.75" stroke="#000" stroke-width="1.2"/>
<path d="M475.0,302 L475.0,309.5 M475.0,375 L475.0,375.5" stroke="#333" stroke-width="0.9"/>
<rect x="472.5" y="309.5" width="5.0" height="65.5" fill="#c8c8c8"/>
<path d="M475.0,309.5 L475.0,375" stroke="#222" stroke-width="0.8" opacity="0.5"/>
<path d="M472.5,331.25 L477.5,331.25" stroke="#000" stroke-width="1.2"/>
<text x="60" y="400.5" font-size="7.6" text-anchor="end" fill="#3c3c3c" letter-spacing="0.7">CD27</text>
<text x="60" y="412.3" font-size="7.6" text-anchor="end" fill="#3c3c3c" letter-spacing="0.7">CD45RO</text>
<text x="60" y="424.2" font-size="7.6" text-anchor="end" fill="#3c3c3c" letter-spacing="0.7">CCR7</text>
<text x="60" y="435.5" font-size="7.6" text-anchor="end" fill="#3c3c3c" letter-spacing="0.7">Pie Slice</text>
<path d="M81.0,399.1 h2.4 M82.2,397.8 v2.6" stroke="#555" stroke-width="0.7"/>
<path d="M81.0,410.90000000000003 h2.4 M82.2,409.6 v2.6" stroke="#555" stroke-width="0.7"/>
<path d="M81.0,422.8 h2.4 M82.2,421.5 v2.6" stroke="#555" stroke-width="0.7"/>
<rect x="79.3" y="429.5" width="5.8" height="5.8" fill="#ff2608" stroke="#333" stroke-width="0.8"/>
<text x="82.2" y="449" font-size="10" text-anchor="middle" fill="#000" >CM</text>
<path d="M116.1,399.1 h2.4 M117.3,397.8 v2.6" stroke="#555" stroke-width="0.7"/>
<path d="M116.1,410.90000000000003 h2.4 M117.3,409.6 v2.6" stroke="#555" stroke-width="0.7"/>
<path d="M116.1,422.8 h2.4" stroke="#999" stroke-width="0.6"/>
<rect x="114.39999999999999" y="429.5" width="5.8" height="5.8" fill="#1838f6" stroke="#333" stroke-width="0.8"/>
<text x="117.3" y="449" font-size="10" text-anchor="middle" fill="#000" >TM</text>
<path d="M151.4,399.1 h2.4" stroke="#999" stroke-width="0.6"/>
<path d="M151.4,410.90000000000003 h2.4 M152.6,409.6 v2.6" stroke="#555" stroke-width="0.7"/>
<path d="M151.4,422.8 h2.4" stroke="#999" stroke-width="0.6"/>
<rect x="149.7" y="429.5" width="5.8" height="5.8" fill="#20ee10" stroke="#333" stroke-width="0.8"/>
<text x="152.6" y="449" font-size="10" text-anchor="middle" fill="#000" >EM</text>
<path d="M186.8,399.1 h2.4" stroke="#999" stroke-width="0.6"/>
<path d="M186.8,410.90000000000003 h2.4" stroke="#999" stroke-width="0.6"/>
<path d="M186.8,422.8 h2.4" stroke="#999" stroke-width="0.6"/>
<rect x="185.1" y="429.5" width="5.8" height="5.8" fill="#ffff00" stroke="#333" stroke-width="0.8"/>
<text x="188" y="449" font-size="10" text-anchor="middle" fill="#000" >Eff</text>
<text x="335.5" y="398" font-size="7.6" text-anchor="end" fill="#3c3c3c" letter-spacing="0.7">CD27</text>
<text x="335.5" y="410" font-size="7.6" text-anchor="end" fill="#3c3c3c" letter-spacing="0.7">CD45RO</text>
<text x="335.5" y="421.8" font-size="7.6" text-anchor="end" fill="#3c3c3c" letter-spacing="0.7">CCR7</text>
<text x="335.5" y="433.6" font-size="7.6" text-anchor="end" fill="#3c3c3c" letter-spacing="0.7">Pie Slice</text>
<path d="M357.8,396.6 h2.4 M359,395.3 v2.6" stroke="#555" stroke-width="0.7"/>
<path d="M357.8,408.6 h2.4 M359,407.3 v2.6" stroke="#555" stroke-width="0.7"/>
<path d="M357.8,420.40000000000003 h2.4 M359,419.1 v2.6" stroke="#555" stroke-width="0.7"/>
<rect x="356.1" y="428" width="5.8" height="5.8" fill="#ff2608" stroke="#333" stroke-width="0.8"/>
<text x="359" y="443.2" font-size="10" text-anchor="middle" fill="#000" >CM</text>
<path d="M393.2,396.6 h2.4 M394.4,395.3 v2.6" stroke="#555" stroke-width="0.7"/>
<path d="M393.2,408.6 h2.4 M394.4,407.3 v2.6" stroke="#555" stroke-width="0.7"/>
<path d="M393.2,420.40000000000003 h2.4" stroke="#999" stroke-width="0.6"/>
<rect x="391.5" y="428" width="5.8" height="5.8" fill="#1838f6" stroke="#333" stroke-width="0.8"/>
<text x="394.4" y="443.2" font-size="10" text-anchor="middle" fill="#000" >TM</text>
<path d="M429.1,396.6 h2.4" stroke="#999" stroke-width="0.6"/>
<path d="M429.1,408.6 h2.4 M430.3,407.3 v2.6" stroke="#555" stroke-width="0.7"/>
<path d="M429.1,420.40000000000003 h2.4" stroke="#999" stroke-width="0.6"/>
<rect x="427.40000000000003" y="428" width="5.8" height="5.8" fill="#20ee10" stroke="#333" stroke-width="0.8"/>
<text x="430.3" y="443.2" font-size="10" text-anchor="middle" fill="#000" >EM</text>
<path d="M464.40000000000003,396.6 h2.4" stroke="#999" stroke-width="0.6"/>
<path d="M464.40000000000003,408.6 h2.4" stroke="#999" stroke-width="0.6"/>
<path d="M464.40000000000003,420.40000000000003 h2.4" stroke="#999" stroke-width="0.6"/>
<rect x="462.70000000000005" y="428" width="5.8" height="5.8" fill="#ffff00" stroke="#333" stroke-width="0.8"/>
<text x="465.6" y="443.2" font-size="10" text-anchor="middle" fill="#000" >Eff</text>
</svg></body></html>
